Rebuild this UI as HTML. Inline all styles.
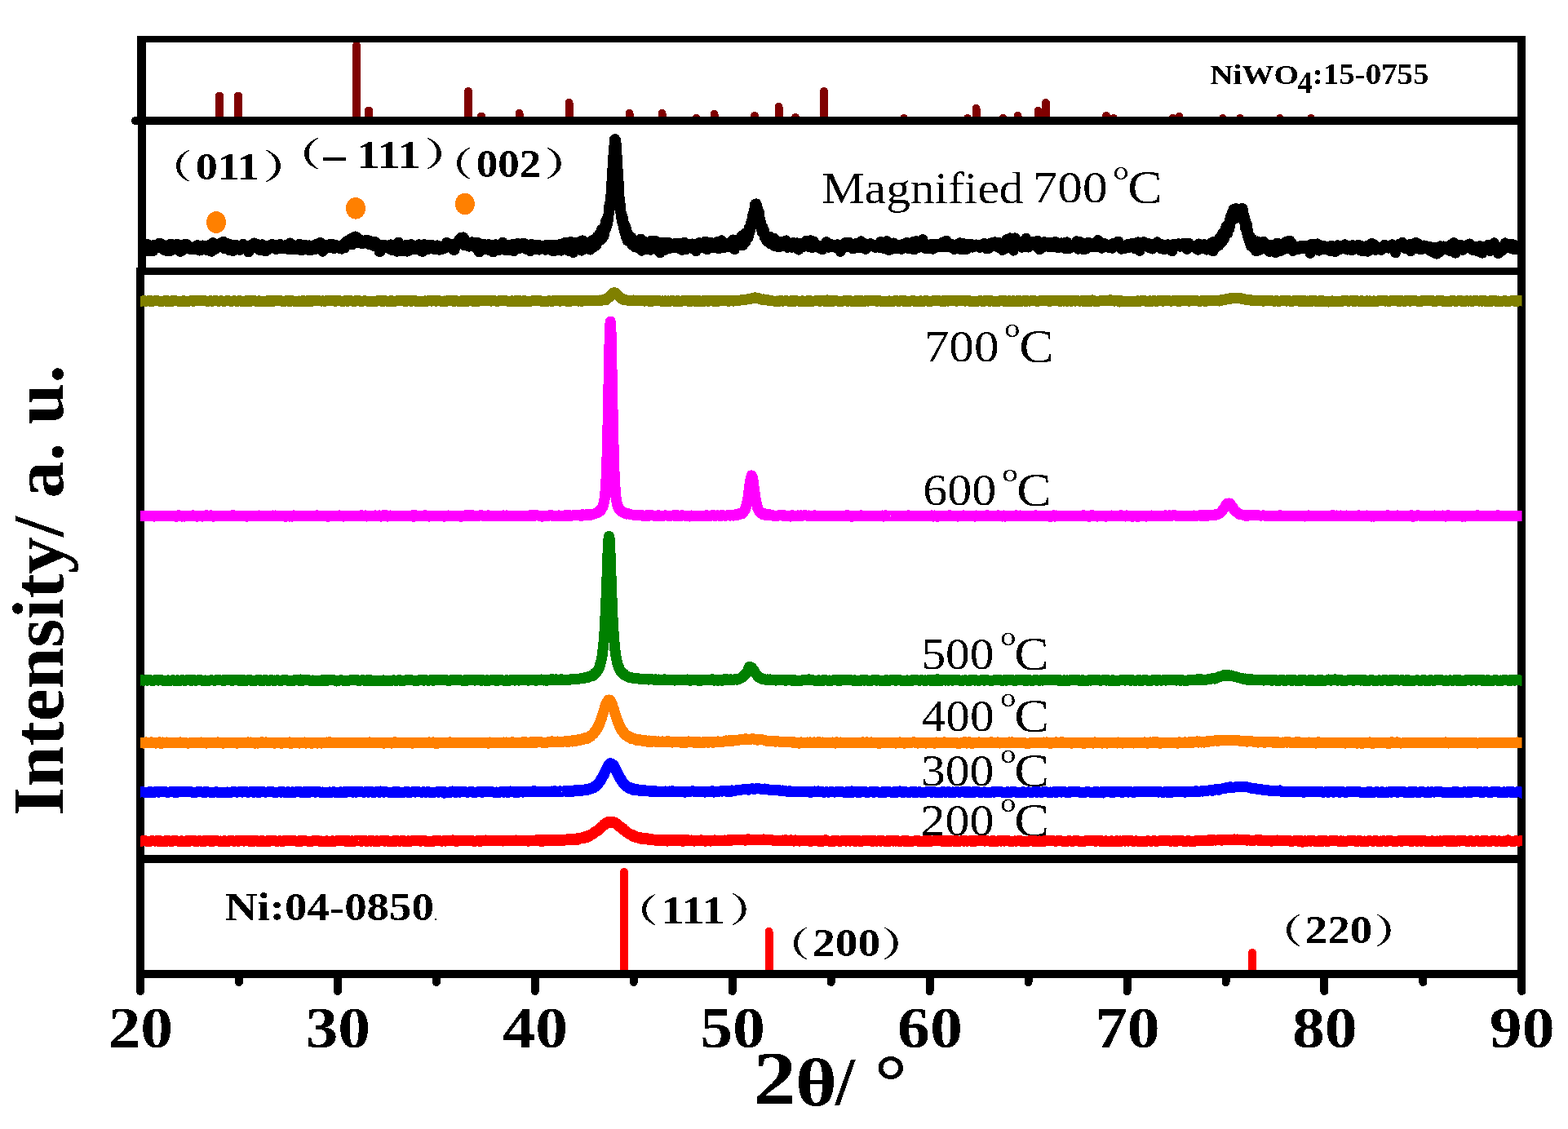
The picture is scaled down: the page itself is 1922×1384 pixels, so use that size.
<!DOCTYPE html><html><head><meta charset="utf-8"><title>XRD</title><style>html,body{margin:0;padding:0;background:#fff;width:1922px;height:1384px;overflow:hidden}svg{display:block}text{font-variant-ligatures:none}polyline,line,rect,circle,ellipse{shape-rendering:crispEdges}.s{font-family:"Liberation Serif","Noto Serif CJK SC",serif}.b{font-weight:bold}.cj{font-family:"Liberation Serif","Noto Serif CJK SC",serif}</style></head><body>
<svg width="1922" height="1384" viewBox="0 0 1922 1384">
<rect width="1922" height="1384" fill="#fff"/>
<clipPath id="cb"><rect x="179" y="153" width="1681" height="175"/></clipPath>
<polyline clip-path="url(#cb)" fill="none" stroke="#000" stroke-width="13" stroke-linejoin="round" points="172,303.4 173,304.1 173.9,306.5 174.9,301.7 175.9,302.8 176.8,303.3 177.8,306.2 178.8,301 179.7,303.5 180.7,299.6 181.7,301.9 182.6,307.9 183.6,302.1 184.6,303.2 185.5,304.8 186.5,305.1 187.5,307.7 188.4,301.8 189.4,300.2 190.4,302.3 191.4,303.1 192.3,301.5 193.3,299.5 194.3,303.9 195.2,298.3 196.2,302.9 197.2,302.1 198.1,299 199.1,302.1 200.1,301.5 201,306.3 202,304.5 203,304.6 203.9,301.5 204.9,307.8 205.9,300.8 206.8,302.9 207.8,303.2 208.8,307.5 209.7,299 210.7,301.4 211.7,303.4 212.6,302.3 213.6,305.8 214.6,302.6 215.5,301.7 216.5,299.5 217.5,299.3 218.4,302 219.4,302.4 220.4,304.9 221.3,308.4 222.3,303.5 223.3,306.9 224.3,306 225.2,300.6 226.2,299.4 227.2,301.8 228.1,304.7 229.1,299.8 230.1,300.6 231,304.9 232,302.2 233,305.4 233.9,304.6 234.9,304.9 235.9,303.7 236.8,305.2 237.8,303.3 238.8,302.5 239.7,305.5 240.7,303.1 241.7,300.7 242.6,306.1 243.6,304.5 244.6,307 245.5,302.3 246.5,303.3 247.5,306.1 248.4,301 249.4,302.8 250.4,301.5 251.3,302.7 252.3,301.1 253.3,306.6 254.2,301 255.2,301.4 256.2,302.4 257.1,300.6 258.1,305.6 259.1,308.2 260.1,299.7 261,297.7 262,303.6 263,305.3 263.9,305.4 264.9,300.8 265.9,299.1 266.8,302.6 267.8,299.1 268.8,299.7 269.7,298.1 270.7,300.7 271.7,300.4 272.6,297.7 273.6,296.2 274.6,300.9 275.5,304.9 276.5,300.1 277.5,298.2 278.4,302.2 279.4,301.4 280.4,302.1 281.3,307 282.3,299.8 283.3,302.3 284.2,301.9 285.2,307.6 286.2,304.7 287.1,300.5 288.1,300.8 289.1,303 290,300.7 291,304 292,301.1 292.9,302.4 293.9,306.5 294.9,304.3 295.9,301.8 296.8,304.6 297.8,299.3 298.8,299.8 299.7,303.2 300.7,302 301.7,303.9 302.6,304.4 303.6,302.4 304.6,308.9 305.5,303.9 306.5,303.5 307.5,304.5 308.4,302.5 309.4,299.5 310.4,302 311.3,298 312.3,303.9 313.3,304 314.2,304.1 315.2,300.7 316.2,299.7 317.1,304.4 318.1,304.6 319.1,306.9 320,300.1 321,299.9 322,302.6 322.9,306.8 323.9,307.3 324.9,306.4 325.8,307.7 326.8,301.8 327.8,301.2 328.8,305.9 329.7,302.1 330.7,301 331.7,302.3 332.6,301.3 333.6,299.4 334.6,301 335.5,300.1 336.5,301.9 337.5,305.3 338.4,303.8 339.4,305.2 340.4,302.1 341.3,301.3 342.3,301.6 343.3,299.4 344.2,302.2 345.2,304.4 346.2,303.2 347.1,302.2 348.1,301.1 349.1,304.7 350,301.7 351,300.2 352,303.2 352.9,300.6 353.9,305.6 354.9,300.7 355.8,298 356.8,300.3 357.8,304 358.7,305.3 359.7,300.6 360.7,303.5 361.6,303.4 362.6,303.4 363.6,305.5 364.6,303.8 365.5,302.4 366.5,299.7 367.5,299.3 368.4,302.1 369.4,306.8 370.4,303.3 371.3,302.4 372.3,304.8 373.3,302.4 374.2,300.5 375.2,303.2 376.2,304.8 377.1,304.2 378.1,306.5 379.1,300.9 380,305.1 381,304.9 382,306.4 382.9,305.2 383.9,303 384.9,301.2 385.8,303.6 386.8,305.6 387.8,299.2 388.7,299.7 389.7,300.7 390.7,302 391.6,300.1 392.6,297.4 393.6,302.3 394.5,299.6 395.5,308.2 396.5,307.3 397.5,301.6 398.4,300.8 399.4,300.9 400.4,301 401.3,301.4 402.3,302.3 403.3,299.9 404.2,303.2 405.2,302.3 406.2,302.1 407.1,299.5 408.1,299.6 409.1,304.5 410,303.9 411,303.2 412,300.8 412.9,301.4 413.9,302.1 414.9,302.7 415.8,302.1 416.8,304.5 417.8,303.2 418.7,305.1 419.7,301.2 420.7,302 421.6,298.8 422.6,303.8 423.6,297.9 424.5,295.7 425.5,296.6 426.5,299.7 427.4,298.7 428.4,298.5 429.4,293.1 430.3,292.6 431.3,300 432.3,291.5 433.3,295.6 434.2,294.2 435.2,290 436.2,290.1 437.1,290.8 438.1,292.8 439.1,297.7 440,294.5 441,296.5 442,294.3 442.9,296.4 443.9,299 444.9,297.1 445.8,296.2 446.8,295 447.8,296.9 448.7,294.3 449.7,298.3 450.7,294.6 451.6,294.9 452.6,294.9 453.6,299.9 454.5,298.3 455.5,299.4 456.5,297.1 457.4,299.5 458.4,301.6 459.4,300.6 460.3,296.6 461.3,298.9 462.3,299.5 463.2,300.5 464.2,301 465.2,308.5 466.2,308.4 467.1,303.9 468.1,300.8 469.1,301.8 470,300.7 471,300.7 472,301.8 472.9,301 473.9,301.8 474.9,302.9 475.8,302.7 476.8,304.6 477.8,305.2 478.7,299.9 479.7,304.5 480.7,304 481.6,306.9 482.6,304.2 483.6,302 484.5,305.2 485.5,305.9 486.5,308.2 487.4,297.9 488.4,297.1 489.4,300.2 490.3,301 491.3,303.1 492.3,307.6 493.2,304.7 494.2,302.4 495.2,304.7 496.1,302.3 497.1,300.4 498.1,306.7 499,308.1 500,304.8 501,306.1 502,306.5 502.9,306.2 503.9,299.6 504.9,303.7 505.8,302.7 506.8,301.5 507.8,302.9 508.7,305.3 509.7,304.4 510.7,302.4 511.6,303.8 512.6,301.8 513.6,299.7 514.5,301.6 515.5,302.3 516.5,308.1 517.4,305.4 518.4,308.1 519.4,301.6 520.3,299.6 521.3,302.7 522.3,306.1 523.2,305.9 524.2,301.7 525.2,304.3 526.1,300 527.1,301.6 528.1,300.6 529,302.4 530,305 531,300.9 531.9,303.7 532.9,305.8 533.9,304 534.8,303.4 535.8,300.9 536.8,301.2 537.8,303.7 538.7,306.2 539.7,305.5 540.7,305.8 541.6,304.2 542.6,303 543.6,303.4 544.5,301.6 545.5,304.3 546.5,301.1 547.4,297.5 548.4,302.5 549.4,302.1 550.3,302.7 551.3,300.2 552.3,299.4 553.2,301.5 554.2,302.2 555.2,299.9 556.1,306.5 557.1,306.2 558.1,298.7 559,301.9 560,297.6 561,299.3 561.9,299.4 562.9,293.6 563.9,293.4 564.8,291.5 565.8,293.8 566.8,296.2 567.7,290.9 568.7,291.8 569.7,301 570.7,296 571.6,301 572.6,299.6 573.6,298.2 574.5,302.1 575.5,299.3 576.5,301 577.4,302 578.4,296.8 579.4,298.7 580.3,298.5 581.3,300.5 582.3,300.8 583.2,303.9 584.2,301 585.2,297.3 586.1,303 587.1,309 588.1,300.4 589,303.9 590,304.8 591,301.6 591.9,302.7 592.9,299.3 593.9,305.1 594.8,303.3 595.8,305.3 596.8,304.4 597.7,302.7 598.7,299.7 599.7,306.4 600.6,300 601.6,300.1 602.6,302.5 603.5,302.1 604.5,309 605.5,302 606.5,301.2 607.4,299.8 608.4,301.6 609.4,304.1 610.3,305 611.3,305.5 612.3,306.3 613.2,300.9 614.2,304.4 615.2,303.7 616.1,297.3 617.1,300.2 618.1,303 619,304.2 620,306.6 621,304 621.9,300.2 622.9,301.3 623.9,307 624.8,302.6 625.8,300.9 626.8,301.9 627.7,299.6 628.7,300.1 629.7,307.7 630.6,303.7 631.6,302.3 632.6,305.3 633.5,304.9 634.5,298.5 635.5,304.9 636.4,302.1 637.4,300.5 638.4,302.5 639.4,301.5 640.3,298.6 641.3,301.8 642.3,301.7 643.2,298.6 644.2,305 645.2,305.5 646.1,304.5 647.1,302.1 648.1,301.2 649,305 650,307.7 651,302.5 651.9,299.4 652.9,302.5 653.9,305.6 654.8,304.1 655.8,305.5 656.8,302.2 657.7,302.2 658.7,300.2 659.7,301.8 660.6,306.1 661.6,300.8 662.6,301.4 663.5,304.9 664.5,301.4 665.5,302.1 666.4,303.7 667.4,303 668.4,306.2 669.3,300.7 670.3,300.7 671.3,303.2 672.2,305.4 673.2,300.8 674.2,300.1 675.2,301.8 676.1,302.5 677.1,307.3 678.1,306.6 679,307.8 680,300.3 681,301.1 681.9,301.5 682.9,300 683.9,304.1 684.8,306.3 685.8,303.1 686,304.4 686.3,301.3 686.6,302.3 686.8,299.4 686.9,302.7 687.2,304.1 687.5,303.6 687.7,307.2 687.8,303.3 688.1,300.5 688.4,303.2 688.7,302.2 688.7,298.9 688.9,301.8 689.2,305.7 689.5,302.8 689.7,305.8 689.8,303.8 690.1,304.3 690.4,302.2 690.6,305.3 690.7,306 691,305.8 691.3,302.5 691.6,301.9 691.6,301.7 691.8,301.6 692.1,305.1 692.4,304 692.6,299.3 692.7,297.3 693,301.3 693.3,302.1 693.5,301 693.6,298.9 693.9,297.9 694.2,302 694.5,298.3 694.5,299.1 694.7,303.9 695,304.6 695.3,300.6 695.5,301.9 695.6,302.5 695.9,299.9 696.2,300.3 696.4,301.7 696.5,299.6 696.8,305.3 697.1,307.3 697.4,301.2 697.4,297.9 697.6,306.3 697.9,305.1 698.2,301.3 698.4,298.8 698.5,301.6 698.8,301.2 699.1,299.9 699.3,299.1 699.4,299.2 699.7,296.6 700,304.3 700.3,304.1 700.3,302.9 700.6,301.7 700.8,302.4 701.1,299.9 701.3,305.1 701.4,299.9 701.7,300.4 702,304.5 702.2,298.7 702.3,300 702.6,309.5 702.9,302.8 703.2,300.1 703.2,303.7 703.5,300.3 703.7,305.6 704,306.5 704.2,304.3 704.3,305.3 704.6,305.9 704.9,301.8 705.1,302.2 705.2,297.3 705.5,299.9 705.8,302.5 706.1,299.1 706.1,303.7 706.4,300.8 706.6,301.5 706.9,299.7 707.1,299.5 707.2,298.2 707.5,299.3 707.8,303.3 708.1,302.4 708.1,302.4 708.4,298.8 708.7,302 709,303.9 709,301.1 709.3,298.6 709.6,298.8 709.8,298.5 710,300.9 710.1,298.4 710.4,303.5 710.7,302.8 711,302.3 711,304.8 711.3,301.3 711.6,305.8 711.9,298.6 711.9,295.6 712.2,297.6 712.5,299.8 712.7,302 712.9,307.1 713,301.2 713.3,302.3 713.6,298.3 713.9,294.8 713.9,298.6 714.2,304.2 714.5,299.9 714.8,302.1 714.8,302.3 715.1,303.3 715.4,304.3 715.6,301.4 715.8,301.3 715.9,303.7 716.2,303.1 716.5,298.8 716.8,303.1 716.8,301.4 717.1,302.2 717.4,298 717.7,296.9 717.7,302.3 718,297.3 718.3,297.8 718.5,299.3 718.7,300.3 718.8,299.4 719.1,299.7 719.4,304.9 719.7,298.7 719.7,299.5 720,302.4 720.3,304.2 720.6,300.8 720.6,301.2 720.9,300 721.2,297.8 721.5,299.8 721.6,301.7 721.7,298.1 722,299.1 722.3,299.3 722.6,298.4 722.6,299.8 722.9,297.9 723.2,298.6 723.5,305.5 723.5,306.1 723.8,297.2 724.1,302.4 724.4,298.7 724.5,298.9 724.6,299.4 724.9,298.9 725.2,295.8 725.5,298.4 725.5,296.1 725.8,298.6 726.1,298.7 726.4,294.4 726.4,302.4 726.7,296.8 727,299.2 727.3,303 727.4,299.4 727.5,301.3 727.8,301.7 728.1,297.6 728.4,296.7 728.4,295.3 728.7,296.5 729,300.9 729.3,296.2 729.3,301.3 729.6,298.1 729.9,295.8 730.2,298.7 730.3,300.4 730.5,295 730.7,295.5 731,300.5 731.3,297.8 731.3,292.9 731.6,290.5 731.9,296.1 732.2,295.5 732.2,291.3 732.2,293.5 732.5,292.3 732.5,294.3 732.8,292.8 732.8,293.4 733.1,292.5 733.1,293.1 733.2,296.4 733.4,291.3 733.4,293.8 733.6,290.7 733.7,295.5 733.9,295 734,293 734.2,292.4 734.2,292 734.3,291.9 734.5,290.6 734.6,291.7 734.8,295.1 734.9,288.6 735.1,294.1 735.1,292.9 735.1,294.1 735.4,292.6 735.4,285.7 735.7,291.8 735.7,294.5 736,291.8 736,288.9 736.1,292.6 736.3,288.2 736.3,287.9 736.5,291.1 736.6,288 736.8,290.4 736.9,284.9 737.1,283.8 737.1,281.7 737.2,284.9 737.4,285.7 737.5,287.8 737.7,286.8 737.8,282.9 738,285.3 738,288.4 738,286.4 738.3,289.6 738.3,292.5 738.6,283.7 738.6,280.5 738.9,281.8 738.9,286.2 739,283.7 739.2,281.2 739.2,286.1 739.4,289.3 739.5,283.9 739.7,283.7 739.8,283 740,286.3 740,288.1 740.1,289.7 740.3,281.5 740.4,281.9 740.6,281.3 740.7,278.2 740.9,282.4 740.9,280.1 740.9,280.7 741.2,282 741.2,281.9 741.5,279.8 741.5,280.2 741.8,275.4 741.8,278.3 741.9,280.6 742.1,281.3 742.1,280.2 742.4,271.6 742.4,276.3 742.6,279.4 742.7,278.3 742.9,279.4 742.9,278.1 743,278.9 743.2,277.1 743.3,271.8 743.5,274 743.6,275.8 743.8,273.7 743.9,268.9 743.9,271.6 744.1,274.9 744.1,276.5 744.4,270.6 744.4,272.5 744.7,270.9 744.7,271 744.8,269.9 745,269.1 745,269.8 745.3,269.7 745.3,267.1 745.5,266.7 745.6,265.2 745.8,265.3 745.8,263.8 745.9,262.9 746.1,261.4 746.2,263.1 746.4,257.1 746.5,256.2 746.7,252.7 746.8,253 746.8,258.2 747,254 747,257.7 747.3,250.4 747.3,253.2 747.6,254.4 747.6,251.8 747.7,252.3 747.9,248.6 747.9,248.2 748.2,248.5 748.2,247.9 748.4,240.8 748.5,245.2 748.7,241.7 748.7,241.7 748.8,241.1 749,241.1 749.1,239.1 749.3,230.4 749.4,234 749.6,230.7 749.7,228.6 749.7,231.3 749.9,223 749.9,223 750.2,220.6 750.2,218 750.5,213.6 750.5,211.1 750.6,208.6 750.8,208.2 750.8,215.1 751.1,209.1 751.1,205.4 751.4,206.2 751.4,202 751.6,192.4 751.6,194.6 751.7,192.1 751.9,193.6 752,196 752.2,186.1 752.3,189.7 752.5,185.9 752.6,184.3 752.6,186.3 752.6,186.2 752.8,184.9 752.9,179.5 753.1,176.7 753.1,176 753.4,170.9 753.4,172.1 753.5,177.4 753.7,175.8 753.7,170.6 754,174.7 754,176.3 754,175.2 754.3,173.6 754.3,172.3 754.5,174.8 754.5,171.8 754.6,174 754.8,175.8 754.9,172.3 755.1,177 755.2,181.4 755.4,184.3 755.5,181.9 755.5,183.4 755.7,189 755.8,184.5 756,189.7 756,193 756.3,200 756.3,197 756.4,197.8 756.6,199.4 756.6,202.7 756.9,203.3 756.9,205.2 757.2,210.3 757.2,212.4 757.4,215 757.4,216.7 757.5,221.3 757.7,222.4 757.8,222.3 758,221.6 758.1,223.7 758.3,229 758.4,230.8 758.4,227.8 758.6,233.7 758.7,233.9 758.9,237.9 758.9,243.4 759.2,243.2 759.2,241.8 759.3,242.5 759.5,245.7 759.5,247 759.8,250.6 759.8,250.7 760.1,250.1 760.1,254.9 760.3,252.8 760.3,255.1 760.4,254.7 760.6,254.1 760.7,253.8 760.9,257.1 761,261.5 761.2,260.5 761.3,261 761.3,260 761.5,266.1 761.6,262 761.8,262.4 761.8,262.2 762.1,267.5 762.1,265.6 762.2,267.7 762.4,268.9 762.4,263.8 762.7,268.7 762.7,272.2 763,272.3 763,270.7 763.2,273 763.3,266.8 763.3,267.5 763.5,269.7 763.6,272.5 763.8,271.6 763.9,276.2 764.1,273.6 764.2,272.2 764.2,273.5 764.4,279 764.5,279.8 764.7,277.7 764.8,281 765,276.1 765,275.1 765.1,280.8 765.3,278.9 765.3,281.6 765.6,283.8 765.6,282.1 765.9,281.1 765.9,280.6 766.1,277.4 766.2,282 766.2,285.7 766.4,285.6 766.5,280 766.7,279 766.8,282.5 767,285.6 767.1,278.1 767.1,282.3 767.3,285 767.4,283.8 767.6,285.6 767.7,291.4 767.9,290.8 767.9,281.5 768,283.8 768.2,288.3 768.2,291.5 768.5,287.1 768.5,289.7 768.8,286.5 768.8,290.6 769,290.6 769.1,295 769.1,293 769.3,286.1 769.4,288.7 769.6,289 769.7,288.1 769.9,290.8 770,287 770,290.8 770.2,288.7 770.3,292.8 770.5,289.2 770.6,292.9 770.8,293.4 770.8,293.5 770.9,290.2 771.1,292.2 771.1,291.9 771.4,291.1 771.4,292.1 771.7,293 771.7,293.4 771.9,295.9 772,292.4 772,290.1 772.3,291.9 772.3,293.6 772.5,295.1 772.6,292.5 772.8,291.9 772.9,295.9 772.9,293.5 773.1,294.7 773.2,295.1 773.4,295.1 773.5,293.9 773.7,295.4 773.8,296.4 773.8,298.6 774,297.2 774,293.3 774.3,296.9 774.3,291.6 774.6,292.7 774.6,300.2 774.8,296.8 774.9,294.3 774.9,295.3 775.2,296.8 775.2,297.9 775.4,299.9 775.5,299.6 775.7,293 775.8,298.8 776,294.3 776.3,294.4 776.6,297 776.7,294.2 776.9,297.3 777.2,296.9 777.5,299.2 777.7,302.5 777.8,297.1 778.1,296.2 778.3,298.3 778.6,299.1 778.7,295.4 778.9,298.9 779.2,294.9 779.5,302 779.7,302.8 779.8,298.7 780.1,296.6 780.4,298.2 780.6,298.5 780.7,299.6 781,299.3 781.2,301.9 781.5,302.1 781.6,296.1 781.8,295.3 782.1,299.9 782.4,300.4 782.6,304 782.7,297.4 783,297 783.3,302.1 783.5,301.5 783.6,298.2 783.9,299.5 784.2,301.8 784.4,299.9 784.5,302 784.7,300 785,303.3 785.3,293 785.5,294 785.6,301 785.9,303.3 786.2,302.5 786.4,307.3 786.5,304.4 786.8,302.4 787.1,301.4 787.3,301.4 787.4,301.8 787.6,304.4 787.9,301.4 788.2,297.6 788.4,301.3 788.5,298.4 788.8,298.5 789.1,297.1 789.3,301.9 789.4,298.8 789.7,301.3 790,302 790.2,296.3 790.3,296.9 790.5,296.5 790.8,298.1 791.1,302 791.3,301.1 791.4,301.5 791.7,306 792,302.1 792.2,301.4 792.3,302.7 792.6,300.9 792.9,300.8 793.2,300.9 793.2,299.4 793.4,302.3 793.7,300.4 794,299.7 794.2,298.9 794.3,298.9 794.6,297.1 794.9,298.7 795.1,300.7 795.2,303.6 795.5,299.5 795.8,305.9 796.1,300.9 796.1,305.2 796.3,300.8 796.6,304.1 796.9,305.8 797.1,303.9 797.2,305.1 797.5,306.2 797.8,299.9 798,295.5 798.1,295.8 798.4,304.1 798.7,304.2 799,300.9 799,301.2 799.2,297.9 799.5,302.1 799.8,304.2 800,301.2 800.1,301.5 800.4,298.2 800.7,302.1 800.9,301.1 801,302.8 801.3,301.3 801.6,301.2 801.9,301.8 801.9,301.4 802.1,304 802.4,302.8 802.7,298.6 802.9,302.7 803,301.4 803.3,295.5 803.6,295.6 803.8,304.1 803.9,297 804.2,300.5 804.5,301.4 804.8,299.6 804.8,304.7 805.1,303.7 805.3,306 805.6,302.6 805.8,302.3 805.9,299.5 806.2,304 806.5,300.6 806.7,300.8 806.8,300.6 807.1,302 807.4,303.8 807.7,302 807.7,301.9 808,303.3 808.2,301.9 808.5,300.1 808.7,297.6 808.8,304.2 809.1,309.9 809.4,304.2 809.6,303.9 809.7,300.4 810,304.2 810.3,300.9 810.6,301.8 810.6,304.1 810.9,303.1 811.1,297.8 811.4,298.6 811.6,299 811.7,301.9 812,304.4 812.3,306.6 812.6,302.1 812.6,300.1 812.9,297.1 813.2,299.7 813.5,302.9 813.5,304.3 813.8,306.8 814.1,300.4 814.3,301.5 814.5,303.3 814.6,305.6 814.9,302.8 815.2,301.1 815.5,303 815.5,302.4 815.8,300.4 816.1,302.3 816.4,299.9 816.4,298.2 816.7,299.3 817,298.2 817.2,301.6 817.4,300.6 817.5,300.8 817.8,303.3 818.1,305.1 818.4,303.5 818.4,302.6 818.7,302.3 819,297.3 819.3,297.3 820.3,301 821.3,298.2 822.2,304.1 823.2,301.5 824.2,303.7 825.1,299 826.1,303.4 827.1,300.7 828,298.5 829,300.6 830,301 830.9,304.1 831.9,301.5 832.9,304 833.8,298.5 834.8,303.3 835.8,306.3 836.7,301.2 837.7,299 838.7,297.2 839.6,300.6 840.6,305.7 841.6,300.4 842.5,299.1 843.5,299.2 844.5,299.7 845.4,302.9 846.4,303.1 847.4,304.3 848.4,299 849.3,299.8 850.3,300.1 851.3,303.1 852.2,303.1 853.2,307.7 854.2,304.1 855.1,300.6 856.1,299.5 857.1,297.7 858,301.8 859,302.5 860,303.5 860.9,299.5 861.9,303 862.9,303.9 863.8,303.5 864.8,296 865.8,299.9 866.7,305.9 867.7,303.1 868.7,298.7 869.6,300.3 870.6,301.2 871.6,297.6 872.5,297.9 873.5,299.9 874.5,303.6 875.4,299.3 876.4,300.9 877.4,298.7 878.3,296.8 879.3,300.7 880.3,304.6 881.3,301.4 882.2,304.4 883.2,299.3 884.2,294.8 885.1,297.7 886.1,302 887.1,303.8 888,303.1 889,298 890,302 890.9,301.7 891.9,299.5 892.9,298 893.8,302.4 894.8,298.8 895.8,302.6 896.5,303.4 896.7,295.9 896.8,299.7 897.1,302 897.4,300.2 897.7,303.3 897.7,302.7 897.9,299.5 898.2,299 898.5,297.7 898.7,299.8 898.8,293.9 899.1,297.6 899.4,301.3 899.6,301.9 899.7,299.8 900,302.8 900.3,305.6 900.6,304 900.6,300.9 900.8,301.1 901.1,299.4 901.4,299.3 901.6,297.4 901.7,296.6 902,295.1 902.3,297.1 902.5,296.5 902.6,298.1 902.9,294.6 903.2,296 903.5,296.9 903.5,297.7 903.7,298.5 904,297.5 904.3,298.8 904.5,299.5 904.6,293.8 904.9,295.9 905.2,299.6 905.4,298.5 905.5,298.8 905.8,293.5 906.1,295.9 906.4,294.5 906.4,294.8 906.7,300.9 906.9,294.8 907.2,297.1 907.4,298.2 907.5,298.1 907.8,294.7 908.1,295.3 908.3,293.5 908.4,298.6 908.7,291.4 909,293.3 909.3,289.3 909.3,294.4 909.6,293.9 909.8,292.4 910.1,297.9 910.3,297.3 910.4,297.7 910.7,300.6 911,293.3 911.2,290.7 911.3,291.9 911.6,296.5 911.9,295.1 912.2,298.3 912.2,294.2 912.5,294.1 912.7,295 913,291.5 913.2,293.8 913.3,294.9 913.6,296.8 913.9,288 914.1,285.7 914.2,294.7 914.5,288.6 914.8,292.6 915.1,287.5 915.1,290.8 915.4,288.9 915.6,288.8 915.9,286.1 916.1,287.5 916.2,287.9 916.5,290.2 916.8,286.5 917.1,285.2 917.1,291.7 917.4,283.4 917.7,284.1 918,283.4 918,279.4 918.3,282.9 918.6,282.2 918.8,285.2 919,280.3 919.1,281.4 919.4,281.1 919.7,278.4 920,278 920,281.3 920.3,274.4 920.6,274.2 920.9,274.8 920.9,273.7 921.2,273.3 921.5,271.4 921.7,271.3 921.9,269.3 922,272.5 922.3,273.5 922.6,268.5 922.9,263.1 922.9,263.2 923.2,262.1 923.5,263.5 923.8,259.8 923.8,261.4 924.1,258.3 924.4,258.9 924.6,259.4 924.8,259.3 924.9,258.2 925.2,251.4 925.5,252.2 925.8,254.1 925.8,250.3 926.1,250.8 926.4,253.2 926.7,255.6 926.7,252.2 926.7,249.8 927,251.1 927.3,252.9 927.6,251.7 927.7,257.8 927.8,254.1 928.1,259.3 928.4,254.8 928.7,256.7 928.7,262.8 929,258.6 929.3,257.8 929.6,264.2 929.6,262.5 929.9,261 930.2,259.4 930.5,262.4 930.6,264.3 930.7,267.7 931,266.6 931.3,271.1 931.6,272.4 931.6,274.1 931.9,273.8 932.2,272 932.5,272.8 932.5,277.3 932.8,279.9 933.1,278.7 933.4,276.3 933.5,280.9 933.6,277.1 933.9,277.6 934.2,278.6 934.5,282.4 934.5,285 934.8,278.4 935.1,283.3 935.4,281.3 935.4,285.2 935.7,283.4 936,285.7 936.3,286 936.4,282.1 936.5,284.8 936.8,288 937.1,286.9 937.4,291.1 937.4,290 937.7,287.7 938,287.6 938.3,290 938.3,289.8 938.6,289.5 938.9,290.4 939.2,292.3 939.3,294.4 939.5,293.9 939.7,294 940,293.7 940.3,295.6 940.3,296 940.6,292.8 940.9,293.3 941.2,296.1 941.2,291.6 941.5,295.4 941.8,292.3 942.1,295.6 942.2,296 942.4,293.4 942.6,295.1 942.9,290.1 943.2,290 943.2,295.5 943.5,293.9 943.8,291.4 944.1,298.6 944.1,295.4 944.4,297.1 944.7,293.5 945,298.3 945.1,296.1 945.3,298.4 945.5,296.8 945.8,296.5 946.1,295.6 946.1,297.1 946.4,294.2 946.7,299 947,296 947,293.6 947.3,298.9 947.6,297.6 947.9,292.6 948,300.7 948.2,299.8 948.5,296.8 948.7,292.1 949,293.4 949,296 949.3,298.4 949.6,298 949.9,301.7 950,300.4 950.2,299.6 950.5,301.5 950.8,297.5 950.9,299.1 951.1,297.7 951.4,296 951.6,296.8 951.9,301.8 951.9,300.4 952.2,298.9 952.5,301.8 952.8,302 952.9,299.1 953.1,298.1 953.4,299.1 953.7,298 953.8,302.7 954,302.4 954.3,298.3 954.5,300.8 954.8,298.4 954.8,297.9 955.1,303 955.4,298.6 955.7,296.1 955.8,299.8 956,298.5 956.3,299.7 956.6,300.7 956.7,300.5 956.9,297.3 957.7,298.2 958.7,301.5 959.6,297.8 960.6,301 961.6,299 962.5,301.8 963.5,294.9 964.5,299.2 965.4,303.3 966.4,301.4 967.4,298.3 968.3,298.1 969.3,302.4 970.3,303.2 971.2,302 972.2,297.5 973.2,297.6 974.1,302.5 975.1,301.1 976.1,303.8 977,297.9 978,304.2 979,306.1 979.9,298.5 980.9,302.1 981.9,303 982.8,303.1 983.8,303 984.8,301.8 985.8,300.2 986.7,299.6 987.7,295.5 988.7,301.3 989.6,302.2 990.6,298.5 991.6,298.4 992.5,296.8 993.5,294.9 994.5,299.3 995.4,303.6 996.4,298.5 997.4,296 998.3,301.2 999.3,302.9 1000.3,302.4 1001.2,300.4 1002.2,303.2 1003.2,302.2 1004.1,301.3 1005.1,302.7 1006.1,302.7 1007,303.4 1008,306 1009,303.9 1009.9,302.1 1010.9,302.9 1011.9,300.9 1012.8,296.7 1013.8,300.8 1014.8,301.1 1015.7,303.2 1016.7,299.5 1017.7,300.6 1018.6,300.6 1019.6,299.9 1020.6,302.5 1021.6,302.4 1022.5,301.1 1023.5,301.2 1024.5,303.7 1025.4,302.6 1026.4,299.9 1027.4,300.1 1028.3,300.5 1029.3,304.3 1030.3,308.5 1031.2,306 1032.2,301.2 1033.2,301.1 1034.1,302.1 1035.1,302.9 1036.1,297.7 1037,299.3 1038,300.4 1039,302.8 1039.9,301.3 1040.9,297.4 1041.9,302.3 1042.8,303.1 1043.8,302.1 1044.8,299.7 1045.7,305 1046.7,303.7 1047.7,300 1048.6,298.6 1049.6,298.4 1050.6,299.7 1051.5,300.4 1052.5,303 1053.5,304 1054.5,300.3 1055.4,295.8 1056.4,299 1057.4,302.3 1058.3,301 1059.3,303.4 1060.3,298.8 1061.2,305.3 1062.2,301.1 1063.2,300.8 1064.1,302.8 1065.1,300.4 1066.1,301.4 1067,298.6 1068,299 1069,299.8 1069.9,300.8 1070.9,302 1071.9,301.9 1072.8,303.3 1073.8,302.9 1074.8,302.2 1075.7,302.3 1076.7,301.2 1077.7,302.9 1078.6,303.4 1079.6,296.4 1080.6,299.8 1081.5,299.8 1082.5,304.2 1083.5,298 1084.4,299.2 1085.4,298.7 1086.4,300.1 1087.3,295.6 1088.3,301 1089.3,306.7 1090.3,301 1091.2,298.3 1092.2,305.7 1093.2,303.2 1094.1,301.3 1095.1,298 1096.1,304.7 1097,300.9 1098,299.7 1099,300.3 1099.9,304.5 1100.9,300.1 1101.9,302.9 1102.8,302.2 1103.8,301.5 1104.8,305.3 1105.7,301.8 1106.7,299.5 1107.7,302.7 1108.6,302.5 1109.6,303.3 1110.6,298.2 1111.5,297.5 1112.5,299.8 1113.5,304.7 1114.4,299.9 1115.4,298 1116.4,300.7 1117.3,303.9 1118.3,296.8 1119.3,299 1120.2,305.9 1121.2,299.8 1122.2,299.9 1123.2,295.7 1124.1,297.4 1125.1,303 1126.1,303.3 1127,300.2 1128,302.5 1129,298.2 1129.9,298.7 1130.9,293.7 1131.9,298.1 1132.8,301.9 1133.8,299.5 1134.8,304.8 1135.7,302.9 1136.7,302 1137.7,305 1138.6,304.5 1139.6,301 1140.6,302.2 1141.5,300.5 1142.5,299.1 1143.5,305.3 1144.4,303.7 1145.4,303 1146.4,303 1147.3,303.2 1148.3,302.4 1149.3,299.2 1150.2,300.3 1151.2,302.5 1152.2,302.5 1153.1,299 1154.1,300.4 1155.1,301.2 1156,297 1157,297 1158,302.9 1159,300.1 1159.9,295.1 1160.9,300.3 1161.9,299.3 1162.8,301.7 1163.8,302.8 1164.8,300.5 1165.7,300 1166.7,299.6 1167.7,301 1168.6,302.3 1169.6,305.5 1170.6,305 1171.5,303 1172.5,301.5 1173.5,299.6 1174.4,300.3 1175.4,302.2 1176.4,297.9 1177.3,299.3 1178.3,305.9 1179.3,304.8 1180.2,302.6 1181.2,298.7 1182.2,303.5 1183.1,303.1 1184.1,305.6 1185.1,305.4 1186,301.4 1187,300.3 1188,299 1188.9,302.1 1189.9,303.1 1190.9,299.6 1191.9,303.1 1192.8,302.5 1193.8,301.7 1194.8,301.4 1195.7,301.1 1196.7,299.9 1197.7,302.1 1198.6,300.8 1199.6,301.1 1200.6,302.7 1201.5,303.4 1202.5,301 1203.5,300.2 1204.4,302.1 1205.4,302.9 1206.4,298.3 1207.3,300.2 1208.3,299.4 1209.3,304.9 1210.2,303.6 1211.2,300.3 1212.2,304.4 1213.1,298.9 1214.1,299.9 1215.1,297.8 1216,302.1 1217,301.3 1218,301.8 1218.9,299.9 1219.9,296.8 1220.9,301.2 1221.8,302.1 1222.8,297.4 1223.8,303.3 1224.7,299.4 1225.7,298 1226.7,298.5 1227.7,303.7 1228.6,306.5 1229.6,301.4 1230.6,305.4 1231.5,298.4 1232.5,300.7 1233.5,294.1 1234.4,293.4 1235.4,298.9 1236.4,296.2 1237.3,296.6 1238.3,291.9 1239.3,296.7 1240.2,301.3 1241.2,305.7 1242.2,307.1 1243.1,299 1244.1,291.9 1245.1,294.2 1246,300.9 1247,295.6 1248,298 1248.9,299.4 1249.9,299.3 1250.9,301.2 1251.8,298.4 1252.8,303.2 1253.8,297.8 1254.7,297.7 1255.7,301.9 1256.7,301.9 1257.6,292.4 1258.6,299.7 1259.6,300.3 1260.5,303 1261.5,302 1262.5,301.6 1263.5,299.3 1264.4,296.1 1265.4,297 1266.4,298.7 1267.3,300.3 1268.3,299.6 1269.3,301.5 1270.2,298.2 1271.2,299.7 1272.2,295.3 1273.1,297 1274.1,305.9 1275.1,301.6 1276,300.1 1277,301.4 1278,301.4 1278.9,299.4 1279.9,296.7 1280.9,302.1 1281.8,301.1 1282.8,300.9 1283.8,301.3 1284.7,299.8 1285.7,302.5 1286.7,302.4 1287.6,297.1 1288.6,298.8 1289.6,298.9 1290.5,298.3 1291.5,302.5 1292.5,301.4 1293.4,296.6 1294.4,296.9 1295.4,298.3 1296.4,301.2 1297.3,303.7 1298.3,302.1 1299.3,299.4 1300.2,299.9 1301.2,297.9 1302.2,299.8 1303.1,299.5 1304.1,300.2 1305.1,304.3 1306,297.1 1307,300.2 1308,296.9 1308.9,299.9 1309.9,304.7 1310.9,301.6 1311.8,304.2 1312.8,301.8 1313.8,302.1 1314.7,300.5 1315.7,300.2 1316.7,300.4 1317.6,301.1 1318.6,302.3 1319.6,295.8 1320.5,303.6 1321.5,305.3 1322.5,299 1323.4,296.3 1324.4,299.4 1325.4,303 1326.3,304.1 1327.3,305.7 1328.3,302.7 1329.2,300.4 1330.2,302 1331.2,305.1 1332.2,299.5 1333.1,299.7 1334.1,297.1 1335.1,302.2 1336,301 1337,302.6 1338,301.4 1338.9,301.3 1339.9,301.8 1340.9,301.9 1341.8,301.6 1342.8,298.6 1343.8,303 1344.7,296.7 1345.7,294.5 1346.7,295.7 1347.6,298.1 1348.6,301.2 1349.6,301 1350.5,304.2 1351.5,299.5 1352.5,301.6 1353.4,302.3 1354.4,298.7 1355.4,301.3 1356.3,300.2 1357.3,301.7 1358.3,302.6 1359.2,303.6 1360.2,302.5 1361.2,303.5 1362.1,302.2 1363.1,304.2 1364.1,298.5 1365.1,298.9 1366,302 1367,299.5 1368,300.2 1368.9,299.2 1369.9,300.4 1370.9,296 1371.8,299.8 1372.8,301.5 1373.8,303 1374.7,305.2 1375.7,303.4 1376.7,304.6 1377.6,304.7 1378.6,301.4 1379.6,301.8 1380.5,301.3 1381.5,303.5 1382.5,299.3 1383.4,303.7 1384.4,302.7 1385.4,303 1386.3,299.4 1387.3,302.9 1388.3,298.2 1389.2,301.2 1390.2,304 1391.2,304.7 1392.1,298.8 1393.1,302.4 1394.1,297.5 1395,296.8 1396,299.8 1397,307.3 1397.9,300.6 1398.9,303.3 1399.9,300.3 1400.9,302.5 1401.8,296.7 1402.8,300 1403.8,301.5 1404.7,298.9 1405.7,300.2 1406.7,298.1 1407.6,300.9 1408.6,303.8 1409.6,299.2 1410.5,301.8 1411.5,302.7 1412.5,305 1413.4,303.6 1414.4,303.2 1415.4,303.2 1416.3,300.3 1417.3,301.2 1418.3,296.8 1419.2,302.9 1420.2,301.3 1421.2,302.3 1422.1,302.7 1423.1,304.8 1424.1,299.6 1425,300 1426,304.9 1427,305.8 1427.9,301.2 1428.9,304.7 1429.9,303.1 1430.8,301.2 1431.8,299.8 1432.8,302 1433.8,304.3 1434.7,303.2 1435.7,302.4 1436.7,307.9 1437.6,302.7 1438.6,299.6 1439.6,303.3 1440.5,302 1441.5,301.7 1442.5,301.4 1443.4,300.7 1444.4,298.8 1445.4,302 1446.3,299.9 1447.3,302.1 1448.3,301.2 1449.2,301.5 1450.2,298.7 1451.2,302.4 1452.1,299.5 1453.1,298.5 1454.1,301.1 1455,305.3 1456,299.2 1457,298 1457.9,303.1 1458.9,300.1 1459.9,300.9 1460.8,301.7 1461.8,301.3 1462.8,301.8 1463.7,301.2 1464.7,301.4 1465.7,304.4 1466.6,305 1467.6,302.1 1468.6,306.3 1469.6,299 1470.5,301.4 1471.5,303.3 1472.5,304.7 1473.4,302.3 1474.4,302.2 1475.4,300.8 1476.3,299.6 1477.3,300.3 1478.3,303.6 1479.2,306.1 1480.2,301.7 1481.2,304.5 1482.1,302.9 1483.1,300 1484.1,303.8 1485,297.8 1485.4,298.1 1485.7,305.4 1486,304.3 1486,298.3 1486.3,298.4 1486.6,302.5 1486.8,304.3 1487,308 1487.1,305.4 1487.4,296.5 1487.7,297.1 1487.9,303.5 1488,298.6 1488.3,303.8 1488.6,304.7 1488.9,303.6 1488.9,301.6 1489.2,303 1489.5,295.9 1489.8,299.6 1489.9,296.1 1490,298.3 1490.3,302.5 1490.6,296.3 1490.8,301.9 1490.9,296.5 1491.2,297.9 1491.5,298.8 1491.8,295.5 1491.8,301 1492.1,301 1492.4,300.8 1492.7,300.1 1492.8,298.5 1492.9,297.7 1493.2,301.3 1493.5,300.7 1493.7,298.2 1493.8,298.5 1494.1,300.6 1494.4,293.6 1494.6,297.2 1494.7,297 1494.7,291.5 1494.9,293.6 1495,297.8 1495.2,295 1495.3,294.6 1495.5,295.6 1495.6,291.4 1495.7,297.8 1495.7,296.1 1495.8,293.5 1496,295.6 1496.1,298.2 1496.3,296.4 1496.4,297.2 1496.6,290.4 1496.6,292.2 1496.7,291.7 1496.9,293.3 1497,291.4 1497.2,293.7 1497.3,290.7 1497.5,294.3 1497.6,291.5 1497.6,297.3 1497.8,290 1497.9,287.2 1498.1,289.1 1498.2,291 1498.4,286.4 1498.5,290.9 1498.6,291.3 1498.7,293.7 1498.7,293.6 1498.9,291.2 1499,290.8 1499.2,287.1 1499.3,289.4 1499.5,286.5 1499.5,290.8 1499.6,288.1 1499.8,284.7 1499.9,288.4 1500.1,289.2 1500.2,285.2 1500.4,293 1500.5,292.6 1500.5,291.1 1500.7,286.7 1500.8,288 1501,289.7 1501.1,286 1501.3,286.9 1501.4,285.2 1501.5,283.7 1501.6,283.9 1501.7,284.3 1501.8,285.1 1501.9,280.3 1502.1,286.5 1502.2,286.3 1502.4,281.5 1502.4,287 1502.5,287.1 1502.7,285.1 1502.8,284.5 1503,280.4 1503.1,278.9 1503.3,277.1 1503.4,283 1503.4,286.5 1503.6,280.8 1503.7,277.6 1503.9,277.5 1504,282.7 1504.2,282.3 1504.3,284.9 1504.4,284 1504.5,283.4 1504.6,277.4 1504.7,279.7 1504.8,286.2 1505,280.9 1505.1,279.2 1505.3,278.4 1505.4,277.1 1505.4,276.6 1505.6,279.6 1505.7,280.6 1505.9,278 1506,274.7 1506.2,274.3 1506.3,275.6 1506.3,274.6 1506.5,273.3 1506.6,274.4 1506.8,280.6 1506.9,279.7 1507.1,276.7 1507.2,276.5 1507.3,278.1 1507.4,277.8 1507.5,269.9 1507.7,270.4 1507.7,271.9 1507.9,275.4 1508,271.7 1508.2,274.3 1508.3,272.9 1508.3,265.7 1508.5,268.8 1508.6,271.1 1508.8,267.5 1508.9,270.4 1509.1,267.4 1509.2,270 1509.2,268.5 1509.4,268.1 1509.5,268.1 1509.7,263.1 1509.8,268.1 1510,263.1 1510.1,263.6 1510.2,263.8 1510.3,262.1 1510.4,260.9 1510.6,261.6 1510.7,260.4 1510.8,260.6 1510.9,263.7 1511.1,263.1 1511.2,265.9 1511.2,261.6 1511.4,264.1 1511.5,265.5 1511.7,263.9 1511.8,262.4 1512,256.6 1512.1,260.8 1512.1,259 1512.3,262.3 1512.4,261.1 1512.6,263.6 1512.6,260.9 1512.7,259.7 1512.9,260 1513,256.4 1513.1,260.1 1513.2,258.2 1513.3,261.8 1513.5,259.4 1513.6,257.5 1513.7,256.2 1513.8,260.9 1514,259.9 1514.1,260.9 1514.1,259.7 1514.3,262.5 1514.4,261.3 1514.6,261.7 1514.7,261.3 1514.9,255.6 1515,258.7 1515,259.5 1515.2,260.5 1515.3,257.5 1515.5,263.9 1515.6,261.3 1515.8,267.2 1515.9,264.1 1516,259 1516.1,259.7 1516.2,262.1 1516.4,261.5 1516.5,262.4 1516.6,259.9 1516.7,264.4 1516.9,265.2 1517,259.4 1517,264.5 1517.2,263 1517.3,257.3 1517.5,258 1517.6,261.1 1517.8,261.2 1517.9,259.2 1517.9,263.2 1518.1,258.1 1518.2,261 1518.4,257.6 1518.5,258.7 1518.7,257 1518.8,259.2 1518.9,260.8 1519,260.6 1519.1,265.1 1519.3,261.9 1519.4,259.3 1519.6,263.1 1519.6,258.7 1519.8,260.3 1519.9,258.4 1519.9,262.1 1520.1,261.5 1520.2,259.7 1520.4,260 1520.5,261 1520.7,257.6 1520.8,260.1 1520.8,261.8 1521,265.1 1521.1,261.8 1521.3,262.9 1521.4,260.7 1521.6,264.7 1521.7,263.3 1521.8,255.7 1521.8,260.3 1521.9,264.1 1522,264.8 1522.2,266.4 1522.3,264 1522.5,260.8 1522.6,262.4 1522.7,264.8 1522.8,262.9 1522.8,262.2 1523,256.6 1523.1,255.8 1523.3,263.3 1523.4,267.2 1523.6,265 1523.7,262.3 1523.7,259.5 1523.9,264.2 1524,267.9 1524.2,264.8 1524.3,268.5 1524.5,266.5 1524.6,267.6 1524.7,269 1524.8,264.7 1524.9,269.3 1525.1,270.6 1525.2,264.9 1525.4,269.4 1525.5,272.4 1525.6,272 1525.7,273.8 1525.7,270.2 1525.9,271.9 1526,275.3 1526.2,278.6 1526.3,274.7 1526.5,277.6 1526.6,270.6 1526.6,274.6 1526.8,276.4 1526.9,279.6 1527.1,277 1527.2,280.2 1527.4,280.8 1527.5,274.9 1527.6,282.2 1527.7,280.4 1527.8,278.8 1528,277 1528.1,276.1 1528.3,275.1 1528.4,281.7 1528.6,282.9 1528.6,285.8 1528.6,282.9 1528.8,287.2 1528.9,285.1 1529.1,285.3 1529.2,287.7 1529.4,283.3 1529.5,286.7 1529.5,287.1 1529.7,284.3 1529.8,283.6 1530,291.5 1530.1,287.4 1530.3,290.1 1530.4,291.4 1530.5,292.2 1530.6,291.5 1530.7,290.8 1530.9,291.3 1531,291.4 1531.2,294.3 1531.3,294.5 1531.5,295.5 1531.5,294.8 1531.6,296.1 1531.7,293.3 1531.8,297 1532,289.9 1532.1,292.2 1532.3,289.5 1532.4,294.6 1532.4,297.7 1532.6,297.1 1532.7,297.1 1532.9,293.1 1533,291.5 1533.2,294 1533.3,297.7 1533.4,296 1533.5,301.6 1533.6,298.3 1533.8,295.7 1533.9,297.7 1534.1,294.8 1534.2,300.4 1534.4,300.7 1534.4,300.4 1534.5,295.6 1534.6,300 1534.7,299.5 1534.9,295 1535,294.6 1535.2,293.1 1535.3,299.1 1535.3,302.9 1535.5,299.7 1535.6,296.8 1535.8,300.7 1535.9,302 1536.1,301 1536.2,302.8 1536.3,302.8 1536.4,300.1 1536.5,300.7 1536.7,302.6 1536.8,295.9 1537,300.6 1537.1,302.9 1537.3,304.5 1537.3,302.6 1537.4,303 1537.5,300.4 1537.6,297.2 1537.8,298.9 1537.9,299.3 1538.1,298.4 1538.2,303.1 1538.3,302.7 1538.4,299.2 1538.5,303.6 1538.7,299.2 1538.8,299.7 1539,301.2 1539.1,305.5 1539.2,302.5 1539.3,302.5 1539.4,302 1539.6,302 1539.7,307.9 1539.9,303.5 1540.2,298.9 1540.2,299.2 1540.5,296.3 1540.7,297.6 1541,304.3 1541.2,299.5 1541.3,302.5 1541.6,295.9 1541.9,298.3 1542.1,299.6 1542.2,299.3 1542.5,306.3 1542.8,300.6 1543.1,301.1 1543.1,299.2 1543.4,303.7 1543.6,301 1543.9,299.8 1544.1,306.4 1544.2,303.5 1544.5,303.8 1544.8,304.5 1545,299.1 1545.1,300.7 1545.4,304.6 1545.7,300.8 1546,300.3 1546,305 1546.3,302.2 1546.5,298 1546.8,302.7 1547,301.7 1547.1,301.8 1547.4,303.2 1547.7,299.6 1547.9,301.6 1548,299.4 1548.3,302.5 1548.6,304.5 1548.9,302.8 1548.9,296.4 1549.9,298.4 1550.8,298.6 1551.8,300.6 1552.8,304 1553.7,305.4 1554.7,305.2 1555.7,308.4 1556.6,303.4 1557.6,300.7 1558.6,300.4 1559.5,301.2 1560.5,303.7 1561.5,303.1 1562.4,305.2 1563.4,309.6 1564.4,302.4 1565.3,298.1 1566.3,305 1567.3,303.2 1568.2,307.3 1569.2,303.8 1570.2,304.8 1571.1,307.1 1572.1,303.8 1573.1,304.6 1574.1,300.7 1575,304.5 1576,296.5 1577,296.8 1577.9,302 1578.9,304.2 1579.9,303.1 1580.8,295 1581.8,299 1582.8,297 1583.7,298.9 1584.7,307.5 1585.7,303.8 1586.6,303.4 1587.6,302.1 1588.6,303 1589.5,304.2 1590.5,304 1591.5,305.4 1592.4,304.8 1593.4,301.9 1594.4,304.9 1595.3,302.4 1596.3,301.5 1597.3,304.4 1598.2,304.2 1599.2,304.6 1600.2,304 1601.1,301.8 1602.1,302.7 1603.1,302 1604,304.8 1605,304.9 1606,310.3 1607,305.9 1607.9,299 1608.9,300.8 1609.9,302 1610.8,305.4 1611.8,305 1612.8,303.8 1613.7,306 1614.7,298.9 1615.7,302.4 1616.6,307.1 1617.6,305.1 1618.6,304.7 1619.5,305.2 1620.5,303.4 1621.5,304 1622.4,301.3 1623.4,305.3 1624.4,304.2 1625.3,305.4 1626.3,303.6 1627.3,303.4 1628.2,304.6 1629.2,302.3 1630.2,307.6 1631.1,301.8 1632.1,301.5 1633.1,304.8 1634,304.6 1635,303.5 1636,306.2 1636.9,308.5 1637.9,305.8 1638.9,304.4 1639.8,300.8 1640.8,301 1641.8,303.3 1642.8,302.9 1643.7,305.2 1644.7,304.9 1645.7,303.8 1646.6,304.4 1647.6,303.3 1648.6,299.8 1649.5,301.3 1650.5,302.7 1651.5,306 1652.4,305.1 1653.4,301.1 1654.4,305.7 1655.3,301.8 1656.3,306.5 1657.3,306.5 1658.2,300.6 1659.2,302 1660.2,304.7 1661.1,303.9 1662.1,304.5 1663.1,302.4 1664,301.5 1665,300.4 1666,305 1666.9,304 1667.9,307.1 1668.9,305.7 1669.8,301.8 1670.8,302.1 1671.8,307.8 1672.7,305.9 1673.7,305 1674.7,302.7 1675.7,301.5 1676.6,308.2 1677.6,306.4 1678.6,307 1679.5,304.3 1680.5,300.6 1681.5,298.4 1682.4,304.8 1683.4,302.3 1684.4,301.4 1685.3,300.5 1686.3,306.3 1687.3,304.3 1688.2,304.2 1689.2,305.7 1690.2,304.5 1691.1,305.5 1692.1,303.7 1693.1,306.5 1694,303.3 1695,303.4 1696,301.4 1696.9,300.4 1697.9,301.2 1698.9,301.3 1699.8,301.8 1700.8,302 1701.8,304.1 1702.7,303.2 1703.7,301.2 1704.7,303.2 1705.6,302.2 1706.6,299.8 1707.6,305 1708.5,300.7 1709.5,301.5 1710.5,309.8 1711.5,303.8 1712.4,303.1 1713.4,302.4 1714.4,300.3 1715.3,299 1716.3,301.7 1717.3,302.2 1718.2,300 1719.2,297.4 1720.2,299.4 1721.1,304 1722.1,301.3 1723.1,304.8 1724,301.1 1725,303.3 1726,304.5 1726.9,300.4 1727.9,299.7 1728.9,307.8 1729.8,303.1 1730.8,304.5 1731.8,300.4 1732.7,300.6 1733.7,304.7 1734.7,301.7 1735.6,297.3 1736.6,298.6 1737.6,298.6 1738.5,304.9 1739.5,305.3 1740.5,303 1741.4,302.8 1742.4,305.9 1743.4,302.2 1744.3,304.6 1745.3,301 1746.3,301.8 1747.3,302.7 1748.2,301.6 1749.2,305.1 1750.2,305.1 1751.1,302.2 1752.1,302.3 1753.1,307.3 1754,305.6 1755,306.2 1756,306.9 1756.9,309.3 1757.9,303.7 1758.9,303.8 1759.8,303.3 1760.8,311.2 1761.8,306.6 1762.7,305.9 1763.7,309.5 1764.7,302.5 1765.6,301.8 1766.6,304.5 1767.6,306.6 1768.5,303.2 1769.5,301.9 1770.5,305.4 1771.4,305.4 1772.4,303.5 1773.4,302.5 1774.3,304.8 1775.3,303.8 1776.3,304 1777.2,307.5 1778.2,304.9 1779.2,299.8 1780.2,302.3 1781.1,301.9 1782.1,297.7 1783.1,305.8 1784,310.2 1785,306 1786,305.5 1786.9,301 1787.9,305.6 1788.9,300.9 1789.8,300 1790.8,302.6 1791.8,304.2 1792.7,306.3 1793.7,305.7 1794.7,302.7 1795.6,303 1796.6,304 1797.6,300.8 1798.5,303.9 1799.5,301 1800.5,304.1 1801.4,299 1802.4,301 1803.4,304.6 1804.3,306.2 1805.3,305.1 1806.3,304.4 1807.2,302.5 1808.2,304.3 1809.2,303.9 1810.1,307.5 1811.1,303.8 1812.1,305.7 1813,306.4 1814,301.7 1815,309.1 1816,305.4 1816.9,310.2 1817.9,308 1818.9,306.5 1819.8,304.9 1820.8,307 1821.8,305.3 1822.7,301.3 1823.7,300.5 1824.7,303.3 1825.6,306 1826.6,307.6 1827.6,301.2 1828.5,303.4 1829.5,303.6 1830.5,299.5 1831.4,297.8 1832.4,306.8 1833.4,306 1834.3,303.4 1835.3,303.8 1836.3,310.5 1837.2,310.3 1838.2,307.6 1839.2,303 1840.1,304.2 1841.1,305.4 1842.1,306.9 1843,301.7 1844,300.3 1845,297.9 1845.9,302.6 1846.9,303.3 1847.9,302.7 1848.9,303.6 1849.8,302.1 1850.8,301.7 1851.8,304.4 1852.7,299.2 1853.7,305 1854.7,305.4 1855.6,304.4 1856.6,300.4 1857.6,304.9 1858.5,305.1 1859.5,304.6 1860.5,302.2 1861.4,300.7 1862.4,303.5 1863.4,302.8 1864.3,303.3 1865.3,303.5"/>
<line x1="269" y1="145" x2="269" y2="117.5" stroke="#800000" stroke-width="10" stroke-linecap="round"/>
<line x1="292" y1="145" x2="292" y2="117.5" stroke="#800000" stroke-width="10" stroke-linecap="round"/>
<line x1="437" y1="145" x2="437" y2="56" stroke="#800000" stroke-width="10" stroke-linecap="round"/>
<line x1="452" y1="145" x2="452" y2="135.5" stroke="#800000" stroke-width="10" stroke-linecap="round"/>
<line x1="574" y1="145" x2="574" y2="112" stroke="#800000" stroke-width="10" stroke-linecap="round"/>
<line x1="590" y1="145" x2="590" y2="142.5" stroke="#800000" stroke-width="10" stroke-linecap="round"/>
<line x1="636.5" y1="145" x2="636.5" y2="139" stroke="#800000" stroke-width="10" stroke-linecap="round"/>
<line x1="697.5" y1="145" x2="697.5" y2="126" stroke="#800000" stroke-width="10" stroke-linecap="round"/>
<line x1="771.5" y1="145" x2="771.5" y2="139" stroke="#800000" stroke-width="10" stroke-linecap="round"/>
<line x1="811.5" y1="145" x2="811.5" y2="139" stroke="#800000" stroke-width="10" stroke-linecap="round"/>
<line x1="853.5" y1="145" x2="853.5" y2="146" stroke="#800000" stroke-width="10" stroke-linecap="round"/>
<line x1="875.5" y1="145" x2="875.5" y2="140" stroke="#800000" stroke-width="10" stroke-linecap="round"/>
<line x1="925" y1="145" x2="925" y2="142" stroke="#800000" stroke-width="10" stroke-linecap="round"/>
<line x1="954.5" y1="145" x2="954.5" y2="131" stroke="#800000" stroke-width="10" stroke-linecap="round"/>
<line x1="975" y1="145" x2="975" y2="144" stroke="#800000" stroke-width="10" stroke-linecap="round"/>
<line x1="1010" y1="145" x2="1010" y2="112" stroke="#800000" stroke-width="10" stroke-linecap="round"/>
<line x1="1108" y1="145" x2="1108" y2="146" stroke="#800000" stroke-width="10" stroke-linecap="round"/>
<line x1="1186" y1="145" x2="1186" y2="146" stroke="#800000" stroke-width="10" stroke-linecap="round"/>
<line x1="1196.5" y1="145" x2="1196.5" y2="133" stroke="#800000" stroke-width="10" stroke-linecap="round"/>
<line x1="1229.5" y1="145" x2="1229.5" y2="146" stroke="#800000" stroke-width="10" stroke-linecap="round"/>
<line x1="1247.5" y1="145" x2="1247.5" y2="142" stroke="#800000" stroke-width="10" stroke-linecap="round"/>
<line x1="1272.5" y1="145" x2="1272.5" y2="135.5" stroke="#800000" stroke-width="10" stroke-linecap="round"/>
<line x1="1281.8" y1="145" x2="1281.8" y2="126" stroke="#800000" stroke-width="10" stroke-linecap="round"/>
<line x1="1356" y1="145" x2="1356" y2="142" stroke="#800000" stroke-width="10" stroke-linecap="round"/>
<line x1="1365" y1="145" x2="1365" y2="146" stroke="#800000" stroke-width="10" stroke-linecap="round"/>
<line x1="1437.5" y1="145" x2="1437.5" y2="144.5" stroke="#800000" stroke-width="10" stroke-linecap="round"/>
<line x1="1445.5" y1="145" x2="1445.5" y2="142.5" stroke="#800000" stroke-width="10" stroke-linecap="round"/>
<line x1="1498.8" y1="145" x2="1498.8" y2="146" stroke="#800000" stroke-width="10" stroke-linecap="round"/>
<line x1="1520" y1="145" x2="1520" y2="146" stroke="#800000" stroke-width="10" stroke-linecap="round"/>
<line x1="1568.8" y1="145" x2="1568.8" y2="146" stroke="#800000" stroke-width="10" stroke-linecap="round"/>
<line x1="1607" y1="145" x2="1607" y2="146" stroke="#800000" stroke-width="10" stroke-linecap="round"/>
<line x1="765" y1="1190" x2="765" y2="1069" stroke="#f00" stroke-width="10" stroke-linecap="round"/>
<line x1="942.5" y1="1190" x2="942.5" y2="1142" stroke="#f00" stroke-width="10" stroke-linecap="round"/>
<line x1="1535" y1="1190" x2="1535" y2="1168" stroke="#f00" stroke-width="10" stroke-linecap="round"/>
<rect x="168" y="44" width="1702" height="8" fill="#000"/>
<rect x="168" y="44" width="11" height="109" fill="#000"/>
<rect x="1860" y="44" width="10" height="1155" fill="#000"/>
<rect x="164" y="143" width="1706" height="10" fill="#000"/>
<circle cx="166" cy="148" r="5" fill="#000"/>
<rect x="169" y="143" width="10" height="194" fill="#000"/>
<rect x="167" y="328" width="1703" height="9" fill="#000"/>
<rect x="167" y="328" width="10" height="871" fill="#000"/>
<rect x="167" y="1048" width="1703" height="10" fill="#000"/>
<rect x="167" y="1189" width="1703" height="10" fill="#000"/>
<line x1="172" y1="1194" x2="172" y2="1215" stroke="#000" stroke-width="10" stroke-linecap="round"/>
<line x1="292.9" y1="1194" x2="292.9" y2="1204" stroke="#000" stroke-width="10" stroke-linecap="round"/>
<line x1="413.9" y1="1194" x2="413.9" y2="1215" stroke="#000" stroke-width="10" stroke-linecap="round"/>
<line x1="534.9" y1="1194" x2="534.9" y2="1204" stroke="#000" stroke-width="10" stroke-linecap="round"/>
<line x1="655.8" y1="1194" x2="655.8" y2="1215" stroke="#000" stroke-width="10" stroke-linecap="round"/>
<line x1="776.8" y1="1194" x2="776.8" y2="1204" stroke="#000" stroke-width="10" stroke-linecap="round"/>
<line x1="897.7" y1="1194" x2="897.7" y2="1215" stroke="#000" stroke-width="10" stroke-linecap="round"/>
<line x1="1018.7" y1="1194" x2="1018.7" y2="1204" stroke="#000" stroke-width="10" stroke-linecap="round"/>
<line x1="1139.6" y1="1194" x2="1139.6" y2="1215" stroke="#000" stroke-width="10" stroke-linecap="round"/>
<line x1="1260.5" y1="1194" x2="1260.5" y2="1204" stroke="#000" stroke-width="10" stroke-linecap="round"/>
<line x1="1381.5" y1="1194" x2="1381.5" y2="1215" stroke="#000" stroke-width="10" stroke-linecap="round"/>
<line x1="1502.5" y1="1194" x2="1502.5" y2="1204" stroke="#000" stroke-width="10" stroke-linecap="round"/>
<line x1="1623.4" y1="1194" x2="1623.4" y2="1215" stroke="#000" stroke-width="10" stroke-linecap="round"/>
<line x1="1744.4" y1="1194" x2="1744.4" y2="1204" stroke="#000" stroke-width="10" stroke-linecap="round"/>
<line x1="1865.3" y1="1194" x2="1865.3" y2="1215" stroke="#000" stroke-width="10" stroke-linecap="round"/>
<filter id="bin" x="0" y="0" width="1922" height="1384" filterUnits="userSpaceOnUse" color-interpolation-filters="sRGB"><feComponentTransfer><feFuncA type="discrete" tableValues="0 1"/></feComponentTransfer></filter>
<g filter="url(#bin)">
<text class="cj b" font-size="100" transform="matrix(0.5333 0.0000 0.0000 0.4053 181.8667 219.2521)">（</text>
<text class="s b" font-size="100" transform="matrix(0.5415 0.0000 0.0000 0.4706 239.7341 220.0588)">011</text>
<text class="cj b" font-size="100" transform="matrix(0.6000 0.0000 0.0000 0.4149 322.4000 219.2660)">）</text>
<text class="cj b" font-size="100" transform="matrix(0.5733 0.0000 0.0000 0.4053 336.3067 204.3521)">（</text>
<text class="s b" font-size="100" transform="matrix(0.5643 0.0000 0.0000 0.4848 437.3857 205.8000)">111</text>
<text class="cj b" font-size="100" transform="matrix(0.5700 0.0000 0.0000 0.4043 520.4800 204.3617)">）</text>
<text class="s" font-size="100" transform="matrix(0.5979 0.0000 0.0000 0.8000 392.9106 221.8000)">−</text>
<text class="cj b" font-size="100" transform="matrix(0.5333 0.0000 0.0000 0.4043 525.8667 216.3617)">（</text>
<text class="s b" font-size="100" transform="matrix(0.5296 0.0000 0.0000 0.4836 583.6817 217.2328)">002</text>
<text class="cj b" font-size="100" transform="matrix(0.5667 0.0000 0.0000 0.4043 667.6000 216.3617)">）</text>
<text class="cj b" font-size="100" transform="matrix(0.5433 0.0000 0.0000 0.4032 752.1267 1130.0713)">（</text>
<text class="s b" font-size="100" transform="matrix(0.5651 0.0000 0.0000 0.4879 810.2794 1132.0000)">111</text>
<text class="cj b" font-size="100" transform="matrix(0.5567 0.0000 0.0000 0.4117 894.6600 1129.9947)">）</text>
<text class="cj b" font-size="100" transform="matrix(0.5367 0.0000 0.0000 0.4149 938.5533 1172.1660)">（</text>
<text class="s b" font-size="100" transform="matrix(0.5556 0.0000 0.0000 0.4791 995.8775 1172.0418)">200</text>
<text class="cj b" font-size="100" transform="matrix(0.5600 0.0000 0.0000 0.4149 1080.6400 1172.1660)">）</text>
<text class="cj b" font-size="100" transform="matrix(0.5433 0.0000 0.0000 0.4149 1542.1267 1156.0660)">（</text>
<text class="s b" font-size="100" transform="matrix(0.5493 0.0000 0.0000 0.4791 1599.8028 1155.9418)">220</text>
<text class="cj b" font-size="100" transform="matrix(0.5567 0.0000 0.0000 0.4149 1684.6600 1156.0660)">）</text>
<text class="s" font-size="100" transform="matrix(0.6108 0.0000 0.0000 0.5507 1132.8245 442.6985)">700</text>
<text class="s" font-size="100" transform="matrix(0.3833 0.0000 0.0000 0.3083 1231.3667 413.4917)">o</text>
<text class="s" font-size="100" transform="matrix(0.6351 0.0000 0.0000 0.5687 1249.3596 443.8627)">C</text>
<text class="s" font-size="100" transform="matrix(0.6000 0.0000 0.0000 0.5507 1131.3000 618.7985)">600</text>
<text class="s" font-size="100" transform="matrix(0.3810 0.0000 0.0000 0.3021 1228.4762 589.5979)">o</text>
<text class="s" font-size="100" transform="matrix(0.6368 0.0000 0.0000 0.5672 1246.2526 619.8657)">C</text>
<text class="s" font-size="100" transform="matrix(0.5936 0.0000 0.0000 0.5552 1129.4386 819.8896)">500</text>
<text class="s" font-size="100" transform="matrix(0.3833 0.0000 0.0000 0.3125 1226.3667 791.4875)">o</text>
<text class="s" font-size="100" transform="matrix(0.6368 0.0000 0.0000 0.5687 1243.1526 820.7627)">C</text>
<text class="s" font-size="100" transform="matrix(0.5910 0.0000 0.0000 0.5522 1129.8181 895.6955)">400</text>
<text class="s" font-size="100" transform="matrix(0.3833 0.0000 0.0000 0.3083 1226.3667 866.4917)">o</text>
<text class="s" font-size="100" transform="matrix(0.6421 0.0000 0.0000 0.5672 1243.1316 896.8657)">C</text>
<text class="s" font-size="100" transform="matrix(0.5972 0.0000 0.0000 0.5522 1128.9142 962.6955)">300</text>
<text class="s" font-size="100" transform="matrix(0.3833 0.0000 0.0000 0.3125 1226.3667 934.5875)">o</text>
<text class="s" font-size="100" transform="matrix(0.6421 0.0000 0.0000 0.5701 1243.1316 963.8597)">C</text>
<text class="s" font-size="100" transform="matrix(0.5993 0.0000 0.0000 0.5522 1128.6028 1023.6955)">200</text>
<text class="s" font-size="100" transform="matrix(0.3833 0.0000 0.0000 0.3125 1226.3667 994.5875)">o</text>
<text class="s" font-size="100" transform="matrix(0.6421 0.0000 0.0000 0.5701 1243.1316 1024.8597)">C</text>
<text class="s" font-size="100" transform="matrix(0.6129 0.0000 0.0000 0.5522 1265.6094 247.6955)">700</text>
<text class="s" font-size="100" transform="matrix(0.3810 0.0000 0.0000 0.3146 1364.4762 219.6854)">o</text>
<text class="s" font-size="100" transform="matrix(0.6368 0.0000 0.0000 0.5672 1382.1526 248.6657)">C</text>
<text class="s" font-size="100" transform="matrix(0.5942 0.0000 0.0000 0.5478 1007.0175 249.4957)">Magnified</text>
<text class="s b" font-size="100" transform="matrix(0.3915 0.0000 0.0000 0.3423 1483.2170 103.4155)">NiWO</text>
<text class="s b" font-size="100" transform="matrix(0.3617 0.0000 0.0000 0.3692 1590.5383 113.9000)">4</text>
<text class="s b" font-size="100" transform="matrix(0.3896 0.0000 0.0000 0.3574 1608.7834 103.3853)">:15-0755</text>
<text class="s b" font-size="100" transform="matrix(0.5490 0.0000 0.0000 0.4887 275.8020 1127.5225)">Ni:04-0850</text>
<text class="s b" font-size="100" transform="matrix(1.0452 0.0000 0.0000 0.9258 923.8190 1352.9742)">2</text>
<text class="s b" font-size="100" transform="matrix(0.9773 0.0000 0.0000 0.8310 975.0909 1355.1690)">θ</text>
<text class="s b" font-size="100" transform="matrix(0.8667 0.0000 0.0000 0.8500 1023.8667 1355.1500)">/</text>
<text class="s b" font-size="100" transform="matrix(1.0067 0.0000 0.0000 0.9000 1071.7667 1356.4000)">°</text>
<text class="s b" font-size="100" transform="matrix(0.0000 -0.9040 0.8833 0.0000 77.4500 999.7119)">Intensity/ a. u.</text>
<text class="s b" font-size="100" transform="matrix(0.7967 0 0 0.7269 132.51 1284.05)">20</text>
<text class="s b" font-size="100" transform="matrix(0.7967 0 0 0.7269 374.41 1284.05)">30</text>
<text class="s b" font-size="100" transform="matrix(0.7967 0 0 0.7269 616.31 1284.05)">40</text>
<text class="s b" font-size="100" transform="matrix(0.7967 0 0 0.7269 858.21 1284.05)">50</text>
<text class="s b" font-size="100" transform="matrix(0.7967 0 0 0.7269 1100.11 1284.05)">60</text>
<text class="s b" font-size="100" transform="matrix(0.7967 0 0 0.7269 1342.01 1284.05)">70</text>
<text class="s b" font-size="100" transform="matrix(0.7967 0 0 0.7269 1583.91 1284.05)">80</text>
<text class="s b" font-size="100" transform="matrix(0.7967 0 0 0.7269 1825.81 1284.05)">90</text>
<rect x="533" y="1125.5" width="2.2" height="2.4" fill="#000"/>
</g>
<clipPath id="cc"><rect x="172" y="330" width="1693.5" height="720"/></clipPath>
<polyline clip-path="url(#cc)" fill="none" stroke="#808000" stroke-width="13" stroke-linejoin="round" stroke-linecap="square" points="172,369 173.7,369.2 175.4,368.9 177.1,368.5 178.8,369.5 180.5,369 182.2,368.7 183.9,369.4 185.5,368.8 187.2,369.3 188.9,368.9 190.6,369 192.3,368.8 194,368.9 195.7,369.2 197.4,369.4 199.1,369 200.8,369 202.5,368.6 204.2,369.3 205.9,368.9 207.6,369.2 209.3,369.5 210.9,369.6 212.6,368.1 214.3,368.4 216,368.9 217.7,369.1 219.4,369.4 221.1,369.3 222.8,369.6 224.5,368.9 226.2,369 227.9,369.6 229.6,369 231.3,369 233,369 234.7,368.3 236.3,369.1 238,369.2 239.7,368.7 241.4,368.9 243.1,368.8 244.8,368.4 246.5,368.6 248.2,368.7 249.9,368.8 251.6,368.9 253.3,369.1 255,369.1 256.7,369 258.4,368.7 260.1,369.4 261.7,369 263.4,368.9 265.1,368.7 266.8,369.1 268.5,369.2 270.2,368.9 271.9,368.9 273.6,369.2 275.3,369.2 277,368.9 278.7,368.5 280.4,368.9 282.1,369 283.8,369.4 285.5,369 287.1,368.6 288.8,369.1 290.5,369.3 292.2,369.1 293.9,368.5 295.6,369.1 297.3,369 299,369.6 300.7,369 302.4,368.7 304.1,369.3 305.8,368.7 307.5,369.3 309.2,368.8 310.9,368.3 312.5,368.8 314.2,369.5 315.9,369.3 317.6,368.9 319.3,369.2 321,369.5 322.7,369.4 324.4,369.5 326.1,369 327.8,369.2 329.5,368.7 331.2,369.6 332.9,368.2 334.6,369.3 336.3,368.9 337.9,368.4 339.6,369 341.3,368.8 343,369 344.7,368.8 346.4,369.5 348.1,369.7 349.8,368.9 351.5,368.7 353.2,368.5 354.9,369.8 356.6,369.1 358.3,368.7 360,369.2 361.6,369 363.3,369 365,369.2 366.7,369 368.4,369.1 370.1,369.3 371.8,368.4 373.5,369.4 375.2,369.5 376.9,368.6 378.6,368.2 380.3,369.3 382,369.5 383.7,368.7 385.4,368.9 387,369 388.7,368.5 390.4,368.8 392.1,368.9 393.8,369.1 395.5,368.9 397.2,369.2 398.9,369.1 400.6,368.4 402.3,368.8 404,368.8 405.7,368.7 407.4,369 409.1,368.8 410.8,369.4 412.4,368.9 414.1,368.7 415.8,368.8 417.5,369 419.2,369.2 420.9,369.3 422.6,368.7 424.3,368.3 426,369.3 427.7,368.9 429.4,368.8 431.1,369 432.8,369.2 434.5,369.8 436.2,368.5 437.8,369 439.5,368.7 441.2,369.1 442.9,369 444.6,369.2 446.3,368.9 448,368.9 449.7,369.1 451.4,369.3 453.1,369.7 454.8,369 456.5,369 458.2,369 459.9,369.3 461.6,369.3 463.2,368.7 464.9,368.8 466.6,368.7 468.3,369.3 470,369.2 471.7,368.6 473.4,369 475.1,369.1 476.8,369.3 478.5,368.8 480.2,368.8 481.9,369.9 483.6,369.4 485.3,369 487,368.6 488.6,369 490.3,368.7 492,368.8 493.7,368.6 495.4,369.1 497.1,369.6 498.8,368.4 500.5,368.8 502.2,368.2 503.9,369.4 505.6,368.9 507.3,369 509,368.5 510.7,369.5 512.4,369.5 514,369 515.7,369.2 517.4,369.1 519.1,369.3 520.8,368.9 522.5,369.6 524.2,368.8 525.9,368.9 527.6,368.8 529.3,369.1 531,368.7 532.7,368.9 534.4,369.1 536.1,368.8 537.8,368.9 539.4,369 541.1,369.1 542.8,369.1 544.5,369 546.2,369.5 547.9,368.6 549.6,369 551.3,368.5 553,368.6 554.7,368.3 556.4,369.4 558.1,368.5 559.8,368.8 561.5,369.3 563.2,369.2 564.8,369.2 566.5,368.4 568.2,369.3 569.9,369.3 571.6,368.3 573.3,369.2 575,368.5 576.7,368.7 578.4,368.9 580.1,369.2 581.8,369 583.5,368.3 585.2,369.8 586.9,368.8 588.6,368.2 590.2,369 591.9,368.8 593.6,368.8 595.3,368.6 597,368.8 598.7,368.9 600.4,368.7 602.1,369.1 603.8,368.7 605.5,368.7 607.2,368.9 608.9,369.3 610.6,369.1 612.3,368.4 614,368.9 615.6,368.2 617.3,368.6 619,368.9 620.7,368.8 622.4,369.2 624.1,369.2 625.8,369.4 627.5,368.8 629.2,369.1 630.9,369.2 632.6,368.2 634.3,369.8 636,368.4 637.7,369.1 639.4,369.4 641,368.9 642.7,368.7 644.4,369.4 646.1,369.2 647.8,369.2 649.5,369.2 651.2,369.1 652.9,368.7 654.6,368.9 656.3,368.8 658,368.7 659.7,368.4 661.4,368.6 663.1,368.9 664.8,369.6 666.4,369.1 668.1,369.5 669.8,369.3 671.5,369.1 673.2,368.7 674.9,369.1 676.6,369.5 678.3,368.7 680,368.5 681.7,368.9 683.4,368.9 685.1,368.8 686.8,369.2 688.5,368.7 690.1,369 691.8,368.7 693.5,368.9 695.2,369.3 696.9,368.8 698.6,369.5 700.3,368.5 702,368.6 703.7,368.4 705.4,369 707.1,368.7 708.8,369.1 710.5,368.6 712.2,369.1 713.9,369.2 715.5,368.7 717.2,368.3 718.9,368.4 720.6,368.4 722.3,368.6 724,368.6 725.7,368.9 727.4,368.6 729.1,368.9 730.8,368.7 732.5,368.7 734.2,368.2 735.9,368 737.6,368.1 739.3,367.7 740.9,368 742.6,367.8 744.3,365.7 746,364.9 747.7,363.2 749.4,361.8 751.1,359.4 752.8,358.7 754.5,359.1 756.2,361.2 757.9,362.3 759.6,363.9 761.3,365.3 763,367 764.7,367.4 766.3,367.5 768,368 769.7,368.2 771.4,368.7 773.1,368.4 774.8,369 776.5,368 778.2,368.7 779.9,368.5 781.6,368.9 783.3,369 785,368.7 786.7,368.5 788.4,368.5 790.1,369.1 791.7,368.8 793.4,368.4 795.1,369.1 796.8,368.8 798.5,369.5 800.2,368.4 801.9,368.8 803.6,369 805.3,368.7 807,368.7 808.7,368.9 810.4,369.2 812.1,368.9 813.8,369.3 815.5,368.8 817.1,369.6 818.8,368.9 820.5,369.5 822.2,368.9 823.9,368.8 825.6,368.8 827.3,369.3 829,369.4 830.7,368.5 832.4,369.2 834.1,369.3 835.8,369.1 837.5,368.6 839.2,369 840.9,368.4 842.5,368.9 844.2,369.3 845.9,368.4 847.6,369.3 849.3,368.3 851,369.1 852.7,368.8 854.4,369.5 856.1,368.3 857.8,369.1 859.5,369.5 861.2,368.8 862.9,369.4 864.6,368.4 866.3,368.1 867.9,369.4 869.6,368.3 871.3,369 873,368.3 874.7,369.2 876.4,369.3 878.1,368.4 879.8,369.4 881.5,368.7 883.2,368.8 884.9,368.7 886.6,369 888.3,368.9 890,368.8 891.7,368.4 893.3,369.4 895,368.3 896.7,368.7 898.4,369 900.1,369 901.8,368.6 903.5,369 905.2,368.8 906.9,368.1 908.6,367.7 910.3,368 912,367.8 913.7,367.2 915.4,367 917.1,366.8 918.7,366 920.4,366.3 922.1,365.7 923.8,365.3 925.5,364.8 927.2,365.2 928.9,365.3 930.6,366.1 932.3,366.9 934,367.3 935.7,366.9 937.4,367.5 939.1,367.9 940.8,367.6 942.5,368.4 944.1,368.5 945.8,368.8 947.5,369 949.2,369 950.9,369.2 952.6,369 954.3,369.6 956,368.8 957.7,368.4 959.4,369.1 961.1,369 962.8,368.8 964.5,368.9 966.2,369.2 967.9,369.3 969.5,368.7 971.2,369.2 972.9,368.7 974.6,369.2 976.3,368.8 978,369 979.7,369.1 981.4,369.4 983.1,368.8 984.8,369 986.5,369.2 988.2,369 989.9,368.8 991.6,369.4 993.3,368.7 994.9,369.1 996.6,369 998.3,369 1000,368.8 1001.7,368.6 1003.4,368.7 1005.1,369.3 1006.8,368.8 1008.5,368.7 1010.2,369.1 1011.9,369.4 1013.6,368 1015.3,369.2 1017,368.7 1018.7,368.6 1020.3,369.7 1022,368.6 1023.7,369 1025.4,368.7 1027.1,369.1 1028.8,369 1030.5,369 1032.2,369.2 1033.9,369 1035.6,368.8 1037.3,368.5 1039,369.4 1040.7,368.6 1042.4,368.8 1044,369.2 1045.7,369.1 1047.4,369 1049.1,369.3 1050.8,368.5 1052.5,369.3 1054.2,369 1055.9,368.6 1057.6,369.5 1059.3,369.8 1061,368.7 1062.7,368.8 1064.4,369.1 1066.1,368.6 1067.8,368.2 1069.4,368.3 1071.1,368.7 1072.8,368.7 1074.5,369.3 1076.2,368.9 1077.9,368.5 1079.6,369.3 1081.3,369.7 1083,369.1 1084.7,369.3 1086.4,369.3 1088.1,369.6 1089.8,368.9 1091.5,369.1 1093.2,369.3 1094.8,369.1 1096.5,369.1 1098.2,368.4 1099.9,369.1 1101.6,369.5 1103.3,368.8 1105,368.5 1106.7,369.1 1108.4,368.4 1110.1,369.4 1111.8,369.7 1113.5,369.4 1115.2,369.1 1116.9,369 1118.6,368.8 1120.2,368.7 1121.9,369.5 1123.6,369.4 1125.3,369.4 1127,369 1128.7,368.9 1130.4,369.3 1132.1,369.4 1133.8,368.8 1135.5,368.5 1137.2,368.9 1138.9,369.9 1140.6,369.3 1142.3,369 1144,368.7 1145.6,368.5 1147.3,368.1 1149,368.3 1150.7,368.9 1152.4,369 1154.1,369.4 1155.8,368.6 1157.5,369.5 1159.2,368.8 1160.9,369 1162.6,369 1164.3,368.4 1166,368.1 1167.7,368.5 1169.4,369 1171,368.3 1172.7,369.2 1174.4,368.6 1176.1,368.4 1177.8,368.4 1179.5,368.6 1181.2,368.8 1182.9,369.1 1184.6,368.9 1186.3,368.2 1188,368.7 1189.7,369.5 1191.4,369.3 1193.1,369.4 1194.8,369 1196.4,369.7 1198.1,369.2 1199.8,369 1201.5,368.7 1203.2,368.9 1204.9,369.9 1206.6,368.8 1208.3,368.9 1210,368.4 1211.7,368.8 1213.4,369.3 1215.1,368.7 1216.8,369 1218.5,369.5 1220.2,369.3 1221.8,369.5 1223.5,369.5 1225.2,368.9 1226.9,368.7 1228.6,368.9 1230.3,369.2 1232,368.7 1233.7,369.7 1235.4,369.6 1237.1,368.7 1238.8,369.2 1240.5,369.2 1242.2,368.7 1243.9,369.2 1245.6,369.4 1247.2,368.5 1248.9,369.1 1250.6,368.8 1252.3,369.3 1254,368.9 1255.7,368.9 1257.4,369.5 1259.1,368.7 1260.8,369 1262.5,369 1264.2,368.8 1265.9,368.3 1267.6,368.4 1269.3,369 1271,369.4 1272.6,369.1 1274.3,368.8 1276,369 1277.7,368.6 1279.4,369 1281.1,368.6 1282.8,368.4 1284.5,368.7 1286.2,369.5 1287.9,368.4 1289.6,368.8 1291.3,368.4 1293,369 1294.7,368.8 1296.4,368.2 1298,368.9 1299.7,369.5 1301.4,368.7 1303.1,369 1304.8,369 1306.5,368.1 1308.2,369.4 1309.9,368.5 1311.6,368.4 1313.3,369.3 1315,368.8 1316.7,368.8 1318.4,369.1 1320.1,368.6 1321.8,369 1323.4,369 1325.1,369 1326.8,368.4 1328.5,369.7 1330.2,368.8 1331.9,369.6 1333.6,368.9 1335.3,369 1337,369.4 1338.7,367.9 1340.4,368.3 1342.1,369.3 1343.8,369.1 1345.5,369.1 1347.2,369.1 1348.8,368.9 1350.5,368.8 1352.2,368.6 1353.9,368.1 1355.6,369 1357.3,368.7 1359,368.8 1360.7,367.7 1362.4,368.3 1364.1,368.8 1365.8,369.1 1367.5,368.5 1369.2,368.7 1370.9,368.3 1372.5,369.9 1374.2,368.7 1375.9,369.6 1377.6,369.4 1379.3,369.1 1381,369.2 1382.7,369 1384.4,369 1386.1,369.1 1387.8,369.3 1389.5,369.2 1391.2,369.5 1392.9,369.7 1394.6,368.8 1396.3,369.2 1397.9,369.1 1399.6,368.6 1401.3,369 1403,368.5 1404.7,369.3 1406.4,369.2 1408.1,369.2 1409.8,368.8 1411.5,369.4 1413.2,368.9 1414.9,368.6 1416.6,369.2 1418.3,369.3 1420,368.8 1421.7,368.9 1423.3,368.2 1425,369.2 1426.7,368.8 1428.4,368.9 1430.1,368.4 1431.8,369 1433.5,368.9 1435.2,369.2 1436.9,369 1438.6,368.5 1440.3,369 1442,368.5 1443.7,369.1 1445.4,369.6 1447.1,368.7 1448.7,368.9 1450.4,369 1452.1,368.8 1453.8,368.8 1455.5,368.7 1457.2,369.2 1458.9,368.5 1460.6,368.7 1462.3,368.9 1464,368.7 1465.7,368.7 1467.4,368.8 1469.1,369.2 1470.8,369.4 1472.5,368.9 1474.1,368.1 1475.8,369.1 1477.5,369.4 1479.2,368.7 1480.9,368.4 1482.6,368.7 1484.3,368.5 1486,368.3 1487.7,368.4 1489.4,368.5 1491.1,368.1 1492.8,368.4 1494.5,369 1496.2,367.8 1497.9,368.2 1499.5,367.8 1501.2,367.6 1502.9,366.7 1504.6,366.8 1506.3,366.5 1508,366.5 1509.7,365 1511.4,365 1513.1,365.1 1514.8,365.2 1516.5,365.9 1518.2,365.5 1519.9,365.5 1521.6,365.8 1523.3,366.8 1524.9,366.6 1526.6,367.2 1528.3,367.7 1530,367.2 1531.7,367.3 1533.4,368.2 1535.1,368.5 1536.8,368.3 1538.5,368.1 1540.2,368.8 1541.9,369 1543.6,368.7 1545.3,368.6 1547,368.7 1548.7,369.2 1550.3,368.9 1552,368.7 1553.7,368.8 1555.4,368.6 1557.1,368.4 1558.8,368.5 1560.5,369 1562.2,369.2 1563.9,368.8 1565.6,368.9 1567.3,369.3 1569,369.1 1570.7,368.8 1572.4,368.9 1574.1,368.8 1575.7,368.9 1577.4,369.1 1579.1,368.5 1580.8,369 1582.5,369.2 1584.2,369.3 1585.9,368.7 1587.6,368.9 1589.3,368.9 1591,368.7 1592.7,369.3 1594.4,368.5 1596.1,369.5 1597.8,369 1599.5,368.9 1601.1,369.2 1602.8,369 1604.5,369.3 1606.2,368.5 1607.9,369.3 1609.6,368.1 1611.3,368.5 1613,369.3 1614.7,369.1 1616.4,369.4 1618.1,368.7 1619.8,369.2 1621.5,368.7 1623.2,369.4 1624.9,369.6 1626.5,369.1 1628.2,370 1629.9,369 1631.6,369.2 1633.3,368.9 1635,369.4 1636.7,369.3 1638.4,369.1 1640.1,369.4 1641.8,369 1643.5,369.5 1645.2,369.3 1646.9,368.3 1648.6,368.7 1650.3,368.6 1651.9,369.1 1653.6,369.1 1655.3,369 1657,368.5 1658.7,369.3 1660.4,369.7 1662.1,368.4 1663.8,369 1665.5,369 1667.2,369.1 1668.9,368.6 1670.6,369.8 1672.3,369.6 1674,369 1675.7,368.9 1677.3,369.5 1679,368.9 1680.7,369.1 1682.4,369.1 1684.1,368.9 1685.8,369.7 1687.5,369.3 1689.2,368.9 1690.9,368.3 1692.6,369 1694.3,368.6 1696,368.4 1697.7,369.1 1699.4,368.8 1701,369.1 1702.7,369.4 1704.4,368.7 1706.1,369 1707.8,368.5 1709.5,368.9 1711.2,369 1712.9,368.8 1714.6,369.8 1716.3,368.7 1718,368.8 1719.7,369 1721.4,369.4 1723.1,368.7 1724.8,368.8 1726.4,368.3 1728.1,369.2 1729.8,368.8 1731.5,368.9 1733.2,369 1734.9,368.7 1736.6,369.1 1738.3,369.2 1740,369.2 1741.7,369.6 1743.4,368.7 1745.1,368.8 1746.8,368.6 1748.5,369 1750.2,368.6 1751.8,368.8 1753.5,368.5 1755.2,368.3 1756.9,369.4 1758.6,369.3 1760.3,369.3 1762,368.6 1763.7,369 1765.4,368.7 1767.1,368.4 1768.8,369.2 1770.5,369.4 1772.2,369.3 1773.9,369.1 1775.6,369.3 1777.2,369.4 1778.9,369 1780.6,368.2 1782.3,368.7 1784,369.4 1785.7,369.2 1787.4,368.9 1789.1,369 1790.8,368.7 1792.5,369.6 1794.2,369 1795.9,369.3 1797.6,368.7 1799.3,369 1801,369 1802.6,368.8 1804.3,369.5 1806,368.9 1807.7,368.7 1809.4,368.6 1811.1,368.9 1812.8,369.1 1814.5,368.8 1816.2,369.2 1817.9,368.5 1819.6,368.5 1821.3,369.3 1823,369.5 1824.7,369.1 1826.4,368.9 1828,369.3 1829.7,368.4 1831.4,368.5 1833.1,368.6 1834.8,369.5 1836.5,369 1838.2,369.1 1839.9,369.1 1841.6,369.2 1843.3,368.8 1845,368.6 1846.7,369.9 1848.4,369.6 1850.1,369.2 1851.8,368.9 1853.4,368.9 1855.1,368.8 1856.8,369.2 1858.5,368.4 1860.2,369.3 1861.9,368.6 1863.6,368.9 1865.3,369"/>
<polyline clip-path="url(#cc)" fill="none" stroke="#ff00ff" stroke-width="13" stroke-linejoin="round" stroke-linecap="square" points="172,632.5 173.7,632.5 175.4,632.1 177.1,632.1 178.8,632.9 180.5,633 182.2,632.7 183.9,632.5 185.5,632.6 187.2,632.4 188.9,633.1 190.6,632.5 192.3,632.3 194,632.4 195.7,632.6 197.4,632.2 199.1,632.5 200.8,632.4 202.5,632.7 204.2,632.2 205.9,632.6 207.6,632.2 209.3,632.8 210.9,632.4 212.6,632.3 214.3,633 216,633.3 217.7,632.1 219.4,631.7 221.1,632.2 222.8,633.1 224.5,632.4 226.2,633.1 227.9,632.7 229.6,632.8 231.3,632.7 233,632.3 234.7,632.7 236.3,631.9 238,632.1 239.7,632.4 241.4,633.2 243.1,632.2 244.8,632.4 246.5,632.4 248.2,633.1 249.9,632.6 251.6,632.8 253.3,631.7 255,632.8 256.7,632.8 258.4,631.8 260.1,632.3 261.7,633.2 263.4,632.7 265.1,632.7 266.8,632.9 268.5,632.4 270.2,632.4 271.9,632.6 273.6,632.4 275.3,632.6 277,632.8 278.7,632.8 280.4,632.8 282.1,632.4 283.8,632.2 285.5,631.4 287.1,632.7 288.8,632.8 290.5,632.7 292.2,632.3 293.9,632.4 295.6,632.9 297.3,632.4 299,632.2 300.7,632.6 302.4,633.3 304.1,632.3 305.8,632.7 307.5,632.1 309.2,632.6 310.9,632.9 312.5,632.7 314.2,632.3 315.9,632.1 317.6,632 319.3,632.3 321,633 322.7,632.5 324.4,632.9 326.1,632.5 327.8,632.3 329.5,632.2 331.2,632.4 332.9,632.5 334.6,632 336.3,632.1 337.9,632 339.6,632.3 341.3,632 343,632.8 344.7,632.7 346.4,632.6 348.1,632.4 349.8,633.4 351.5,632.8 353.2,632.1 354.9,633.1 356.6,632.5 358.3,633.1 360,631.9 361.6,632.6 363.3,632.2 365,632.8 366.7,632.1 368.4,632.1 370.1,632.8 371.8,632.6 373.5,632.8 375.2,632.5 376.9,632.8 378.6,632.6 380.3,633 382,632.7 383.7,632.6 385.4,632.4 387,632.5 388.7,631.9 390.4,632.6 392.1,632.4 393.8,633 395.5,632.7 397.2,632.2 398.9,632.7 400.6,632.6 402.3,633.3 404,632.3 405.7,632.6 407.4,632.5 409.1,632.5 410.8,632.7 412.4,632.3 414.1,632.9 415.8,631.9 417.5,632.8 419.2,632.4 420.9,633.1 422.6,632.1 424.3,632.6 426,632.3 427.7,632.7 429.4,632.5 431.1,632.5 432.8,632.6 434.5,632.7 436.2,632.9 437.8,632.6 439.5,632.9 441.2,632.8 442.9,631.8 444.6,632.2 446.3,632.5 448,631.9 449.7,633 451.4,632.1 453.1,632.1 454.8,633 456.5,632.5 458.2,632.5 459.9,631.9 461.6,632.9 463.2,632.6 464.9,631.9 466.6,633.1 468.3,632.7 470,631.7 471.7,632.2 473.4,631.8 475.1,633.1 476.8,632.5 478.5,632 480.2,632.3 481.9,632.2 483.6,632.6 485.3,633 487,632.8 488.6,632.3 490.3,632.5 492,632.1 493.7,632.9 495.4,632.8 497.1,632.7 498.8,632 500.5,632.8 502.2,632.9 503.9,632.4 505.6,631.8 507.3,633.2 509,631.7 510.7,632.4 512.4,632.2 514,632.7 515.7,632.4 517.4,632.6 519.1,632.3 520.8,631.8 522.5,632.1 524.2,632.6 525.9,633.1 527.6,632.5 529.3,632.1 531,632.5 532.7,632.5 534.4,632.3 536.1,632.4 537.8,632.3 539.4,632.9 541.1,633 542.8,632.2 544.5,633.2 546.2,632.7 547.9,632.5 549.6,632 551.3,632.8 553,632.5 554.7,632.1 556.4,632.1 558.1,632.9 559.8,632.5 561.5,632.2 563.2,633 564.8,633.3 566.5,632.5 568.2,632.5 569.9,632.3 571.6,631.5 573.3,632.2 575,632 576.7,632.3 578.4,631.6 580.1,632.5 581.8,632.5 583.5,632.5 585.2,632.8 586.9,632.2 588.6,631.8 590.2,631.6 591.9,632.5 593.6,632.5 595.3,632.2 597,632.5 598.7,631.8 600.4,632.5 602.1,632 603.8,632.1 605.5,632.9 607.2,632.7 608.9,632.5 610.6,632.2 612.3,632.2 614,632.1 615.6,632.4 617.3,631.9 619,632.5 620.7,631.9 622.4,632.1 624.1,632 625.8,632.1 627.5,632.3 629.2,632.1 630.9,632 632.6,632.1 634.3,632.6 636,633 637.7,632.3 639.4,632.6 641,632.3 642.7,632.8 644.4,632.3 646.1,632.1 647.8,632.4 649.5,632.5 651.2,631.2 652.9,632.2 654.6,632.4 656.3,631.7 658,631.7 659.7,632 661.4,632.3 663.1,632.2 664.8,633.2 666.4,632.3 668.1,632.7 669.8,632.3 671.5,632.5 673.2,631.9 674.9,631.6 676.6,631.8 678.3,632.8 680,632.6 681.7,632.7 683.4,632.7 685.1,631.9 686.8,632.8 688.5,632.6 690.1,632.2 691.8,632.5 693.5,631.5 695.2,632.8 696.9,632 698.6,631.8 700.3,632.3 702,631.9 703.7,631.8 705.4,631.3 707.1,631.1 708.8,631.3 710.5,631.6 712.2,632.6 713.9,630.7 715.5,631.2 717.2,631.8 718.9,630.8 720.6,631.2 722.3,630.2 724,631.2 725.7,630.2 727.4,630.3 729.1,629.9 730.8,629 732.5,627.7 733.1,627.8 733.4,628.2 733.7,627.4 734,627.5 734.2,626.6 734.2,627.4 734.5,627.2 734.8,626.5 735.1,626.8 735.4,626 735.7,625.3 735.9,625.2 736,626 736.3,625.3 736.6,625.2 736.9,624.5 737.2,624.8 737.4,624.1 737.6,623.1 737.7,623.6 738,622.8 738.3,622 738.6,622.1 738.9,621.6 739.2,620.8 739.3,619.9 739.5,619.5 739.8,617.8 740.1,617.4 740.3,615.7 740.6,614.5 740.9,612.6 740.9,613.1 741.2,611.2 741.5,608.2 741.8,605.8 742.1,601.5 742.4,597.9 742.6,593.8 742.7,593.2 743,588 743.2,581.5 743.5,574.5 743.8,566.5 744.1,557.4 744.3,549.4 744.4,546.4 744.7,534.9 745,522.1 745.3,508.7 745.6,495.1 745.9,479.4 746,470.8 746.1,464.8 746.4,450.1 746.7,435.6 747,422.1 747.3,410.7 747.6,402.6 747.7,399.6 747.9,397.4 748.2,394.6 748.2,394.1 748.5,395.7 748.8,401.1 749.1,409.3 749.3,420.8 749.4,423.4 749.6,432.8 749.9,447.6 750.2,462 750.5,476.9 750.8,492 751.1,506.2 751.1,507.5 751.4,519.8 751.7,532.7 752,544.9 752.2,554.2 752.5,564.9 752.8,572.6 752.8,573.3 753.1,580.7 753.4,587.1 753.7,592.1 754,597.1 754.3,601.8 754.5,603.9 754.6,605.3 754.9,608.3 755.1,610.5 755.4,612.6 755.7,614.1 756,615.7 756.2,616.3 756.3,616.9 756.6,617.7 756.9,620.3 757.2,620 757.5,620.6 757.8,621.3 757.9,621.4 758.1,622.8 758.3,622.8 758.6,623.7 758.9,624.1 759.2,623.8 759.5,624.8 759.6,624.2 759.8,625.7 760.1,625.2 760.4,625.4 760.7,625 761,626 761.2,626.4 761.3,626.2 761.5,626.1 761.8,626.7 762.1,627.1 762.4,627.5 762.7,627.1 763,627.6 763,627.6 763.3,627.4 764.7,628.3 766.3,629.3 768,630.1 769.7,629.8 771.4,630 773.1,630.9 774.8,631 776.5,631.1 778.2,631.3 779.9,631.1 781.6,631.4 783.3,632 785,631.5 786.7,631.7 788.4,632.5 790.1,632.2 791.7,632.9 793.4,631.4 795.1,632.2 796.8,631.9 798.5,631.9 800.2,632 801.9,632 803.6,632.3 805.3,632 807,631.8 808.7,632.5 810.4,632.6 812.1,632.2 813.8,632.1 815.5,631.9 817.1,632 818.8,632.3 820.5,632.3 822.2,632.2 823.9,632 825.6,631.9 827.3,632.5 829,631.8 830.7,631.9 832.4,632.3 834.1,632.5 835.8,631.7 837.5,632 839.2,632 840.9,632 842.5,632.1 844.2,632 845.9,633 847.6,632 849.3,632.8 851,632.3 852.7,632.3 854.4,632.6 856.1,632.5 857.8,632.2 859.5,632.2 861.2,632.8 862.9,632 864.6,632.1 866.3,631.6 867.9,632.6 869.6,632.7 871.3,632 873,631.9 874.7,631.5 876.4,632.5 878.1,632 879.8,631.8 881.5,632.2 883.2,632.6 884.9,631.5 886.6,631.9 888.3,632.2 890,632.1 891.7,631.9 893.3,631.5 895,632.1 896.7,631.4 898.4,632 900.1,632 900.2,631.1 900.5,631.4 900.8,631.7 901.1,631.3 901.4,631 901.7,630.9 901.8,630.9 902,631.2 902.3,631 902.6,630.5 902.9,631.2 903.1,630.9 903.4,630.8 903.5,631.2 903.7,630.6 904,631.2 904.3,630.6 904.6,630.3 904.9,630.9 905.2,630.6 905.2,631 905.5,630.6 905.8,630.2 906,630.2 906.3,630.1 906.6,629.3 906.9,629.9 906.9,630.3 907.2,630.1 907.5,629.7 907.8,629.5 908.1,629.6 908.4,629.7 908.6,630 908.7,629.4 908.9,629.5 909.2,629.7 909.5,629.9 909.8,628.9 910.1,628.4 910.3,627.8 910.4,628.7 910.7,627.8 911,627.7 911.3,627.6 911.6,627.6 911.9,627 912,626.7 912.1,626.6 912.4,626.4 912.7,625.2 913,625.7 913.3,624.9 913.6,623.5 913.7,623.8 913.9,622.7 914.2,622.2 914.5,621.1 914.8,621.2 915,618.8 915.3,617.8 915.4,618.5 915.6,616.6 915.9,615.5 916.2,613.9 916.5,611.8 916.8,610.3 917.1,609.6 917.1,608.4 917.4,606.5 917.7,604.8 917.9,602 918.2,600 918.5,598.5 918.7,596.6 918.8,595.3 919.1,593.3 919.4,591.6 919.7,589.6 920,587.6 920.3,586.7 920.4,585.4 920.6,585.5 920.8,584.4 921.1,582.9 921.4,583.8 921.4,583.3 921.7,584.6 922,585.2 922.1,585 922.3,584.8 922.6,586.6 922.9,588.2 923.2,589.6 923.5,591.7 923.8,594.7 923.8,594.9 924,596 924.3,598 924.6,600 924.9,602.6 925.2,604.9 925.5,606.7 925.5,607.4 925.8,609 926.1,610.8 926.4,612.9 926.7,614.3 926.9,615.6 927.2,616.9 927.2,617 927.5,618.1 927.8,619.9 928.1,620.4 928.4,621.4 928.7,622.9 928.9,623 929,623.1 929.3,624.2 929.6,624.3 929.8,625.3 930.1,625.9 930.4,626.1 930.6,626.5 930.7,626.4 931,627.6 931.3,627.8 931.6,627.5 931.9,628 932.2,629 932.3,628.7 932.5,628.3 932.8,629.2 933,628.3 933.3,629 933.6,629.7 933.9,628.5 934,629.1 934.2,629.6 934.5,630 934.8,629.6 935.1,629.8 935.4,630.8 935.7,630 935.7,629.4 935.9,630.3 936.2,630.2 936.5,630.6 936.8,630.6 937.1,630.4 937.4,631.1 937.4,630.7 937.7,630.9 938,630.6 938.3,630.7 938.6,630.5 938.8,631.1 939.1,630.6 939.1,630.4 939.4,630.9 939.7,630.6 940,631.3 940.3,631.4 940.6,631.3 940.8,631.4 940.9,631.5 941.2,630.3 941.5,631.6 941.7,631.2 942,630.2 942.3,631.1 942.5,631.4 944.1,631.2 945.8,631.3 947.5,632.2 949.2,632.4 950.9,632 952.6,632.4 954.3,631.9 956,632 957.7,631.9 959.4,632.1 961.1,631.8 962.8,632.5 964.5,632.6 966.2,632.1 967.9,632.6 969.5,633.1 971.2,631.7 972.9,632.3 974.6,632.3 976.3,632.1 978,631.9 979.7,632.6 981.4,631.9 983.1,632.3 984.8,632 986.5,631.8 988.2,631.9 989.9,632.4 991.6,632 993.3,632.3 994.9,632.4 996.6,632.2 998.3,631.8 1000,632.7 1001.7,632.1 1003.4,632.3 1005.1,632.6 1006.8,632.7 1008.5,632.5 1010.2,632.7 1011.9,632.5 1013.6,632.5 1015.3,632.5 1017,632.9 1018.7,632.7 1020.3,632.3 1022,633 1023.7,632.7 1025.4,632.4 1027.1,632.6 1028.8,632.5 1030.5,632.5 1032.2,633 1033.9,632.6 1035.6,632.6 1037.3,631.8 1039,631.8 1040.7,632.7 1042.4,632.6 1044,633.2 1045.7,632.2 1047.4,632.2 1049.1,632.8 1050.8,632.6 1052.5,632.5 1054.2,632.8 1055.9,631.8 1057.6,632.3 1059.3,633 1061,632.2 1062.7,632.9 1064.4,632.8 1066.1,632.5 1067.8,632.6 1069.4,632.8 1071.1,632 1072.8,632 1074.5,632.2 1076.2,632.5 1077.9,632.3 1079.6,632.5 1081.3,632 1083,633.1 1084.7,631.9 1086.4,632 1088.1,632.6 1089.8,632.1 1091.5,632.5 1093.2,632.5 1094.8,632.3 1096.5,632.5 1098.2,632.3 1099.9,632.6 1101.6,632.6 1103.3,632.6 1105,632.4 1106.7,632.4 1108.4,632.1 1110.1,632.6 1111.8,632.6 1113.5,631.7 1115.2,632.4 1116.9,632.2 1118.6,632.4 1120.2,632.9 1121.9,632.4 1123.6,632.7 1125.3,632.2 1127,632.8 1128.7,632.4 1130.4,632.5 1132.1,632.6 1133.8,632.9 1135.5,632.8 1137.2,632.6 1138.9,632.1 1140.6,632.3 1142.3,631.9 1144,633 1145.6,632 1147.3,632.9 1149,633.3 1150.7,632.6 1152.4,632.8 1154.1,632.4 1155.8,632.3 1157.5,632.3 1159.2,632.4 1160.9,632.6 1162.6,632.5 1164.3,631.7 1166,632.4 1167.7,632.3 1169.4,633 1171,632.8 1172.7,632.6 1174.4,633.1 1176.1,632.4 1177.8,632.2 1179.5,632.4 1181.2,631.9 1182.9,632.5 1184.6,632.6 1186.3,633 1188,632.3 1189.7,632.4 1191.4,632.5 1193.1,632.7 1194.8,633.1 1196.4,632 1198.1,632.9 1199.8,632.2 1201.5,632.8 1203.2,632.3 1204.9,632.6 1206.6,632.9 1208.3,632.9 1210,631.8 1211.7,632.9 1213.4,632.4 1215.1,632 1216.8,632.1 1218.5,632.1 1220.2,632.9 1221.8,632.3 1223.5,631.8 1225.2,632.7 1226.9,632.4 1228.6,633 1230.3,632 1232,633.1 1233.7,632.8 1235.4,632.9 1237.1,632.7 1238.8,632.5 1240.5,632.8 1242.2,632.3 1243.9,632.8 1245.6,631.8 1247.2,632.2 1248.9,632.1 1250.6,632 1252.3,632.6 1254,632.9 1255.7,632.5 1257.4,632.4 1259.1,632.9 1260.8,632.2 1262.5,632.6 1264.2,632.8 1265.9,632.3 1267.6,632.4 1269.3,631.8 1271,632.1 1272.6,632.9 1274.3,632.7 1276,632.6 1277.7,632.7 1279.4,632.8 1281.1,633 1282.8,632.7 1284.5,632.5 1286.2,632.6 1287.9,633.6 1289.6,632.4 1291.3,631.8 1293,633.1 1294.7,632 1296.4,632.6 1298,632.2 1299.7,632.3 1301.4,632.8 1303.1,632.9 1304.8,632.1 1306.5,632.2 1308.2,632.2 1309.9,632.4 1311.6,632.2 1313.3,632.1 1315,632.1 1316.7,632.1 1318.4,632.4 1320.1,632.3 1321.8,632.2 1323.4,632.8 1325.1,632.9 1326.8,632.9 1328.5,631.7 1330.2,632.3 1331.9,632.3 1333.6,632.3 1335.3,633.3 1337,632.8 1338.7,631.6 1340.4,632.3 1342.1,632.8 1343.8,632.7 1345.5,633.1 1347.2,632.4 1348.8,632.5 1350.5,632.2 1352.2,632.6 1353.9,632.6 1355.6,633.2 1357.3,632.3 1359,632.2 1360.7,632.5 1362.4,632 1364.1,632.7 1365.8,632.4 1367.5,632.1 1369.2,632.8 1370.9,632.8 1372.5,632.8 1374.2,631.7 1375.9,632.9 1377.6,632.3 1379.3,633 1381,631.9 1382.7,632.2 1384.4,632.6 1386.1,632.3 1387.8,633.3 1389.5,632.4 1391.2,632.4 1392.9,633 1394.6,633.7 1396.3,632.2 1397.9,632.6 1399.6,632.1 1401.3,632.8 1403,632.3 1404.7,633.1 1406.4,632.1 1408.1,632.2 1409.8,632.3 1411.5,632 1413.2,632.7 1414.9,632.4 1416.6,632.1 1418.3,632.8 1420,632 1421.7,632.2 1423.3,632.3 1425,632.8 1426.7,632.6 1428.4,631.9 1430.1,632.4 1431.8,632.5 1433.5,631.7 1435.2,632.3 1436.9,632.2 1438.6,631.5 1440.3,631.9 1442,632.4 1443.7,632.7 1445.4,632.5 1447.1,632.9 1448.7,632.5 1450.4,632.8 1452.1,632.1 1453.8,632.3 1455.5,632.3 1457.2,632.4 1458.9,632.3 1460.6,632.4 1462.3,632.3 1464,632 1465.7,632.2 1467.4,632.1 1469.1,632 1470.8,631.7 1472.5,632.6 1474.1,632.7 1475.8,631.5 1477.5,631.9 1479.2,632.5 1480.9,631.8 1482.6,631.5 1484.3,631.2 1486,632 1487.7,631.5 1489.4,631.4 1491.1,630.4 1492.8,630.5 1494.5,629.7 1496.2,628.4 1497.9,626.3 1499.5,624 1501.2,622.1 1502.9,618.6 1504.6,617.1 1506.3,617 1508,617.3 1509.7,620.7 1511.4,622.3 1513.1,625.5 1514.8,626.9 1516.5,628.3 1518.2,629.8 1519.9,630.5 1521.6,630.8 1523.3,631.1 1524.9,631.4 1526.6,631.4 1528.3,632.7 1530,631.5 1531.7,631.6 1533.4,632 1535.1,631.6 1536.8,631.2 1538.5,631.9 1540.2,632 1541.9,631.8 1543.6,632 1545.3,632 1547,632 1548.7,631.8 1550.3,632.2 1552,632.3 1553.7,632.6 1555.4,632.8 1557.1,632.2 1558.8,632.5 1560.5,632.2 1562.2,632.4 1563.9,632.8 1565.6,632.4 1567.3,632.5 1569,631.8 1570.7,632 1572.4,632.6 1574.1,632.3 1575.7,632.5 1577.4,632.5 1579.1,632.4 1580.8,632.4 1582.5,632.6 1584.2,632.7 1585.9,632.5 1587.6,632.2 1589.3,632.8 1591,632.1 1592.7,632.2 1594.4,632.9 1596.1,632.7 1597.8,632.5 1599.5,633 1601.1,632.4 1602.8,632.1 1604.5,631.9 1606.2,633 1607.9,632.7 1609.6,632.3 1611.3,632.3 1613,632.6 1614.7,632 1616.4,632.6 1618.1,632.3 1619.8,632.3 1621.5,632.4 1623.2,632.4 1624.9,633 1626.5,632.7 1628.2,632.2 1629.9,632.8 1631.6,632.4 1633.3,631.6 1635,632.1 1636.7,632.7 1638.4,632 1640.1,632.8 1641.8,632.4 1643.5,632 1645.2,632.5 1646.9,632.9 1648.6,632.5 1650.3,632 1651.9,632.3 1653.6,632.2 1655.3,632.9 1657,632.2 1658.7,632.6 1660.4,632.8 1662.1,632.2 1663.8,632.5 1665.5,631.8 1667.2,632.2 1668.9,632.9 1670.6,632.6 1672.3,632.3 1674,632.4 1675.7,632 1677.3,632.4 1679,632.2 1680.7,633.1 1682.4,632.6 1684.1,633.1 1685.8,632.8 1687.5,632.6 1689.2,633 1690.9,632.5 1692.6,632.5 1694.3,632.6 1696,632.5 1697.7,632.1 1699.4,632.3 1701,631.7 1702.7,632.2 1704.4,632.8 1706.1,632.8 1707.8,632.9 1709.5,632.2 1711.2,632.7 1712.9,631.9 1714.6,632.6 1716.3,632.3 1718,633 1719.7,632.5 1721.4,632.6 1723.1,632.2 1724.8,632.5 1726.4,632.3 1728.1,632.7 1729.8,631.8 1731.5,633.2 1733.2,633 1734.9,632.5 1736.6,632.1 1738.3,631.7 1740,632.1 1741.7,632.3 1743.4,632.6 1745.1,632.2 1746.8,632.1 1748.5,632.4 1750.2,632.6 1751.8,632.9 1753.5,632.1 1755.2,632.3 1756.9,632.3 1758.6,632 1760.3,632.3 1762,632.3 1763.7,632.7 1765.4,632.1 1767.1,632.9 1768.8,632 1770.5,632.5 1772.2,633.1 1773.9,631.9 1775.6,631.8 1777.2,632.5 1778.9,632 1780.6,632.3 1782.3,633 1784,632.7 1785.7,633 1787.4,632.3 1789.1,632.2 1790.8,632.6 1792.5,633.2 1794.2,632.4 1795.9,633.1 1797.6,632.8 1799.3,632.8 1801,632.7 1802.6,632.1 1804.3,632.2 1806,632.7 1807.7,632.4 1809.4,632.8 1811.1,631.8 1812.8,632.6 1814.5,632.2 1816.2,632.2 1817.9,632.8 1819.6,632.2 1821.3,632.9 1823,632.6 1824.7,632.1 1826.4,632.8 1828,632.2 1829.7,632.6 1831.4,632.5 1833.1,632.5 1834.8,632 1836.5,631.7 1838.2,632.4 1839.9,632.4 1841.6,632.2 1843.3,632 1845,632.7 1846.7,632.5 1848.4,632.4 1850.1,632.4 1851.8,632.6 1853.4,632.1 1855.1,632.5 1856.8,632.3 1858.5,632.2 1860.2,632.4 1861.9,632.6 1863.6,632.5"/>
<polyline clip-path="url(#cc)" fill="none" stroke="#008000" stroke-width="13" stroke-linejoin="round" stroke-linecap="square" points="172,834 173.7,833.5 175.4,834.1 177.1,834.1 178.8,833.8 180.5,834.2 182.2,833.4 183.9,833.9 185.5,833.9 187.2,834.8 188.9,834.1 190.6,833.6 192.3,833.9 194,834.1 195.7,833.4 197.4,833.6 199.1,834.2 200.8,834.2 202.5,834.3 204.2,834.3 205.9,833.9 207.6,834.8 209.3,834 210.9,834 212.6,833.8 214.3,834.4 216,834.2 217.7,833.8 219.4,834.2 221.1,834.5 222.8,833.7 224.5,833.8 226.2,834.6 227.9,834 229.6,833.8 231.3,833.9 233,833.3 234.7,834.6 236.3,833.4 238,833.7 239.7,834.3 241.4,834 243.1,833.9 244.8,833.7 246.5,833.7 248.2,834.3 249.9,834.2 251.6,834 253.3,834.2 255,834.3 256.7,834.1 258.4,833.8 260.1,833.9 261.7,834.1 263.4,834.3 265.1,833.6 266.8,833.8 268.5,833.5 270.2,833.9 271.9,834.1 273.6,833.8 275.3,834.3 277,833.4 278.7,833.9 280.4,833.4 282.1,833.8 283.8,834.4 285.5,834.1 287.1,833.3 288.8,833.8 290.5,833.9 292.2,833.9 293.9,834.5 295.6,833.6 297.3,834.3 299,833.5 300.7,834.5 302.4,834.2 304.1,833.8 305.8,833.1 307.5,834.1 309.2,834.4 310.9,834.4 312.5,834.5 314.2,833.8 315.9,833.6 317.6,834.1 319.3,833.8 321,834.3 322.7,833.9 324.4,834.1 326.1,833.7 327.8,834.2 329.5,834.4 331.2,833.9 332.9,833.8 334.6,834.2 336.3,834 337.9,834.1 339.6,833.8 341.3,834 343,834.1 344.7,834.2 346.4,834 348.1,833.5 349.8,833.7 351.5,833.7 353.2,834.4 354.9,834.1 356.6,834.6 358.3,834.5 360,834.5 361.6,833.3 363.3,833.5 365,833.9 366.7,834.2 368.4,833 370.1,834.3 371.8,834.1 373.5,833.5 375.2,833.8 376.9,833.8 378.6,833.9 380.3,834.4 382,834.4 383.7,834 385.4,834.1 387,834.1 388.7,834.6 390.4,834.3 392.1,834.6 393.8,833.9 395.5,834.3 397.2,833.5 398.9,834.8 400.6,834.3 402.3,833.6 404,833.5 405.7,833.9 407.4,833.7 409.1,833.8 410.8,834.4 412.4,835 414.1,834.2 415.8,834.1 417.5,833.9 419.2,833.9 420.9,834.3 422.6,834 424.3,834 426,834 427.7,834.1 429.4,833.9 431.1,833.8 432.8,833.7 434.5,834 436.2,833.5 437.8,834.1 439.5,834 441.2,834.2 442.9,834 444.6,833.7 446.3,834.2 448,834.5 449.7,833.9 451.4,834.5 453.1,833 454.8,834.5 456.5,834.1 458.2,834.3 459.9,834.4 461.6,834.2 463.2,834.2 464.9,834.1 466.6,834.4 468.3,834.2 470,833.9 471.7,834.2 473.4,834.1 475.1,834.4 476.8,834.1 478.5,834.3 480.2,834.3 481.9,833.9 483.6,834 485.3,834.5 487,834.1 488.6,833.9 490.3,833.7 492,834.7 493.7,834.1 495.4,834.3 497.1,833.9 498.8,833.3 500.5,833.7 502.2,833.3 503.9,833.7 505.6,834 507.3,834 509,834.2 510.7,834.4 512.4,834.2 514,833.7 515.7,833.7 517.4,833.2 519.1,834.2 520.8,833.6 522.5,833.9 524.2,834.2 525.9,834.2 527.6,833.7 529.3,833.5 531,834.2 532.7,833.4 534.4,833.8 536.1,833.8 537.8,833.9 539.4,833.8 541.1,833.4 542.8,833.6 544.5,833.6 546.2,833.9 547.9,833.9 549.6,834.6 551.3,834.4 553,833.6 554.7,833.9 556.4,833.7 558.1,833.8 559.8,834 561.5,833.6 563.2,833.4 564.8,833.8 566.5,834.2 568.2,834.2 569.9,833.7 571.6,834.4 573.3,834 575,833.4 576.7,833.6 578.4,833.9 580.1,833.4 581.8,834.1 583.5,833.8 585.2,833.3 586.9,833.5 588.6,833.6 590.2,834.4 591.9,833.8 593.6,834 595.3,834.3 597,833.7 598.7,834.5 600.4,834 602.1,833.8 603.8,833.9 605.5,833.8 607.2,833.2 608.9,834.7 610.6,833.9 612.3,833.8 614,833.8 615.6,833.9 617.3,834.1 619,834.1 620.7,833.7 622.4,834.5 624.1,834.2 625.8,833.6 627.5,834 629.2,833.8 630.9,834.1 632.6,833.9 634.3,833.9 636,834.1 637.7,833.5 639.4,833.7 641,834 642.7,833.5 644.4,833.7 646.1,833.5 647.8,834.2 649.5,833.4 651.2,833.6 652.9,833.7 654.6,833.6 656.3,834.2 658,834.1 659.7,833.2 661.4,833.8 663.1,833 664.8,833.2 666.4,834.1 668.1,833.6 669.8,834.3 671.5,833.8 673.2,833.6 674.9,833.5 676.6,832.6 678.3,833.1 680,833.7 681.7,832.8 683.4,833.2 685.1,833.8 686.8,833 688.5,832.8 690.1,833.3 691.8,833.6 693.5,833.2 695.2,833.5 696.9,833.1 698.6,833.1 700.3,832.6 702,832.2 703.7,832.3 705.4,832.7 707.1,832.5 708.8,832.3 710.5,832 712.2,831.9 713.9,831.6 715.5,831.6 717.2,830.4 718.9,830.3 720.6,830.4 722.3,829.1 724,828.8 725.7,828.7 726.6,828 726.8,828.5 727.1,827.7 727.4,826.8 727.4,827.5 727.7,827.4 728,826.9 728.3,827.2 728.6,826.2 728.9,825.1 729.1,826.1 729.2,825.6 729.5,826 729.7,824.9 730,824.8 730.3,825.5 730.6,824.1 730.8,824.7 730.9,824.7 731.2,824.1 731.5,823.8 731.8,822.8 732.1,822.9 732.4,821.8 732.5,822 732.7,822.1 732.9,821.7 733.2,820.7 733.5,820.3 733.8,819.8 734.1,819 734.2,818.7 734.4,818.6 734.7,818.2 735,816.8 735.3,816.4 735.6,814.5 735.8,814.1 735.9,814.3 736.1,813.3 736.4,811.9 736.7,810.8 737,809.9 737.3,808.2 737.6,806.6 737.6,807.4 737.9,805.4 738.2,803.4 738.5,801.4 738.7,800.2 739,796.9 739.3,794.8 739.3,794.6 739.6,791.7 739.9,789.1 740.2,785.2 740.5,782.1 740.8,777.7 740.9,775.4 741.1,773.7 741.4,768.9 741.7,763 741.9,757.7 742.2,751.8 742.5,745.7 742.6,742.7 742.8,738.2 743.1,731 743.4,723.5 743.7,715.9 744,707 744.3,698.5 744.3,696.1 744.6,690.9 744.8,683.1 745.1,675.5 745.4,668.4 745.7,663.9 746,660.4 746,660 746.3,657.7 746.5,657.2 746.6,657.5 746.9,658.5 747.2,661.1 747.5,666.3 747.7,671.5 747.7,672.9 748,678.4 748.3,687.1 748.6,694.9 748.9,703.1 749.2,711.3 749.4,717.7 749.5,719.6 749.8,727.1 750.1,735.1 750.4,742.2 750.6,749.2 750.9,754.9 751.1,758.7 751.2,760.7 751.5,766.4 751.8,770.9 752.1,775.1 752.4,780 752.7,783.6 752.8,784.8 753,787.1 753.3,790.1 753.6,793.1 753.8,796 754.1,797.8 754.4,800.4 754.5,800.7 754.7,802.1 755,804.9 755.3,806.3 755.6,807.5 755.9,808.7 756.2,810.4 756.2,810.5 756.5,811.8 756.7,813.3 757,813.9 757.3,814.8 757.6,815.5 757.9,816.8 757.9,816.6 758.2,817.7 758.5,817.9 758.8,818.7 759.1,819.3 759.4,819.5 759.6,820.7 759.6,820.7 759.9,820.6 760.2,821.8 760.5,821.6 760.8,823.3 761.1,823.9 761.3,822.7 761.4,823.6 761.7,823.1 762,823.9 762.3,824.5 762.6,824.7 762.8,824.9 763,824.5 763.1,825 763.4,825.9 763.7,825.2 764,826.1 764.3,826.4 764.6,826.4 764.7,826 764.9,827.3 765.2,826.7 765.5,826.8 765.7,827.1 766,827.3 766.3,827.5 766.3,828.1 768,828.6 769.7,829.8 771.4,830.7 773.1,830.7 774.8,830.9 776.5,831.4 778.2,831.8 779.9,831.2 781.6,831.9 783.3,831.9 785,832.7 786.7,832.5 788.4,832.7 790.1,832.6 791.7,833 793.4,832.7 795.1,833.1 796.8,832.8 798.5,832.6 800.2,832.9 801.9,833.2 803.6,832.9 805.3,833.7 807,833 808.7,833.3 810.4,833.2 812.1,833.8 813.8,832.9 815.5,833 817.1,833.6 818.8,833.4 820.5,833.2 822.2,833 823.9,833.6 825.6,833.8 827.3,834.1 829,833.4 830.7,833.9 832.4,833.4 834.1,833.5 835.8,833.8 837.5,833.5 839.2,833.5 840.9,834 842.5,833 844.2,833.8 845.9,834.3 847.6,833.7 849.3,833.6 851,833.6 852.7,833.8 854.4,833.6 856.1,834.5 857.8,833.3 859.5,834.3 861.2,833.6 862.9,833.4 864.6,833.6 866.3,833.6 867.9,833.6 869.6,833.7 871.3,833.3 873,832.8 874.7,834.2 876.4,834.1 878.1,833.4 879.8,834.3 881.5,833.3 883.2,833.4 884.9,834.2 886.6,834 888.3,832.7 890,832.5 891.7,832.9 893.3,833.7 895,832.9 896.7,833 898.4,833.4 900.1,832.9 901.8,832.9 903.5,833.1 905.2,832.5 906.9,831.9 908.6,831 910.3,829.9 912,828 913.7,826.6 915.4,824.6 917.1,820.8 918.7,817.4 920.4,817.6 922.1,819.2 923.8,821.6 925.5,824.9 927.2,826.6 928.9,828.9 930.6,830.6 932.3,830.9 934,832.3 935.7,832.1 937.4,833.1 939.1,833.1 940.8,832.9 942.5,833.4 944.1,832.9 945.8,833.7 947.5,833.7 949.2,833.2 950.9,834.1 952.6,833.6 954.3,833.4 956,833.1 957.7,833.8 959.4,834 961.1,833.5 962.8,834.4 964.5,833.6 966.2,833.6 967.9,833 969.5,833.7 971.2,834.3 972.9,833.2 974.6,834.4 976.3,834.6 978,834 979.7,834.2 981.4,834.4 983.1,833.9 984.8,833.4 986.5,833.6 988.2,833.5 989.9,833.5 991.6,832.9 993.3,833.8 994.9,833.7 996.6,833.8 998.3,834.2 1000,834.2 1001.7,834.1 1003.4,833.8 1005.1,834.3 1006.8,834.6 1008.5,833.7 1010.2,834.1 1011.9,833.7 1013.6,834.1 1015.3,834.2 1017,834 1018.7,834.4 1020.3,834 1022,833.7 1023.7,833.8 1025.4,833.4 1027.1,834.5 1028.8,833.7 1030.5,834.3 1032.2,833.5 1033.9,833.8 1035.6,833.5 1037.3,833.4 1039,833.6 1040.7,833.6 1042.4,833.4 1044,834 1045.7,834.1 1047.4,833.9 1049.1,834.5 1050.8,834.1 1052.5,834.3 1054.2,834 1055.9,834.1 1057.6,833.5 1059.3,834.2 1061,833.3 1062.7,833.8 1064.4,834.3 1066.1,834.2 1067.8,834.5 1069.4,833.9 1071.1,833.8 1072.8,833.8 1074.5,834.1 1076.2,833.7 1077.9,834 1079.6,834.5 1081.3,834.5 1083,834.9 1084.7,834.2 1086.4,833.6 1088.1,834.5 1089.8,834.3 1091.5,833.8 1093.2,833.6 1094.8,833.8 1096.5,833.8 1098.2,834.4 1099.9,833.7 1101.6,833.6 1103.3,833.7 1105,834.2 1106.7,834.3 1108.4,834.1 1110.1,834.1 1111.8,833.9 1113.5,834.7 1115.2,834.2 1116.9,833.9 1118.6,834.2 1120.2,833.6 1121.9,833.8 1123.6,833.9 1125.3,833.9 1127,834.3 1128.7,833.9 1130.4,833.7 1132.1,834.2 1133.8,833.9 1135.5,834.2 1137.2,833.8 1138.9,833.7 1140.6,834.3 1142.3,833.9 1144,834.1 1145.6,833.3 1147.3,834.5 1149,832.8 1150.7,833.5 1152.4,834.9 1154.1,833.9 1155.8,834 1157.5,833.7 1159.2,834.1 1160.9,833.7 1162.6,834.2 1164.3,833.7 1166,833.9 1167.7,834.2 1169.4,833.6 1171,833.6 1172.7,833.7 1174.4,833.6 1176.1,833.9 1177.8,834.5 1179.5,834 1181.2,834.1 1182.9,833.6 1184.6,834.1 1186.3,834.3 1188,833.9 1189.7,834.2 1191.4,833.7 1193.1,833.9 1194.8,834.1 1196.4,833.7 1198.1,834.1 1199.8,834.2 1201.5,834 1203.2,833.7 1204.9,833.8 1206.6,834.2 1208.3,833.7 1210,833.8 1211.7,834 1213.4,834.1 1215.1,834.8 1216.8,834.2 1218.5,833.9 1220.2,834 1221.8,833.6 1223.5,833.7 1225.2,833.2 1226.9,834 1228.6,834.7 1230.3,833.8 1232,833.7 1233.7,834.2 1235.4,833.7 1237.1,833.7 1238.8,833.3 1240.5,833.6 1242.2,834 1243.9,834.6 1245.6,833.7 1247.2,833.6 1248.9,833.5 1250.6,833.7 1252.3,833.4 1254,833.8 1255.7,834.2 1257.4,833.8 1259.1,834.3 1260.8,833.8 1262.5,833.7 1264.2,834.5 1265.9,834.4 1267.6,833.8 1269.3,833.8 1271,833.7 1272.6,834 1274.3,834.4 1276,833.8 1277.7,834.1 1279.4,833.9 1281.1,834 1282.8,833.6 1284.5,833.1 1286.2,833.4 1287.9,833.4 1289.6,834 1291.3,833.9 1293,833.7 1294.7,834 1296.4,833.7 1298,834.2 1299.7,833.8 1301.4,834.5 1303.1,834 1304.8,833.8 1306.5,834.7 1308.2,833.9 1309.9,834.4 1311.6,833.8 1313.3,833.9 1315,833.4 1316.7,833.8 1318.4,834 1320.1,833.8 1321.8,833.7 1323.4,834.4 1325.1,834.5 1326.8,833.7 1328.5,834.5 1330.2,834.1 1331.9,834.5 1333.6,834 1335.3,833.5 1337,834.1 1338.7,833.8 1340.4,833.4 1342.1,833.8 1343.8,833.3 1345.5,833.9 1347.2,833.6 1348.8,834.2 1350.5,834 1352.2,833.5 1353.9,833.6 1355.6,834.1 1357.3,833.5 1359,834 1360.7,834.3 1362.4,834.1 1364.1,833.8 1365.8,834.1 1367.5,834.7 1369.2,834.3 1370.9,834.2 1372.5,834 1374.2,833.5 1375.9,833.9 1377.6,833.7 1379.3,834.1 1381,833.4 1382.7,833.4 1384.4,833.6 1386.1,834.4 1387.8,833.7 1389.5,834 1391.2,834.1 1392.9,834.1 1394.6,833.7 1396.3,834.1 1397.9,833.8 1399.6,834.6 1401.3,833.9 1403,833.5 1404.7,833.5 1406.4,834 1408.1,834.5 1409.8,834.1 1411.5,834.1 1413.2,833.7 1414.9,833.2 1416.6,834.1 1418.3,834.3 1420,833.8 1421.7,833.8 1423.3,834.2 1425,833.9 1426.7,833.9 1428.4,834 1430.1,834 1431.8,833.6 1433.5,834 1435.2,833.6 1436.9,833.5 1438.6,833.4 1440.3,833.2 1442,834.1 1443.7,833.2 1445.4,833.7 1447.1,834.4 1448.7,833.8 1450.4,834 1452.1,834.3 1453.8,834.3 1455.5,834.1 1457.2,833.7 1458.9,834 1460.6,833.6 1462.3,834 1464,833.2 1465.7,833.8 1467.4,832.9 1469.1,832.8 1470.8,833.6 1472.5,832.8 1474.1,833.7 1475.8,833 1477.5,833.4 1479.2,833.1 1480.9,832.7 1482.6,832.8 1484.3,832.4 1486,831.8 1487.7,831.9 1489.4,832.1 1491.1,831 1492.8,830.2 1494.5,829.7 1496.2,829.3 1497.9,828.8 1499.5,827.8 1501.2,828.1 1502.9,827.8 1504.6,828.9 1506.3,827.8 1508,828.2 1509.7,828 1511.4,829.1 1513.1,829.1 1514.8,829.5 1516.5,830.1 1518.2,830.8 1519.9,831 1521.6,831.4 1523.3,831.9 1524.9,832.6 1526.6,832 1528.3,833.2 1530,832.6 1531.7,833.7 1533.4,832.6 1535.1,833.1 1536.8,833.4 1538.5,833.6 1540.2,833.9 1541.9,833.8 1543.6,833.3 1545.3,833.6 1547,833.6 1548.7,834.1 1550.3,833.9 1552,834 1553.7,833.6 1555.4,833.4 1557.1,833.2 1558.8,834.4 1560.5,833.9 1562.2,833.6 1563.9,833.4 1565.6,834.5 1567.3,834.5 1569,833.6 1570.7,833.9 1572.4,833.6 1574.1,834.6 1575.7,834.4 1577.4,833.9 1579.1,834 1580.8,833.7 1582.5,834.1 1584.2,834.2 1585.9,833.4 1587.6,833.8 1589.3,834.3 1591,834.1 1592.7,833.9 1594.4,834.6 1596.1,833.8 1597.8,833.9 1599.5,833.9 1601.1,834 1602.8,834.4 1604.5,833.9 1606.2,834.6 1607.9,833.3 1609.6,834 1611.3,834.1 1613,834.2 1614.7,834.2 1616.4,833.6 1618.1,834.6 1619.8,833.6 1621.5,834.4 1623.2,834.2 1624.9,834.1 1626.5,833.9 1628.2,833 1629.9,833.3 1631.6,834.3 1633.3,833.4 1635,833.8 1636.7,832.9 1638.4,834.1 1640.1,834.1 1641.8,833.4 1643.5,833.6 1645.2,834.3 1646.9,834 1648.6,834 1650.3,834.2 1651.9,833.9 1653.6,834 1655.3,833.8 1657,833.8 1658.7,834.3 1660.4,833.8 1662.1,833.5 1663.8,834 1665.5,833.6 1667.2,834 1668.9,834 1670.6,833.6 1672.3,834.3 1674,834 1675.7,834.3 1677.3,834.1 1679,834.1 1680.7,833.3 1682.4,834 1684.1,834 1685.8,834.2 1687.5,834.2 1689.2,834 1690.9,833.8 1692.6,834.3 1694.3,834.2 1696,833.8 1697.7,834 1699.4,833.8 1701,834.2 1702.7,834.5 1704.4,833.6 1706.1,834.2 1707.8,833.8 1709.5,833.3 1711.2,833.7 1712.9,833.8 1714.6,834.1 1716.3,834 1718,833.8 1719.7,833.8 1721.4,834.3 1723.1,834.4 1724.8,833.4 1726.4,834.1 1728.1,834.3 1729.8,834.3 1731.5,834.2 1733.2,834.3 1734.9,834 1736.6,833.9 1738.3,834 1740,834.1 1741.7,834.5 1743.4,833.8 1745.1,833.4 1746.8,834.3 1748.5,834.2 1750.2,834.7 1751.8,834.4 1753.5,833.3 1755.2,834 1756.9,834 1758.6,834.3 1760.3,833.7 1762,834 1763.7,833.8 1765.4,833.5 1767.1,833.7 1768.8,834.1 1770.5,834.2 1772.2,834 1773.9,834.3 1775.6,834.2 1777.2,833.9 1778.9,834 1780.6,834.5 1782.3,833.9 1784,833.4 1785.7,834.3 1787.4,833.5 1789.1,833.8 1790.8,834.6 1792.5,834.3 1794.2,834.3 1795.9,834 1797.6,834.1 1799.3,833.3 1801,833.5 1802.6,834.1 1804.3,834.1 1806,833.6 1807.7,833.9 1809.4,834.2 1811.1,833.7 1812.8,834 1814.5,833.9 1816.2,834.2 1817.9,833.8 1819.6,834.1 1821.3,834.7 1823,833.5 1824.7,834.1 1826.4,834.5 1828,834 1829.7,834.2 1831.4,834 1833.1,833.5 1834.8,834.1 1836.5,834.3 1838.2,834.2 1839.9,834 1841.6,834.3 1843.3,833.6 1845,833.7 1846.7,833.8 1848.4,834.2 1850.1,834.2 1851.8,833.3 1853.4,834.1 1855.1,833.7 1856.8,834.2 1858.5,833.8 1860.2,833.8 1861.9,833.8 1863.6,834.1"/>
<polyline clip-path="url(#cc)" fill="none" stroke="#ff8000" stroke-width="13" stroke-linejoin="round" stroke-linecap="square" points="172,910.6 173.7,910.5 175.4,911 177.1,911 178.8,909.9 180.5,910.5 182.2,910.3 183.9,910.6 185.5,909.8 187.2,910.8 188.9,910.4 190.6,911.1 192.3,910.9 194,911 195.7,909.9 197.4,911.4 199.1,910 200.8,910.6 202.5,910.2 204.2,910 205.9,910.2 207.6,910.3 209.3,910.7 210.9,910.6 212.6,910.9 214.3,910.3 216,910.7 217.7,910.6 219.4,910.9 221.1,909.9 222.8,910.5 224.5,910.3 226.2,910.1 227.9,910.6 229.6,911 231.3,911.1 233,910.7 234.7,910.3 236.3,910.5 238,910.7 239.7,910.9 241.4,910.8 243.1,910.7 244.8,910.3 246.5,910 248.2,910.6 249.9,910.7 251.6,910.2 253.3,911.1 255,910.5 256.7,910.3 258.4,910.9 260.1,910 261.7,910.5 263.4,910.9 265.1,911 266.8,909.9 268.5,910.8 270.2,910.2 271.9,910.5 273.6,911.2 275.3,910.4 277,910.8 278.7,910.6 280.4,910.5 282.1,910.5 283.8,910.4 285.5,910.7 287.1,910.5 288.8,910.2 290.5,911.3 292.2,910.7 293.9,910.1 295.6,911 297.3,910.7 299,910.8 300.7,910.3 302.4,910.6 304.1,909.9 305.8,910.2 307.5,910 309.2,910.9 310.9,910.9 312.5,911.1 314.2,910.5 315.9,911.1 317.6,910.4 319.3,910.6 321,909.8 322.7,910.1 324.4,910.7 326.1,909.9 327.8,910.5 329.5,910.5 331.2,910.8 332.9,910.3 334.6,910.6 336.3,911.2 337.9,910.9 339.6,910.9 341.3,910.2 343,910.3 344.7,911.2 346.4,911.1 348.1,910.7 349.8,910.5 351.5,910.5 353.2,911 354.9,910 356.6,911.3 358.3,910.2 360,910.8 361.6,910.4 363.3,910.8 365,910.5 366.7,911.1 368.4,910.3 370.1,910.4 371.8,910.4 373.5,910 375.2,911.1 376.9,910.7 378.6,910.5 380.3,911 382,911.3 383.7,910.3 385.4,910.5 387,910.9 388.7,911.1 390.4,910.2 392.1,910.3 393.8,911.1 395.5,910.7 397.2,910.7 398.9,911 400.6,910 402.3,910.5 404,909.5 405.7,910.7 407.4,911 409.1,910.1 410.8,910.7 412.4,910.6 414.1,910.4 415.8,910.7 417.5,910.7 419.2,910.3 420.9,910.3 422.6,910.8 424.3,910.6 426,910.6 427.7,910.5 429.4,910.8 431.1,910.2 432.8,910.4 434.5,911 436.2,910.5 437.8,910.2 439.5,910.5 441.2,910.7 442.9,910.1 444.6,910.5 446.3,910.5 448,910.7 449.7,911 451.4,910.8 453.1,909.9 454.8,910.5 456.5,910.7 458.2,910.4 459.9,910.3 461.6,910.5 463.2,910.8 464.9,910.6 466.6,910.5 468.3,910.7 470,911.1 471.7,911.1 473.4,910.2 475.1,911 476.8,910.9 478.5,910.6 480.2,911.1 481.9,910.5 483.6,909.7 485.3,911 487,910.6 488.6,910.2 490.3,910.6 492,910.3 493.7,910.1 495.4,910.9 497.1,910.4 498.8,910.6 500.5,910.2 502.2,910.2 503.9,911 505.6,911.1 507.3,910.5 509,910.6 510.7,910.1 512.4,910.4 514,910.9 515.7,910.1 517.4,910.8 519.1,910 520.8,910.5 522.5,910.6 524.2,910.2 525.9,909.9 527.6,910.9 529.3,910.9 531,910 532.7,911.1 534.4,910.5 536.1,911.3 537.8,910.5 539.4,910.3 541.1,910.8 542.8,910.5 544.5,911 546.2,910.9 547.9,911 549.6,910.4 551.3,909.9 553,910.2 554.7,910.7 556.4,910.6 558.1,910.7 559.8,910.7 561.5,910.9 563.2,910.3 564.8,910.3 566.5,910.8 568.2,910.8 569.9,910.3 571.6,910.7 573.3,910.4 575,910.1 576.7,910.1 578.4,910.4 580.1,910.3 581.8,910.7 583.5,910.8 585.2,910.5 586.9,910.3 588.6,911 590.2,910.6 591.9,910.3 593.6,910.5 595.3,910.9 597,910.7 598.7,911.2 600.4,910 602.1,910.5 603.8,910.4 605.5,910.5 607.2,910.4 608.9,910.8 610.6,910.4 612.3,910.2 614,910.8 615.6,910.8 617.3,910 619,910.2 620.7,910 622.4,910.9 624.1,910.2 625.8,910.4 627.5,909.7 629.2,910.1 630.9,910.5 632.6,910.3 634.3,910.8 636,910.2 637.7,910.2 639.4,910.7 641,909.7 642.7,910.5 644.4,909.8 646.1,910.3 647.8,910.5 649.5,910.9 651.2,909.7 652.9,909.8 654.6,910.5 656.3,909.6 658,910.1 659.7,909.7 661.4,909.5 663.1,909.9 664.8,910 666.4,910.8 668.1,910.1 669.8,910.5 671.5,909.9 673.2,909.9 674.9,909.7 676.6,908.9 678.3,909.8 680,909.4 681.7,909.4 683.4,909 685.1,909.6 686.8,909.9 688.5,909.3 690.1,909.4 691.8,909 693.3,908.5 693.5,908.8 693.6,908.7 693.9,908.6 694.2,909.2 694.5,908.6 694.7,909.2 695,908.2 695.2,908.5 695.3,908.7 695.6,909 695.9,908.5 696.2,909 696.5,909 696.8,908.5 696.9,908.4 697.1,908.9 697.4,908.5 697.6,908.5 697.9,908.3 698.2,909.1 698.5,908.6 698.6,908.3 698.8,909 699.1,908.7 699.4,908.2 699.7,908.3 700,908 700.3,908.6 700.3,908.4 700.6,908.6 700.8,907.9 701.1,908.4 701.4,909 701.7,908.6 702,908.8 702,908.6 702.3,908.2 702.6,908.4 702.9,907.9 703.2,908.5 703.5,908.6 703.7,908.2 703.7,908.4 704,907.4 704.3,908.7 704.6,908.4 704.9,908 705.2,907.9 705.4,907.3 705.5,908 705.8,908 706.1,907.5 706.4,908.3 706.6,907.6 706.9,907.6 707.1,907.6 707.2,907.6 707.5,908 707.8,907.6 708.1,907.2 708.4,907.5 708.7,906.9 708.8,907.1 709,907.2 709.3,907.4 709.6,907.6 709.8,906.4 710.1,907.6 710.4,907.5 710.5,906.8 710.7,906.4 711,907.2 711.3,906.7 711.6,906.5 711.9,906.8 712.2,906.8 712.2,906.3 712.5,906.6 712.7,906.1 713,905.8 713.3,905.8 713.6,906.7 713.9,906.1 713.9,906.8 714.2,905.9 714.5,906 714.8,906.1 715.1,906.4 715.4,906.1 715.5,906.3 715.6,905.7 715.9,904.9 716.2,905.5 716.5,906.1 716.8,905.6 717.1,905.7 717.2,905.2 717.4,905.7 717.7,905 718,905.6 718.3,905.1 718.5,905.1 718.8,905.8 718.9,905.1 719.1,905 719.4,904.6 719.7,904.9 720,904.3 720.3,904.5 720.6,904.4 720.6,904.8 720.9,904.4 721.2,903.5 721.5,903.8 721.7,903.8 722,903.6 722.3,903.5 722.3,903.4 722.6,903.4 722.9,903.1 723.2,903.3 723.5,903 723.8,901.7 724,902.7 724.1,902.9 724.4,901.6 724.6,902.3 724.9,901.6 725.2,901.6 725.5,901 725.7,900.9 725.8,900.4 726.1,900.5 726.4,900 726.7,900 727,899.4 727.3,899.8 727.4,899 727.5,899.3 727.8,899.3 728.1,898.2 728.4,898.1 728.7,897.5 729,897.5 729.1,896.8 729.3,896.8 729.6,896.5 729.9,896.6 730.2,895.6 730.5,895.8 730.7,894.6 730.8,895.4 731,895 731.3,894.1 731.6,894 731.9,893.9 732.2,892.2 732.5,892.3 732.5,891.9 732.8,891.2 733.1,891.2 733.4,890.5 733.6,889.7 733.9,889.4 734.2,888.7 734.2,888.6 734.5,887.9 734.8,887.5 735.1,886 735.4,886.2 735.7,885.4 735.9,883.7 736,883.8 736.3,883 736.5,883 736.8,882.3 737.1,880.7 737.4,880.2 737.6,880 737.7,879 738,878.1 738.3,877.3 738.6,876.6 738.9,875.4 739.2,874.2 739.3,874 739.4,873.7 739.7,872.9 740,872 740.3,871.5 740.6,870.1 740.9,868.8 740.9,868.6 741.2,868.1 741.5,866.9 741.8,866.4 742.1,865.5 742.4,865 742.6,864.1 742.6,863.9 742.9,863.8 743.2,862.5 743.5,861.7 743.8,860.7 744.1,860.5 744.3,859.9 744.4,860 744.7,860.2 745,860 745.3,858.9 745.5,858.2 745.8,858.6 746,858.4 746.1,858 746.4,858.3 746.5,858.1 746.7,857.9 747,858.4 747.3,858.1 747.6,858.5 747.7,859.2 747.9,858.6 748.2,858.6 748.4,859.3 748.7,860.4 749,860.9 749.3,861.2 749.4,861.4 749.6,861.9 749.9,862.8 750.2,863.1 750.5,864 750.8,864.4 751.1,866 751.1,865.8 751.4,866.9 751.6,867 751.9,868.7 752.2,868.9 752.5,870.1 752.8,871.6 752.8,871.1 753.1,872 753.4,873.3 753.7,874 754,874.9 754.3,875.5 754.5,876.5 754.5,875.9 754.8,877.8 755.1,878.6 755.4,878.7 755.7,879.9 756,881.3 756.2,882.4 756.3,881.8 756.6,882.5 756.9,883.8 757.2,884.8 757.4,885 757.7,885.6 757.9,885.7 758,886.9 758.3,887.4 758.6,888.1 758.9,888.8 759.2,889.7 759.5,890 759.6,890 759.8,890 760.1,891.2 760.3,892.1 760.6,892.1 760.9,892.4 761.2,893.1 761.3,893.7 761.5,894.6 761.8,894.4 762.1,895.3 762.4,895.7 762.7,896.4 763,895.8 763,895.7 763.3,895.9 763.5,896.9 763.8,897 764.1,898.1 764.4,897.5 764.7,898.7 764.7,898.4 765,899.4 765.3,899.3 765.6,899.9 765.9,900.3 766.2,899.8 766.3,900.6 766.4,900.6 766.7,900 767,901 767.3,901.4 767.6,901.8 767.9,901 768,901.5 768.2,901.9 768.5,901.9 768.8,901.7 769.1,902.4 769.3,902.1 769.6,903.2 769.7,902.3 769.9,903.3 770.2,903.3 770.5,903.5 770.8,903.7 771.1,903.4 771.4,904.3 771.4,903.4 771.7,904.3 772,904.2 772.3,904.5 772.5,904.4 772.8,903.8 773.1,904.5 773.1,903.8 773.4,905 773.7,904.9 774,905.6 774.3,905.2 774.6,905.1 774.8,905.3 774.9,904.8 775.2,905.5 775.4,905.4 775.7,905 776,905.9 776.3,905.1 776.5,905.4 776.6,905.9 776.9,905.3 777.2,905.5 777.5,905.8 777.8,906.2 778.1,906.4 778.2,906.5 778.3,905.8 778.6,906.1 778.9,906.6 779.2,906.7 779.5,906.3 779.8,907.3 779.9,906.3 780.1,906.4 780.4,907.2 780.7,906.8 781,907 781.2,906.8 781.5,907.1 781.6,907.6 781.8,906.9 782.1,906.8 782.4,906.6 782.7,907.1 783,907.1 783.3,907 783.3,907.5 783.6,907.5 783.9,907.2 784.2,906.7 784.4,907.8 784.7,907.8 785,907.4 785,907.6 785.3,908 785.6,907.8 785.9,907.9 786.2,907.7 786.5,907.7 786.7,907.6 786.8,908.1 787.1,907.5 787.3,907.9 787.6,907.8 787.9,907.9 788.2,908.4 788.4,907.7 788.5,908.5 788.8,907.8 789.1,907.7 789.4,908.1 789.7,908.2 790,907.9 790.1,908.2 790.2,907.2 790.5,908.1 790.8,907.8 791.1,908.4 791.4,908.2 791.7,908.8 791.7,908.7 792,908.5 792.3,908.4 792.6,908.5 792.9,908.8 793.2,908.3 793.4,908.2 793.4,909.2 793.7,908.9 794,908.4 794.3,908.3 794.6,908.7 794.9,908.9 795.1,909.2 795.2,907.9 795.5,908.1 795.8,908.3 796.1,908.5 796.3,908.5 796.6,908.8 796.8,908.8 796.9,908.4 797.2,908.8 797.5,908.9 797.8,908.7 798.1,908.7 798.4,909.5 798.5,909 798.7,909.3 799,909.2 799.2,908.7 799.5,909.2 800.2,908.8 801.9,908.4 803.6,909.3 805.3,909.2 807,909 808.7,909.3 810.4,909.7 812.1,908.9 813.8,909.6 815.5,909.7 817.1,909.1 818.8,908.5 820.5,909.4 822.2,909.5 823.9,910.1 825.6,909.5 827.3,909.4 829,909.9 830.7,909.5 832.4,909.7 834.1,910.2 835.8,910.3 837.5,909.2 839.2,910.3 840.9,910.2 842.5,910.1 844.2,908.9 845.9,909.9 847.6,909.7 849.3,909.3 851,910.3 852.7,909.7 854.4,910.6 856.1,909.7 857.8,909.8 859.5,910.5 861.2,909.9 862.9,910.3 864.6,909.3 866.3,909.8 867.9,910.4 869.6,909.8 871.3,909.1 873,910.1 874.7,910.1 876.4,909.9 878.1,909.1 879.8,908.9 881.5,909.1 883.2,909 884.9,909 886.6,909.1 888.3,908.8 890,907.9 891.7,908.6 893.3,907.9 895,908.7 896.7,907.7 898.4,908.2 900.1,908 901.8,907 903.5,907.2 905.2,907.2 906.9,906.8 908.6,906.3 910.3,906.5 912,906.4 913.7,905.7 915.4,906.1 917.1,906 918.7,906 920.4,906.2 922.1,905.7 923.8,905.9 925.5,906.5 927.2,906 928.9,907.2 930.6,906.7 932.3,906.7 934,906.8 935.7,907 937.4,907.3 939.1,908.1 940.8,908.1 942.5,908.4 944.1,908.1 945.8,908.9 947.5,908.5 949.2,908.6 950.9,909.2 952.6,908.7 954.3,908.9 956,909.4 957.7,909.4 959.4,909.5 961.1,909.9 962.8,909.2 964.5,909.7 966.2,909.6 967.9,909.5 969.5,909.8 971.2,910.2 972.9,909.6 974.6,910.9 976.3,910.4 978,910.5 979.7,911.2 981.4,909.9 983.1,910 984.8,910.4 986.5,910.6 988.2,910.3 989.9,910 991.6,910.7 993.3,909.9 994.9,910.2 996.6,910.9 998.3,909.9 1000,910.3 1001.7,910.5 1003.4,909.5 1005.1,910.4 1006.8,910.5 1008.5,910 1010.2,910.3 1011.9,910.6 1013.6,910.6 1015.3,910.3 1017,910.5 1018.7,910.5 1020.3,910 1022,910.4 1023.7,911.1 1025.4,909.9 1027.1,910.7 1028.8,910.1 1030.5,910 1032.2,910.9 1033.9,910 1035.6,910.6 1037.3,910.4 1039,910.5 1040.7,910.1 1042.4,910.6 1044,910.3 1045.7,910.1 1047.4,910.3 1049.1,910.7 1050.8,910.7 1052.5,910.5 1054.2,910.5 1055.9,910.5 1057.6,909.8 1059.3,910.4 1061,910.2 1062.7,909.8 1064.4,910.6 1066.1,910.1 1067.8,909.9 1069.4,910.4 1071.1,910.6 1072.8,910.4 1074.5,910.4 1076.2,911.1 1077.9,911.3 1079.6,910.1 1081.3,910.9 1083,910.1 1084.7,910.1 1086.4,910.1 1088.1,910.8 1089.8,910.3 1091.5,910.4 1093.2,910.7 1094.8,910.4 1096.5,910.2 1098.2,911.1 1099.9,910.8 1101.6,910.2 1103.3,909.9 1105,910.4 1106.7,910.7 1108.4,911.1 1110.1,911 1111.8,910.5 1113.5,910.1 1115.2,910.8 1116.9,910.3 1118.6,910 1120.2,909.8 1121.9,910.3 1123.6,910.5 1125.3,911.1 1127,910.2 1128.7,910.8 1130.4,910.3 1132.1,910.5 1133.8,910.8 1135.5,911.1 1137.2,910.2 1138.9,910.6 1140.6,910.6 1142.3,911 1144,910.5 1145.6,911.2 1147.3,910 1149,910.8 1150.7,910.2 1152.4,910.4 1154.1,910.7 1155.8,910.8 1157.5,909.9 1159.2,910.8 1160.9,910.7 1162.6,910.3 1164.3,910.7 1166,910.8 1167.7,910.6 1169.4,910.4 1171,910.5 1172.7,910.5 1174.4,911.4 1176.1,911.2 1177.8,910.7 1179.5,910.5 1181.2,910.1 1182.9,909.5 1184.6,911.1 1186.3,910.3 1188,909.6 1189.7,910.5 1191.4,911.5 1193.1,910.4 1194.8,910.9 1196.4,910.7 1198.1,910.5 1199.8,909.9 1201.5,910.3 1203.2,910.5 1204.9,910.5 1206.6,910.6 1208.3,910.9 1210,910.5 1211.7,910.9 1213.4,910.1 1215.1,909.8 1216.8,911 1218.5,910.7 1220.2,910.8 1221.8,910.4 1223.5,909.9 1225.2,911 1226.9,910.1 1228.6,910.2 1230.3,910.5 1232,910.7 1233.7,910.8 1235.4,910.4 1237.1,909.9 1238.8,910.9 1240.5,909.9 1242.2,910.6 1243.9,910.2 1245.6,910.2 1247.2,910.5 1248.9,910.2 1250.6,910.5 1252.3,910.7 1254,910.9 1255.7,910.7 1257.4,911.2 1259.1,911 1260.8,911.5 1262.5,910.9 1264.2,910.7 1265.9,910.2 1267.6,910.4 1269.3,910.2 1271,910.4 1272.6,910.4 1274.3,910.8 1276,910.3 1277.7,910.8 1279.4,910 1281.1,910.5 1282.8,909.9 1284.5,910.5 1286.2,910.6 1287.9,911.6 1289.6,910.4 1291.3,910.7 1293,910.6 1294.7,909.8 1296.4,910.7 1298,910.6 1299.7,910.1 1301.4,909.6 1303.1,910.8 1304.8,910.3 1306.5,911 1308.2,910.7 1309.9,910.6 1311.6,910.3 1313.3,911.1 1315,911 1316.7,910.8 1318.4,910.9 1320.1,910.5 1321.8,910.2 1323.4,910.5 1325.1,910.3 1326.8,910.1 1328.5,911.5 1330.2,910.6 1331.9,910.6 1333.6,910.7 1335.3,910.1 1337,910.8 1338.7,910.4 1340.4,911.1 1342.1,909.9 1343.8,910.7 1345.5,910.8 1347.2,910.7 1348.8,910.3 1350.5,911.1 1352.2,911 1353.9,910.3 1355.6,910.2 1357.3,911.1 1359,910.3 1360.7,910.7 1362.4,910.4 1364.1,911 1365.8,910.8 1367.5,910.1 1369.2,911 1370.9,910 1372.5,910.9 1374.2,910.7 1375.9,911.1 1377.6,910.3 1379.3,911 1381,910.9 1382.7,910.5 1384.4,910.9 1386.1,910.8 1387.8,910.2 1389.5,911.1 1391.2,910.3 1392.9,910.2 1394.6,910.5 1396.3,910.8 1397.9,910.7 1399.6,910.7 1401.3,910.1 1403,909.9 1404.7,910.5 1406.4,911.3 1408.1,910.1 1409.8,909.9 1411.5,910.7 1413.2,910.2 1414.9,909.3 1416.6,910.5 1418.3,909.8 1420,910.4 1421.7,911.3 1423.3,910.4 1425,910.3 1426.7,910.5 1428.4,911 1430.1,910.4 1431.8,910.4 1433.5,910.1 1435.2,910.6 1436.9,910.4 1438.6,910.4 1440.3,910.4 1442,910.5 1443.7,911.2 1445.4,909.9 1447.1,910.2 1448.7,910.3 1450.4,910.6 1452.1,909.9 1453.8,910 1455.5,910.5 1457.2,909.8 1458.9,910.3 1460.6,909.6 1462.3,910.1 1464,910 1465.7,909.6 1467.4,908.8 1469.1,910.1 1470.8,909 1472.5,910.1 1474.1,909.7 1475.8,910.1 1477.5,909.6 1479.2,908.8 1480.9,909.3 1482.6,908.2 1484.3,908.7 1486,908.1 1487.7,908.2 1489.4,907.8 1491.1,907.8 1492.8,908.5 1494.5,907.8 1496.2,907.7 1497.9,908 1499.5,907.2 1501.2,907.7 1502.9,907.5 1504.6,907.7 1506.3,907.8 1508,907.5 1509.7,907.3 1511.4,907.3 1513.1,907.6 1514.8,907.3 1516.5,907.4 1518.2,907.7 1519.9,908.2 1521.6,908.3 1523.3,908.7 1524.9,908.3 1526.6,908.7 1528.3,909.2 1530,908.9 1531.7,908.7 1533.4,908.4 1535.1,909 1536.8,909.3 1538.5,909.8 1540.2,909.3 1541.9,910.1 1543.6,909.3 1545.3,909 1547,909.9 1548.7,909.5 1550.3,910.4 1552,909.7 1553.7,910 1555.4,909.8 1557.1,909.5 1558.8,909.2 1560.5,910.2 1562.2,910.6 1563.9,909.7 1565.6,909.6 1567.3,910.3 1569,910.3 1570.7,910.7 1572.4,910 1574.1,910.1 1575.7,909.8 1577.4,910.1 1579.1,909.8 1580.8,909.9 1582.5,910.4 1584.2,910.4 1585.9,910.7 1587.6,910.4 1589.3,909.7 1591,910.4 1592.7,909.8 1594.4,910.6 1596.1,910.9 1597.8,910.5 1599.5,910.5 1601.1,910.4 1602.8,910.3 1604.5,910 1606.2,910.1 1607.9,910.7 1609.6,910.8 1611.3,910.8 1613,911.1 1614.7,910 1616.4,909.9 1618.1,910.5 1619.8,910.2 1621.5,910.4 1623.2,910.7 1624.9,910.3 1626.5,910.6 1628.2,910.6 1629.9,910.3 1631.6,910.7 1633.3,910.5 1635,910.4 1636.7,910.3 1638.4,910.5 1640.1,910.1 1641.8,910.9 1643.5,911 1645.2,910.7 1646.9,910.3 1648.6,911.1 1650.3,911 1651.9,910.4 1653.6,910.5 1655.3,910.8 1657,910.3 1658.7,910.1 1660.4,910.9 1662.1,910.8 1663.8,911.2 1665.5,910.3 1667.2,910.5 1668.9,911.5 1670.6,911.2 1672.3,910.3 1674,910.3 1675.7,910.6 1677.3,910.2 1679,909.9 1680.7,911 1682.4,911.4 1684.1,910.9 1685.8,910.4 1687.5,910.4 1689.2,910.5 1690.9,910.5 1692.6,910.8 1694.3,910.1 1696,910.4 1697.7,910.7 1699.4,910.3 1701,911.4 1702.7,911.3 1704.4,910.2 1706.1,909.6 1707.8,910.9 1709.5,910.5 1711.2,911 1712.9,909.8 1714.6,910.4 1716.3,911 1718,911 1719.7,910.9 1721.4,910.8 1723.1,910.9 1724.8,910.2 1726.4,910.4 1728.1,910.3 1729.8,910.7 1731.5,911 1733.2,910.9 1734.9,910.1 1736.6,910.5 1738.3,910.8 1740,910 1741.7,910.5 1743.4,910.3 1745.1,910.6 1746.8,910.4 1748.5,910.2 1750.2,910.3 1751.8,910.8 1753.5,910.2 1755.2,910.4 1756.9,911 1758.6,910.6 1760.3,910.2 1762,910.6 1763.7,910.7 1765.4,910.9 1767.1,910.6 1768.8,910.6 1770.5,910.1 1772.2,909.9 1773.9,910.3 1775.6,911 1777.2,910.2 1778.9,910.6 1780.6,911 1782.3,910.6 1784,910.3 1785.7,910.4 1787.4,910.8 1789.1,910.4 1790.8,910.5 1792.5,910.9 1794.2,910.5 1795.9,910.8 1797.6,910.4 1799.3,910.8 1801,910.6 1802.6,910.5 1804.3,910.8 1806,910.4 1807.7,910.2 1809.4,910.7 1811.1,911.1 1812.8,910.9 1814.5,910.7 1816.2,911 1817.9,910.8 1819.6,910.5 1821.3,911 1823,910.3 1824.7,910.5 1826.4,910.6 1828,910.5 1829.7,910.2 1831.4,910.7 1833.1,910.2 1834.8,910.2 1836.5,910.6 1838.2,910.6 1839.9,910.3 1841.6,910.9 1843.3,910.7 1845,910.6 1846.7,910.4 1848.4,910.5 1850.1,911 1851.8,910.4 1853.4,910.6 1855.1,910.3 1856.8,910.7 1858.5,910.4 1860.2,909.9 1861.9,910.9 1863.6,910.7"/>
<polyline clip-path="url(#cc)" fill="none" stroke="#0000ff" stroke-width="13" stroke-linejoin="round" stroke-linecap="square" points="172,971 173.7,970.7 175.4,970.9 177.1,971.2 178.8,971.1 180.5,971.2 182.2,971.2 183.9,970.4 185.5,971.6 187.2,971.5 188.9,971.3 190.6,970.6 192.3,970.7 194,971.2 195.7,970.9 197.4,970.1 199.1,971 200.8,970.7 202.5,970.7 204.2,971.1 205.9,971.1 207.6,971 209.3,970.8 210.9,970.6 212.6,970.9 214.3,971.4 216,970.7 217.7,971.2 219.4,970.7 221.1,970.9 222.8,970.9 224.5,970.7 226.2,971 227.9,970.8 229.6,970.8 231.3,970.7 233,970.4 234.7,970.9 236.3,971.4 238,971 239.7,971.1 241.4,971.1 243.1,970.3 244.8,971 246.5,970.7 248.2,971.2 249.9,971.3 251.6,970.6 253.3,971.1 255,970.9 256.7,971.1 258.4,971 260.1,971.1 261.7,971 263.4,971.1 265.1,970.6 266.8,971.2 268.5,971.3 270.2,971.8 271.9,971.2 273.6,971.3 275.3,971.1 277,971.1 278.7,971 280.4,971.7 282.1,971.1 283.8,971.2 285.5,970.7 287.1,970.9 288.8,970.8 290.5,971.3 292.2,970.8 293.9,970.7 295.6,970.5 297.3,971.1 299,970.7 300.7,970.4 302.4,970.8 304.1,971.3 305.8,970.9 307.5,970.9 309.2,970.5 310.9,971.4 312.5,970.6 314.2,970.7 315.9,971.4 317.6,970.5 319.3,971.1 321,970.7 322.7,970.9 324.4,971 326.1,971.1 327.8,970.9 329.5,970.9 331.2,970.6 332.9,970.8 334.6,970.9 336.3,971.3 337.9,971 339.6,971 341.3,971 343,970.8 344.7,971.2 346.4,970.9 348.1,970.9 349.8,971.5 351.5,971.5 353.2,970.7 354.9,971.5 356.6,971.4 358.3,970.8 360,971.3 361.6,971.1 363.3,970.7 365,970.5 366.7,970.6 368.4,970.8 370.1,971.6 371.8,971 373.5,970.8 375.2,971.3 376.9,970.3 378.6,971.3 380.3,971 382,970.5 383.7,970.4 385.4,970.8 387,971.2 388.7,970.6 390.4,970.7 392.1,971 393.8,971.4 395.5,971 397.2,971.2 398.9,971.4 400.6,971.8 402.3,971.3 404,971 405.7,971.3 407.4,971 409.1,970.8 410.8,971.2 412.4,971.2 414.1,971.1 415.8,971.2 417.5,970.8 419.2,971.8 420.9,971.1 422.6,970.5 424.3,971.4 426,970.8 427.7,970.2 429.4,970.5 431.1,970.6 432.8,971.2 434.5,970.7 436.2,971.2 437.8,970.6 439.5,970.5 441.2,971 442.9,970.7 444.6,971.1 446.3,971.3 448,970.7 449.7,970.6 451.4,971.3 453.1,970.5 454.8,970.8 456.5,970.7 458.2,971.8 459.9,971 461.6,970.7 463.2,971 464.9,971.3 466.6,970 468.3,970.5 470,971.2 471.7,971 473.4,970.9 475.1,971 476.8,971.2 478.5,971.7 480.2,971.7 481.9,971.1 483.6,970.5 485.3,972 487,970.4 488.6,970.9 490.3,971.1 492,971.2 493.7,971.4 495.4,971.4 497.1,970.5 498.8,971.1 500.5,970.9 502.2,971.5 503.9,971.1 505.6,970.8 507.3,970.6 509,971.1 510.7,970.6 512.4,970.4 514,970.9 515.7,971.1 517.4,971.2 519.1,970.7 520.8,971 522.5,971.3 524.2,970.5 525.9,970.8 527.6,971.7 529.3,971.6 531,971.2 532.7,971 534.4,971 536.1,970.6 537.8,971.2 539.4,970.5 541.1,971 542.8,970.7 544.5,972.1 546.2,970.9 547.9,971.1 549.6,971.4 551.3,970.8 553,971.1 554.7,970 556.4,970.8 558.1,971.5 559.8,970.2 561.5,970.5 563.2,971.2 564.8,970.5 566.5,970.8 568.2,970.9 569.9,970.6 571.6,971.1 573.3,971.3 575,970.9 576.7,970.6 578.4,970.6 580.1,971.6 581.8,971 583.5,971.2 585.2,970.8 586.9,970.4 588.6,970.5 590.2,971.1 591.9,971.1 593.6,970.3 595.3,970.4 597,970.9 598.7,970.5 600.4,970.4 602.1,970.8 603.8,970.9 605.5,971.1 607.2,971.2 608.9,971 610.6,971.3 612.3,971.2 614,970.6 615.6,970.6 617.3,971.2 619,970.8 620.7,970.8 622.4,971.4 624.1,970.5 625.8,970 627.5,970.9 629.2,970.6 630.9,971.2 632.6,970.2 634.3,971.6 636,970.7 637.7,970.7 639.4,970.8 641,971.1 642.7,970.9 644.4,970.5 646.1,970.3 647.8,970.8 649.5,970.5 651.2,970.4 652.9,970.8 654.6,969.6 656.3,970.5 658,970.7 659.7,970.2 661.4,970.7 663.1,970 664.8,970.8 666.4,970.7 668.1,970.1 669.8,970.6 671.5,970.6 673.2,970.9 674.9,970.1 676.6,970 678.3,970.6 680,969.8 681.7,971 683.4,970.7 685.1,970 686.8,969.9 688.5,970.5 690.1,970.1 691.8,969.8 693.5,970 694.5,970.8 694.8,970.3 695.1,969.7 695.2,969.4 695.4,969.6 695.7,970 696,969.5 696.2,969.5 696.5,970.1 696.8,969.1 696.9,969.9 697.1,970.7 697.4,970.3 697.7,969.8 698,969.9 698.3,970.4 698.6,970.1 698.6,969.9 698.9,969.5 699.1,970 699.4,969.6 699.7,969.6 700,969.3 700.3,970.1 700.3,969.8 700.6,969.8 700.9,969.2 701.2,969.8 701.5,970.4 701.8,969.4 702,970.4 702.1,969.9 702.3,970.4 702.6,970.2 702.9,969.6 703.2,969.4 703.5,969.6 703.7,969 703.8,969.6 704.1,969.5 704.4,969.1 704.7,969.5 705,969.2 705.2,969.7 705.4,968.9 705.5,969.5 705.8,969.6 706.1,969.3 706.4,969.2 706.7,969.2 707,969.7 707.1,969.9 707.3,969.4 707.6,969.2 707.9,969.2 708.1,969.3 708.4,969 708.7,969.4 708.8,968.4 709,968.2 709.3,969.3 709.6,969.1 709.9,969.5 710.2,969.2 710.5,969.3 710.5,969.1 710.8,968.6 711,969.5 711.3,968.9 711.6,969.3 711.9,969.3 712.2,968.8 712.2,969.5 712.5,969 712.8,969.1 713.1,968.7 713.4,968.9 713.7,969.2 713.9,968.6 714,968.9 714.2,968.7 714.5,968.8 714.8,968.8 715.1,968.2 715.4,968.4 715.5,968.8 715.7,968.7 716,968.7 716.3,968.2 716.6,968.4 716.9,967.9 717.1,968.7 717.2,967.9 717.4,968 717.7,968.7 718,968.3 718.3,968.6 718.6,968.5 718.9,968 718.9,968.2 719.2,968.3 719.5,968.1 719.8,968.6 720,968 720.3,967.4 720.6,967.4 720.6,968 720.9,968.3 721.2,967.8 721.5,967.7 721.8,968 722.1,967.9 722.3,967.7 722.4,967.2 722.7,967.5 723,967 723.2,967 723.5,966.4 723.8,967.2 724,966.7 724.1,967.2 724.4,966.6 724.7,966.3 725,966.8 725.3,965.9 725.6,966 725.7,966 725.9,966 726.1,966.1 726.4,965.9 726.7,966.2 727,965.6 727.3,965.5 727.4,965.9 727.6,965.7 727.9,965.3 728.2,964.8 728.5,964.7 728.8,964.8 729,964.5 729.1,964.4 729.3,964.6 729.6,963.4 729.9,964.1 730.2,963.4 730.5,963.2 730.8,962.6 730.8,962.9 731.1,962.5 731.4,963.4 731.7,961.9 732,961.7 732.2,961.7 732.5,961.3 732.5,962.1 732.8,961.2 733.1,961.1 733.4,960.7 733.7,960.8 734,959.9 734.2,959.7 734.3,959.5 734.6,958.9 734.9,958.6 735.1,958.4 735.4,957.8 735.7,957.7 735.9,957.3 736,956.7 736.3,956.4 736.6,955.5 736.9,955.5 737.2,955.1 737.5,954.7 737.6,954.6 737.8,954.2 738,954 738.3,953.1 738.6,952.4 738.9,952.1 739.2,950.7 739.3,951 739.5,950.9 739.8,950.8 740.1,950.1 740.4,949.6 740.7,948.8 740.9,947.7 740.9,948.5 741.2,947.9 741.5,946.6 741.8,946.3 742.1,945.8 742.4,944.8 742.6,943.7 742.7,944.5 743,944 743.3,943.4 743.6,942.6 743.9,942.4 744.1,941.6 744.3,941.1 744.4,941.1 744.7,940.4 745,940 745.3,940.3 745.6,938.4 745.9,938 746,938.2 746.2,939.1 746.5,938.1 746.8,937.4 747,937 747.3,936.6 747.6,936.4 747.7,937.1 747.9,936.8 748.2,935.7 748.5,936.2 748.8,936.4 748.9,936.6 749.1,936.4 749.4,936.9 749.4,937 749.7,936.7 749.9,937.2 750.2,936.5 750.5,936.9 750.8,937.5 751.1,937.6 751.1,937.5 751.4,937.4 751.7,937.7 752,938.9 752.3,939 752.6,939.6 752.8,939.8 752.9,939.2 753.1,940.6 753.4,941.2 753.7,942.2 754,941.9 754.3,942.3 754.5,942.7 754.6,943.4 754.9,944.5 755.2,944 755.5,944.8 755.8,945.6 756,946 756.2,945.6 756.3,946.9 756.6,947.9 756.9,947.6 757.2,948.5 757.5,948 757.8,950.4 757.9,949.9 758.1,950.2 758.4,950.9 758.7,951 758.9,952.1 759.2,952.6 759.5,953 759.6,953.5 759.8,953.6 760.1,954.5 760.4,954.4 760.7,955.4 761,955.8 761.3,955.5 761.3,955.4 761.6,956.4 761.8,956.6 762.1,957.3 762.4,958.2 762.7,957.7 763,958.6 763,958.4 763.3,959.3 763.6,959.7 763.9,959.8 764.2,960.5 764.5,960.6 764.7,960.4 764.8,960.8 765,961.2 765.3,961.1 765.6,961.6 765.9,962.2 766.2,962.3 766.3,962.9 766.5,962.3 766.8,963 767.1,962.6 767.4,962.8 767.7,963 767.9,963.2 768,963.5 768.2,963.9 768.5,964.1 768.8,964.8 769.1,964 769.4,965 769.7,964.7 769.7,964.9 770,965.9 770.3,965.4 770.6,965.4 770.8,965.7 771.1,964.9 771.4,965.8 771.4,965.2 771.7,966.3 772,965.8 772.3,966.3 772.6,967.1 772.9,966.5 773.1,966.6 773.2,966.7 773.5,967.1 773.8,967.3 774,966.5 774.3,967.6 774.6,966.9 774.8,966.9 774.9,967.5 775.2,968 775.5,967.2 775.8,966.9 776.1,968.6 776.4,967.6 776.5,966.8 776.7,967.6 776.9,968.1 777.2,967.9 777.5,968.2 777.8,968.2 778.1,968.1 778.2,968.1 778.4,967.7 778.7,968.1 779,967.8 779.3,968.1 779.6,968.9 779.8,968.1 779.9,968.3 780.1,968.5 780.4,968.9 780.7,968.4 781,967.7 781.3,968.8 781.6,968.8 781.6,968.6 781.9,968.3 782.2,968.5 782.5,968.2 782.7,968.3 783,969.1 783.3,969 783.3,968.4 783.6,968.3 783.9,968.8 784.2,968.8 784.5,968.4 784.8,968.5 785,969 785.1,969.6 785.4,968.9 785.7,969.1 785.9,969.6 786.2,968.9 786.5,969 786.7,968.7 786.8,969.1 787.1,969 787.4,969.2 787.7,969.5 788,969 788.3,968.9 788.4,968.3 788.6,969.4 788.8,968.7 789.1,969.4 789.4,969.2 789.7,969.5 790,969.5 790.1,969.3 790.3,969.6 790.6,969.2 790.9,968.8 791.2,969.8 791.5,969.5 791.7,969.9 791.7,969.5 792,969.5 792.3,969.6 792.6,969.7 792.9,969.1 793.2,969.5 793.4,969.4 793.5,969.6 793.8,969.4 794.1,969.8 794.4,969.4 794.7,969.3 794.9,969.7 795.1,969.7 795.2,969.4 795.5,969.3 795.8,969.8 796.1,970 796.4,969.8 796.7,970.4 796.8,970 797,969.5 797.3,969.7 797.6,970.5 797.8,969.5 798.1,970.2 798.4,969.5 798.5,969.6 798.7,970 799,970.1 799.3,970.1 799.6,969.4 799.9,970 800.2,970 800.2,969.9 800.5,969.9 800.7,970.7 801,970.3 801.3,969.7 801.6,970.2 801.9,970.1 801.9,969.8 802.2,969.8 802.5,969.9 802.8,969.5 803.1,970.3 803.6,970 805.3,970 807,970.6 808.7,970.3 810.4,970.9 812.1,970.4 813.8,970.4 815.5,970 817.1,970.2 818.8,970.3 820.5,970 822.2,970.7 823.9,969.6 825.6,970.8 827.3,970.6 829,970.6 830.7,970.4 832.4,970.9 834.1,970.6 835.8,970.3 837.5,970.4 839.2,971.2 840.9,971 842.5,970.5 844.2,970.4 845.9,970.4 847.6,970 849.3,969.8 851,970.2 852.7,970.2 854.4,970.4 856.1,970.3 857.8,970.3 859.5,970.3 861.2,970.5 862.9,970.8 864.6,971.1 866.3,970.2 867.9,970.3 869.6,970.8 871.3,970 873,969.6 874.7,971.1 876.4,970.7 878.1,970.3 879.8,970.6 881.5,970.2 883.2,969.8 884.9,970.1 886.6,969.9 888.3,969.7 890,970.2 891.7,969.4 893.3,969.7 895,970.7 896.7,968.9 898.4,969.4 900.1,969.7 901.8,969.1 903.5,968.4 905.2,968.9 906.9,968.6 908.6,968.2 910.3,967.8 912,968 913.7,967.8 915.4,967.8 917.1,968.2 918.7,967.4 920.4,967 922.1,966.8 923.8,967.3 925.5,967.3 927.2,966.5 928.9,966.7 930.6,966.8 932.3,967.2 934,967.4 935.7,967.5 937.4,967 939.1,967.5 940.8,967.7 942.5,968.3 944.1,968.5 945.8,968.9 947.5,968.5 949.2,968.6 950.9,968.4 952.6,968.7 954.3,968.5 956,969.3 957.7,969.6 959.4,969 961.1,969.7 962.8,969.5 964.5,970.3 966.2,970.4 967.9,969.7 969.5,970.6 971.2,970.6 972.9,970.4 974.6,970.3 976.3,970.3 978,970.8 979.7,970.4 981.4,970.4 983.1,970.8 984.8,970.4 986.5,970.4 988.2,970.3 989.9,970.4 991.6,970.5 993.3,971.5 994.9,971.2 996.6,970.1 998.3,970 1000,970.5 1001.7,970.3 1003.4,969.9 1005.1,971 1006.8,970.9 1008.5,970.7 1010.2,971.4 1011.9,970.9 1013.6,970.9 1015.3,971.2 1017,970.9 1018.7,970.5 1020.3,970.9 1022,971 1023.7,971 1025.4,970.7 1027.1,970.3 1028.8,970.7 1030.5,970.6 1032.2,970.7 1033.9,971.1 1035.6,971.5 1037.3,970.8 1039,971.2 1040.7,970.8 1042.4,971.4 1044,970 1045.7,971.1 1047.4,970.6 1049.1,970.8 1050.8,971.4 1052.5,970.9 1054.2,971.2 1055.9,970.8 1057.6,970.6 1059.3,971 1061,970.8 1062.7,971.5 1064.4,971.2 1066.1,971 1067.8,970.4 1069.4,970.6 1071.1,971.4 1072.8,970.6 1074.5,970.4 1076.2,970.9 1077.9,971.2 1079.6,971.2 1081.3,971.1 1083,970.5 1084.7,971.5 1086.4,970.8 1088.1,970.2 1089.8,970.5 1091.5,971 1093.2,971.3 1094.8,971.4 1096.5,970.6 1098.2,971.7 1099.9,971.2 1101.6,970.5 1103.3,969.9 1105,971.2 1106.7,970.5 1108.4,971.2 1110.1,970.6 1111.8,971.1 1113.5,971.1 1115.2,971.4 1116.9,970.7 1118.6,970.8 1120.2,971.3 1121.9,970.5 1123.6,971.2 1125.3,971.1 1127,970.7 1128.7,971.2 1130.4,971.4 1132.1,971.4 1133.8,971.4 1135.5,970.8 1137.2,970.7 1138.9,970.7 1140.6,971.1 1142.3,971.3 1144,970.4 1145.6,971 1147.3,971.5 1149,971.5 1150.7,971.1 1152.4,971.2 1154.1,971.4 1155.8,970.4 1157.5,971.1 1159.2,971.2 1160.9,971 1162.6,970.7 1164.3,971.3 1166,971.3 1167.7,970.9 1169.4,971.6 1171,970.9 1172.7,970.5 1174.4,970.9 1176.1,971.2 1177.8,970.9 1179.5,970.7 1181.2,970.8 1182.9,971.3 1184.6,970.9 1186.3,971.4 1188,970.8 1189.7,971.2 1191.4,971.1 1193.1,970.8 1194.8,971.2 1196.4,970.8 1198.1,970.3 1199.8,971.1 1201.5,971.3 1203.2,971.3 1204.9,971 1206.6,970.9 1208.3,971.4 1210,971.2 1211.7,971.3 1213.4,971.1 1215.1,971.1 1216.8,970.8 1218.5,971.1 1220.2,970.9 1221.8,970.6 1223.5,970.9 1225.2,970.9 1226.9,970.5 1228.6,971.2 1230.3,971.5 1232,971.2 1233.7,971.6 1235.4,970.7 1237.1,971.1 1238.8,971.3 1240.5,970.6 1242.2,970.7 1243.9,970.9 1245.6,971 1247.2,971.6 1248.9,971.2 1250.6,971.2 1252.3,971.3 1254,970.8 1255.7,971.2 1257.4,971 1259.1,971 1260.8,970.9 1262.5,971.2 1264.2,971.6 1265.9,970.9 1267.6,970.6 1269.3,970.6 1271,971.3 1272.6,970.9 1274.3,970.9 1276,971.3 1277.7,971.2 1279.4,970.5 1281.1,970.9 1282.8,970.9 1284.5,971.2 1286.2,971.3 1287.9,971 1289.6,971.1 1291.3,970.9 1293,970.7 1294.7,971.5 1296.4,970.9 1298,970.7 1299.7,970.8 1301.4,971.1 1303.1,970.3 1304.8,970.8 1306.5,971.1 1308.2,971.7 1309.9,970.9 1311.6,971.2 1313.3,970.3 1315,970.9 1316.7,970.9 1318.4,970.8 1320.1,970.2 1321.8,970.8 1323.4,971.1 1325.1,971 1326.8,971 1328.5,971.1 1330.2,971.2 1331.9,970.6 1333.6,970.8 1335.3,971 1337,971.1 1338.7,971 1340.4,971.1 1342.1,970.7 1343.8,971.6 1345.5,970.7 1347.2,971.2 1348.8,971.2 1350.5,970.7 1352.2,971.9 1353.9,970.5 1355.6,970.6 1357.3,970.7 1359,970.8 1360.7,970.3 1362.4,971.5 1364.1,970.9 1365.8,971.2 1367.5,970.6 1369.2,970.7 1370.9,970.5 1372.5,970.8 1374.2,970.9 1375.9,971.5 1377.6,970.5 1379.3,971 1381,970.2 1382.7,971.1 1384.4,970.7 1386.1,970.7 1387.8,971.1 1389.5,971.4 1391.2,970.6 1392.9,970.7 1394.6,971 1396.3,970.2 1397.9,970.2 1399.6,970.9 1401.3,970.8 1403,970.9 1404.7,970.9 1406.4,970.3 1408.1,970.5 1409.8,970.9 1411.5,970.5 1413.2,970.5 1414.9,970.6 1416.6,970.6 1418.3,970.7 1420,971.1 1421.7,970.8 1423.3,971 1425,971.1 1426.7,971.1 1428.4,970.4 1430.1,971.2 1431.8,970.7 1433.5,971.5 1435.2,970.6 1436.9,971.1 1438.6,970.6 1440.3,970.6 1442,970.2 1443.7,970.9 1445.4,970.9 1447.1,970.6 1448.7,970.6 1450.4,970.7 1452.1,971.2 1453.8,970.1 1455.5,970.6 1457.2,970 1458.9,970.4 1460.6,970.2 1462.3,970.4 1464,970.4 1465.7,969.7 1467.4,970.2 1469.1,970.3 1470.8,970.2 1472.5,969.8 1474.1,970.1 1475.8,969.8 1477.5,969.1 1479.2,969 1480.9,969.1 1482.6,968.7 1484.3,968.5 1486,969.4 1487.7,968.5 1489.4,968.2 1491.1,967.3 1492.8,968.1 1494.5,968.2 1496.2,967.1 1497.9,967 1499.5,966.7 1501.2,966.5 1502.9,966.1 1504.6,965.2 1506.3,965.4 1508,964.6 1509.7,965.7 1511.4,965.3 1513.1,965 1514.8,964.8 1516.5,964.3 1518.2,964.3 1519.9,964.4 1521.6,964.8 1523.3,964.3 1524.9,964.2 1526.6,964.5 1528.3,964.9 1530,965 1531.7,965.4 1533.4,966.1 1535.1,966.3 1536.8,966.1 1538.5,966.5 1540.2,967.1 1541.9,967.5 1543.6,967.8 1545.3,967.6 1547,967.9 1548.7,968.6 1550.3,968.5 1552,968.8 1553.7,968.4 1555.4,969.1 1557.1,969.8 1558.8,969.4 1560.5,969.8 1562.2,969 1563.9,969 1565.6,969.9 1567.3,970 1569,969 1570.7,970.1 1572.4,970.7 1574.1,970.2 1575.7,970.5 1577.4,970.8 1579.1,970.1 1580.8,970.2 1582.5,970.8 1584.2,970.6 1585.9,970.6 1587.6,970.2 1589.3,970.1 1591,970 1592.7,970.9 1594.4,971 1596.1,970.5 1597.8,971.3 1599.5,970.2 1601.1,970.5 1602.8,970.9 1604.5,970.8 1606.2,970.8 1607.9,970 1609.6,970.5 1611.3,970.7 1613,970.7 1614.7,970.5 1616.4,970.4 1618.1,970.9 1619.8,970.7 1621.5,971.1 1623.2,971.1 1624.9,970.7 1626.5,970.6 1628.2,971.3 1629.9,970.5 1631.6,970.4 1633.3,970.8 1635,971.2 1636.7,970.7 1638.4,970.9 1640.1,970.5 1641.8,971.4 1643.5,970.6 1645.2,970.8 1646.9,970.8 1648.6,971.3 1650.3,971.2 1651.9,970.6 1653.6,971 1655.3,970.7 1657,970.8 1658.7,970.6 1660.4,970.8 1662.1,970.7 1663.8,970.5 1665.5,970.6 1667.2,971.1 1668.9,971.5 1670.6,971 1672.3,971 1674,971.1 1675.7,971.2 1677.3,970.5 1679,971.4 1680.7,970.9 1682.4,971.6 1684.1,971 1685.8,971 1687.5,970.7 1689.2,971.1 1690.9,971.2 1692.6,971.3 1694.3,970.7 1696,971.3 1697.7,971.1 1699.4,971 1701,971.2 1702.7,970.8 1704.4,971 1706.1,971.1 1707.8,970.3 1709.5,970.5 1711.2,970.9 1712.9,971.3 1714.6,970.3 1716.3,970.5 1718,970.7 1719.7,970.7 1721.4,970.8 1723.1,971.6 1724.8,971 1726.4,971.6 1728.1,970.6 1729.8,970.6 1731.5,971.6 1733.2,970.7 1734.9,970.8 1736.6,971 1738.3,971.6 1740,971.2 1741.7,970.3 1743.4,970.4 1745.1,971 1746.8,971 1748.5,971.3 1750.2,970.8 1751.8,971.8 1753.5,970.9 1755.2,970.8 1756.9,971 1758.6,971 1760.3,970.7 1762,970.7 1763.7,971 1765.4,970.8 1767.1,971 1768.8,971.3 1770.5,971.6 1772.2,971.3 1773.9,971.2 1775.6,971.2 1777.2,971.5 1778.9,971.2 1780.6,971.3 1782.3,970.4 1784,971.7 1785.7,970.7 1787.4,971.3 1789.1,971 1790.8,971.1 1792.5,971.7 1794.2,970.8 1795.9,970.8 1797.6,971.3 1799.3,971.2 1801,970.5 1802.6,971.2 1804.3,971 1806,970.2 1807.7,970.6 1809.4,970.9 1811.1,970.8 1812.8,970.5 1814.5,971.2 1816.2,970.9 1817.9,971.4 1819.6,970.9 1821.3,971 1823,970.9 1824.7,971.2 1826.4,971.1 1828,971.3 1829.7,970.5 1831.4,971 1833.1,970.6 1834.8,970.6 1836.5,971.3 1838.2,970.9 1839.9,972 1841.6,971.5 1843.3,970.9 1845,971.2 1846.7,971.5 1848.4,970.4 1850.1,970.7 1851.8,971.3 1853.4,970.6 1855.1,971.2 1856.8,971.1 1858.5,971.3 1860.2,970.8 1861.9,970.1 1863.6,971"/>
<polyline clip-path="url(#cc)" fill="none" stroke="#ff0000" stroke-width="13" stroke-linejoin="round" stroke-linecap="square" points="172,1031 173.7,1031.2 175.4,1030.4 177.1,1031 178.8,1030.9 180.5,1031.3 182.2,1031.4 183.9,1031.3 185.5,1030.9 187.2,1030.9 188.9,1031 190.6,1031 192.3,1030.6 194,1031.4 195.7,1030.7 197.4,1031.2 199.1,1031.5 200.8,1031.6 202.5,1030.8 204.2,1031.3 205.9,1030.4 207.6,1030.9 209.3,1031.3 210.9,1031.4 212.6,1030.3 214.3,1030.4 216,1030.8 217.7,1031 219.4,1031.3 221.1,1031 222.8,1030.8 224.5,1031.4 226.2,1031.1 227.9,1030.9 229.6,1031.5 231.3,1030.7 233,1031.1 234.7,1030.5 236.3,1030.8 238,1031.1 239.7,1030.9 241.4,1031.7 243.1,1030.8 244.8,1030.6 246.5,1031 248.2,1031.8 249.9,1030.7 251.6,1031.2 253.3,1030.9 255,1030.7 256.7,1030.9 258.4,1031.4 260.1,1030.7 261.7,1031.2 263.4,1030.6 265.1,1030.3 266.8,1030.8 268.5,1031.2 270.2,1031 271.9,1031.3 273.6,1031.1 275.3,1030.7 277,1031.3 278.7,1031.7 280.4,1030.8 282.1,1031 283.8,1030.2 285.5,1030.9 287.1,1031.2 288.8,1030.9 290.5,1030.8 292.2,1031.3 293.9,1030.7 295.6,1031 297.3,1030.4 299,1031.1 300.7,1030.4 302.4,1030.9 304.1,1030.7 305.8,1031.3 307.5,1030.6 309.2,1031.2 310.9,1031.3 312.5,1030.6 314.2,1030.4 315.9,1031.4 317.6,1031.2 319.3,1031.4 321,1030.4 322.7,1031.2 324.4,1031.5 326.1,1031.6 327.8,1030.7 329.5,1031.4 331.2,1030.5 332.9,1030.7 334.6,1030.6 336.3,1030.9 337.9,1030.9 339.6,1031.4 341.3,1031 343,1030.8 344.7,1031 346.4,1031.8 348.1,1030.5 349.8,1030.7 351.5,1031 353.2,1030.4 354.9,1030.5 356.6,1030.7 358.3,1030.5 360,1030.3 361.6,1030.9 363.3,1031.1 365,1031.3 366.7,1030.8 368.4,1031.4 370.1,1030.7 371.8,1031 373.5,1030.7 375.2,1030.9 376.9,1031.1 378.6,1031.1 380.3,1031.5 382,1031.4 383.7,1030.7 385.4,1030.3 387,1030.8 388.7,1030.7 390.4,1030.9 392.1,1031.3 393.8,1031 395.5,1031.2 397.2,1031.1 398.9,1031.3 400.6,1030.7 402.3,1031.5 404,1031.2 405.7,1031.5 407.4,1030.8 409.1,1031.1 410.8,1031.2 412.4,1030.9 414.1,1030.9 415.8,1030.8 417.5,1030.9 419.2,1030.9 420.9,1030.6 422.6,1030.9 424.3,1031.5 426,1030.5 427.7,1031 429.4,1031.5 431.1,1030.8 432.8,1031.3 434.5,1031.3 436.2,1030.6 437.8,1030.6 439.5,1030.7 441.2,1030.7 442.9,1031.3 444.6,1030.6 446.3,1030.8 448,1030.8 449.7,1031.5 451.4,1031 453.1,1030.8 454.8,1031.2 456.5,1030.7 458.2,1031 459.9,1031.6 461.6,1030.8 463.2,1031 464.9,1031.1 466.6,1030.7 468.3,1030.9 470,1030.8 471.7,1031.2 473.4,1030.4 475.1,1030.8 476.8,1031.5 478.5,1031.2 480.2,1031.7 481.9,1031 483.6,1030.7 485.3,1031.3 487,1030.7 488.6,1031 490.3,1031.2 492,1030.7 493.7,1031.1 495.4,1030.9 497.1,1031.4 498.8,1031.3 500.5,1030.7 502.2,1031.2 503.9,1031.2 505.6,1030.6 507.3,1030.7 509,1030.8 510.7,1030.8 512.4,1031 514,1030.4 515.7,1031.2 517.4,1030.3 519.1,1030.4 520.8,1030.7 522.5,1031.5 524.2,1031.1 525.9,1031.7 527.6,1031.2 529.3,1031.5 531,1031.5 532.7,1030.2 534.4,1030.9 536.1,1030.7 537.8,1030.9 539.4,1030.7 541.1,1031.1 542.8,1031 544.5,1030.8 546.2,1031.1 547.9,1030.8 549.6,1030.9 551.3,1030.5 553,1031 554.7,1029.9 556.4,1030.2 558.1,1031.2 559.8,1030.8 561.5,1031.1 563.2,1030.4 564.8,1030.7 566.5,1030.7 568.2,1030.9 569.9,1030.8 571.6,1030.8 573.3,1030.9 575,1030.9 576.7,1030.8 578.4,1030.4 580.1,1031 581.8,1031.4 583.5,1031 585.2,1030.5 586.9,1030.1 588.6,1031.4 590.2,1031.1 591.9,1030.8 593.6,1030.8 595.3,1030 597,1030.7 598.7,1030.6 600.4,1030.7 602.1,1030.9 603.8,1030.7 605.5,1030.6 607.2,1030.8 608.9,1030.8 610.6,1030.7 612.3,1030.8 614,1030.6 615.6,1031 617.3,1031 619,1030.2 620.7,1030.7 622.4,1030.6 624.1,1030.8 625.8,1030.3 627.5,1030.9 629.2,1030.8 630.9,1030.8 632.6,1030 634.3,1030.5 636,1030.3 637.7,1030.6 639.4,1030.8 641,1030 642.7,1030.5 644.4,1030.5 646.1,1030.3 647.8,1031.2 649.5,1030.3 651.2,1030.3 652.9,1030.3 654.6,1031 656.3,1030.6 658,1030.5 658.2,1030.7 658.5,1029.6 658.8,1029.8 659.1,1030.2 659.4,1030.5 659.7,1030.3 659.7,1030.5 660,1030.5 660.3,1030.8 660.5,1030.6 660.8,1030.7 661.1,1030.2 661.4,1030.4 661.4,1030.6 661.7,1029.8 662,1030.5 662.3,1031.2 662.6,1030.1 662.9,1030.8 663.1,1029.9 663.2,1030.3 663.4,1030.2 663.7,1029.8 664,1030.1 664.3,1030 664.6,1030.4 664.8,1030.1 664.9,1030.7 665.2,1030 665.5,1030.6 665.8,1031.2 666.1,1030.2 666.3,1030.1 666.4,1030.4 666.6,1030.4 666.9,1030.1 667.2,1030.4 667.5,1029.6 667.8,1029.8 668.1,1029.6 668.1,1030.6 668.4,1030.5 668.7,1029.8 669,1030.2 669.2,1030.7 669.5,1030.7 669.8,1029.4 669.8,1030.2 670.1,1030.7 670.4,1030.4 670.7,1030.5 671,1029.4 671.3,1029.8 671.5,1030 671.6,1030.7 671.9,1030.4 672.2,1029.9 672.4,1030.2 672.7,1029.6 673,1029.9 673.2,1030.5 673.3,1030.5 673.6,1030.3 673.9,1030.9 674.2,1030.4 674.5,1030.2 674.8,1030.2 674.9,1029.6 675.1,1029.8 675.3,1030.1 675.6,1030.5 675.9,1030.5 676.2,1029.9 676.5,1030.5 676.6,1030.4 676.8,1030.3 677.1,1030.5 677.4,1030.6 677.7,1030.1 678,1030.5 678.2,1030.6 678.3,1029.5 678.5,1029.6 678.8,1029.9 679.1,1030.3 679.4,1030.5 679.7,1029.6 680,1029.9 680,1030.2 680.3,1029.8 680.6,1030.1 680.9,1029.9 681.2,1029.7 681.4,1030.2 681.7,1030.2 681.7,1029.9 682,1029.6 682.3,1030.4 682.6,1030.7 682.9,1030.4 683.2,1029.4 683.4,1029.9 683.5,1030.1 683.8,1029.2 684.1,1029.7 684.3,1030 684.6,1029.9 684.9,1029.9 685.1,1030.3 685.2,1029.8 685.5,1030.2 685.8,1030.5 686.1,1029.4 686.4,1029.6 686.7,1030 686.8,1030.5 687,1029.8 687.2,1030.2 687.5,1029.3 687.8,1029.8 688.1,1030.6 688.4,1030.3 688.5,1030.2 688.7,1029.4 689,1029.7 689.3,1029.2 689.6,1029.2 689.9,1029.8 690.1,1029.5 690.1,1029.9 690.4,1030.2 690.7,1030.2 691,1030 691.3,1029.8 691.6,1029.8 691.8,1029.4 691.9,1029.6 692.2,1029.6 692.5,1029.9 692.8,1029.7 693.1,1029.5 693.3,1029.7 693.5,1029.3 693.6,1029.9 693.9,1029.5 694.2,1029.7 694.5,1029.9 694.8,1029.5 695.1,1029.5 695.2,1029.5 695.4,1029.3 695.7,1029.3 696,1029.4 696.2,1028.6 696.5,1029.1 696.8,1028.9 696.9,1029.1 697.1,1029.2 697.4,1029.3 697.7,1029.2 698,1029.9 698.3,1029.1 698.6,1029.2 698.6,1029.4 698.9,1029.5 699.1,1029.9 699.4,1029.1 699.7,1029.2 700,1029.7 700.3,1028.6 700.3,1028.8 700.6,1029.6 700.9,1029.2 701.2,1029.1 701.5,1029.2 701.8,1029.6 702,1029.4 702.1,1028.7 702.3,1028.9 702.6,1029.1 702.9,1029.2 703.2,1029 703.5,1028.9 703.7,1029.3 703.8,1028.8 704.1,1028.9 704.4,1028.9 704.7,1028.5 705,1029 705.2,1028.4 705.4,1028.4 705.5,1028.9 705.8,1028.4 706.1,1028.2 706.4,1028.4 706.7,1028.2 707,1028.2 707.1,1028.8 707.3,1029.3 707.6,1028 707.9,1029.4 708.1,1028.1 708.4,1028.1 708.7,1027.6 708.8,1027.5 709,1028.4 709.3,1028.2 709.6,1027.7 709.9,1028.3 710.2,1028.5 710.5,1027.7 710.5,1027.3 710.8,1027.4 711,1028 711.3,1027.9 711.6,1028 711.9,1027.6 712.2,1027.8 712.2,1027.3 712.5,1027.4 712.8,1028 713.1,1027.5 713.4,1027.5 713.7,1027 713.9,1026.8 714,1027.5 714.2,1027.4 714.5,1027.1 714.8,1026.8 715.1,1026.4 715.4,1026.4 715.5,1027.2 715.7,1027.4 716,1026.7 716.3,1027 716.6,1026.5 716.9,1026.7 717.1,1027 717.2,1026.4 717.4,1025.8 717.7,1025.6 718,1026.4 718.3,1026 718.6,1025.5 718.9,1025.5 718.9,1025.1 719.2,1026.1 719.5,1025.1 719.8,1026.3 720,1024.7 720.3,1024.8 720.6,1024.8 720.6,1024.9 720.9,1024.7 721.2,1025.1 721.5,1024.9 721.8,1024.5 722.1,1024.6 722.3,1024.5 722.4,1024.5 722.7,1023.9 723,1024.3 723.2,1024.1 723.5,1024.3 723.8,1024 724,1023.3 724.1,1023.6 724.4,1023.3 724.7,1023.4 725,1023.2 725.3,1023 725.6,1022.7 725.7,1023 725.9,1022.2 726.1,1022.4 726.4,1022 726.7,1021.6 727,1021.9 727.3,1022.2 727.4,1021.6 727.6,1021.9 727.9,1021.1 728.2,1021.3 728.5,1020.9 728.8,1020.6 729,1019.7 729.1,1020.5 729.3,1020.6 729.6,1020.3 729.9,1019.3 730.2,1020 730.5,1019 730.8,1019.4 730.8,1019.3 731.1,1018.8 731.4,1018.8 731.7,1018.2 732,1018 732.2,1018 732.5,1017.6 732.5,1017.7 732.8,1018.3 733.1,1017.7 733.4,1017 733.7,1016.6 734,1016.5 734.2,1016.8 734.3,1016.6 734.6,1016.7 734.9,1016 735.1,1015.7 735.4,1015.3 735.7,1015.7 735.9,1014.7 736,1015.3 736.3,1014.1 736.6,1014.9 736.9,1014 737.2,1013.9 737.5,1014.3 737.6,1013.5 737.8,1013.7 738,1013.1 738.3,1012.9 738.6,1012.7 738.9,1012.4 739.2,1012.3 739.3,1012 739.5,1012.1 739.8,1011.5 740.1,1011.4 740.4,1011.4 740.7,1010.5 740.9,1010.5 740.9,1010.9 741.2,1010.8 741.5,1010.9 741.8,1009.4 742.1,1010 742.4,1010.4 742.6,1009.7 742.7,1009.7 743,1009.3 743.3,1009.1 743.6,1009.6 743.9,1008.8 744.1,1007.9 744.3,1008.7 744.4,1008.5 744.7,1008.9 745,1008.8 745.3,1008.3 745.6,1007.8 745.9,1008 746,1008.2 746.2,1007.5 746.5,1007.8 746.8,1008.2 747,1007.5 747.3,1008.3 747.6,1007.5 747.7,1007.9 747.9,1007.9 748.2,1007.2 748.5,1007.3 748.8,1007.9 748.9,1007.2 749.1,1007.8 749.4,1007.9 749.4,1007.1 749.7,1007.9 749.9,1007.7 750.2,1007.7 750.5,1007.6 750.8,1007.7 751.1,1008.3 751.1,1007.5 751.4,1008.3 751.7,1008.3 752,1007.7 752.3,1008.3 752.6,1008.1 752.8,1008.5 752.9,1008.3 753.1,1008.6 753.4,1008.3 753.7,1008.2 754,1008.8 754.3,1009.1 754.5,1009.1 754.6,1009.3 754.9,1009.8 755.2,1010 755.5,1009.4 755.8,1009.8 756,1010.2 756.2,1010.7 756.3,1010.1 756.6,1010.9 756.9,1011.1 757.2,1011.3 757.5,1011.4 757.8,1011.3 757.9,1012.2 758.1,1011.4 758.4,1011.8 758.7,1012.4 758.9,1012.8 759.2,1013.3 759.5,1013.1 759.6,1012.9 759.8,1013.6 760.1,1013.7 760.4,1014.1 760.7,1014.5 761,1014 761.3,1014.4 761.3,1013.8 761.6,1014.8 761.8,1014.3 762.1,1015.5 762.4,1015.3 762.7,1015.9 763,1016.3 763,1015.1 763.3,1016.4 763.6,1016.6 763.9,1016.6 764.2,1017.3 764.5,1017.5 764.7,1017 764.8,1017.5 765,1017.7 765.3,1017.4 765.6,1018.1 765.9,1018.3 766.2,1018.4 766.3,1018.5 766.5,1018.7 766.8,1018.6 767.1,1019.7 767.4,1019.5 767.7,1019.6 767.9,1019.7 768,1020.2 768.2,1020.6 768.5,1020 768.8,1020.5 769.1,1020.9 769.4,1020.8 769.7,1020.8 769.7,1020.9 770,1021.7 770.3,1021.4 770.6,1022.1 770.8,1021.8 771.1,1022.4 771.4,1021.8 771.4,1022.1 771.7,1022.6 772,1022.1 772.3,1022.3 772.6,1022.6 772.9,1023.5 773.1,1023 773.2,1023.1 773.5,1023.4 773.8,1023.5 774,1024.1 774.3,1023.9 774.6,1023.3 774.8,1024.6 774.9,1024.3 775.2,1024.5 775.5,1024.3 775.8,1025.2 776.1,1025.1 776.4,1025.5 776.5,1025.1 776.7,1025 776.9,1024.3 777.2,1025.4 777.5,1025.3 777.8,1025.5 778.1,1025.4 778.2,1025.8 778.4,1026 778.7,1026 779,1025.7 779.3,1025.8 779.6,1025.5 779.8,1025.7 779.9,1026.1 780.1,1026.8 780.4,1025.7 780.7,1026.5 781,1026.4 781.3,1026.8 781.6,1026.7 781.6,1026.3 781.9,1026.9 782.2,1027 782.5,1027.1 782.7,1026.7 783,1026.7 783.3,1027.3 783.3,1027.3 783.6,1027 783.9,1027.4 784.2,1026.5 784.5,1027.5 784.8,1027.7 785,1027.8 785.1,1027.9 785.4,1027.6 785.7,1027.4 785.9,1027.7 786.2,1027.7 786.5,1028.3 786.7,1028.1 786.8,1027.4 787.1,1027.8 787.4,1028.7 787.7,1028.2 788,1027.7 788.3,1028.3 788.4,1028.8 788.6,1028.3 788.8,1028.3 789.1,1027.9 789.4,1028.5 789.7,1028.2 790,1027.6 790.1,1028.2 790.3,1028.6 790.6,1028.8 790.9,1028.7 791.2,1028.2 791.5,1027.9 791.7,1028.6 791.7,1028.7 792,1028.7 792.3,1028.6 792.6,1028.5 792.9,1028.5 793.2,1027.8 793.4,1028.8 793.5,1028.3 793.8,1028.8 794.1,1028 794.4,1028.8 794.7,1028.2 794.9,1029 795.1,1028.7 795.2,1029.1 795.5,1029.5 795.8,1029.3 796.1,1028.8 796.4,1029.5 796.7,1029.2 796.8,1029.3 797,1028.9 797.3,1029.8 797.6,1029 797.8,1028.9 798.1,1029.2 798.4,1029.7 798.5,1028.9 798.7,1029.3 799,1029.1 799.3,1028.7 799.6,1029.2 799.9,1029.4 800.2,1029.8 800.2,1029.6 800.5,1029.4 800.7,1029.2 801,1030 801.3,1029.4 801.6,1029.3 801.9,1029.8 801.9,1029.5 802.2,1029.3 802.5,1029.9 802.8,1029.8 803.1,1029.3 803.4,1029 803.6,1030.2 803.6,1029.7 803.9,1029.8 804.2,1029.5 804.5,1029.7 804.8,1030.2 805.1,1029.6 805.3,1030 805.4,1029.6 805.7,1029.7 806,1029.2 806.3,1029.7 806.6,1030.2 806.8,1029.6 807,1029.6 807.1,1029.3 807.4,1029.3 807.7,1029.5 808,1029.8 808.3,1030.1 808.6,1029.6 808.7,1030.1 808.9,1030.2 809.2,1029.2 809.5,1029.8 809.7,1029.6 810,1030.2 810.3,1029.3 810.4,1029.7 810.6,1030.4 810.9,1029.9 811.2,1030.3 811.5,1029.6 811.8,1029.6 812.1,1029.7 812.1,1029.7 812.4,1030.3 812.6,1029.9 812.9,1029.8 813.2,1030.3 813.5,1029.6 813.8,1030.1 813.8,1030.2 814.1,1029.1 814.4,1029.4 814.7,1029.9 815,1030.2 815.3,1029.9 815.5,1030.6 815.6,1029.7 815.8,1029.6 816.1,1030.1 816.4,1029.7 816.7,1030.1 817,1029.6 817.1,1029.8 817.3,1029.7 817.6,1030 817.9,1030.7 818.2,1030.4 818.5,1031.1 818.7,1030.2 818.8,1029.9 819,1029.7 819.3,1030.3 819.6,1029.8 819.9,1030.3 820.2,1030 820.5,1029.5 820.5,1029.8 820.8,1029.7 821.1,1030.1 821.4,1030.1 821.6,1029.4 821.9,1030.2 822.2,1030.3 822.2,1031 822.5,1029.9 822.8,1030.6 823.1,1030.2 823.4,1030.1 823.7,1030.2 823.9,1030.2 824,1030.1 824.3,1030.1 824.5,1030.3 824.8,1030.3 825.1,1030 825.4,1029.9 825.6,1029.6 825.7,1030.1 826,1030.3 826.3,1030.8 826.6,1029.9 826.9,1029.6 827.2,1031 827.3,1029.4 827.5,1029.8 827.7,1030 828,1030.7 828.3,1029.9 828.6,1030.9 828.9,1030 829,1029.7 829.2,1030.5 829.5,1030.4 829.8,1030.3 830.1,1030.7 830.4,1029.7 830.6,1029.8 830.7,1030.3 830.9,1030.8 831.2,1029.7 831.5,1031 831.8,1030.1 832.1,1030.2 832.4,1030.4 832.4,1030.5 832.7,1030.4 833,1030.8 833.3,1030.4 833.5,1029.9 833.8,1030.6 834.1,1029.3 834.1,1030.4 834.4,1030.6 834.7,1030.5 835,1030.1 835.3,1030.4 835.6,1030.5 835.8,1030.4 835.9,1030.4 836.2,1030.7 836.5,1030.5 836.7,1030.7 837,1031.2 837.3,1030.6 837.5,1030.4 837.6,1029.9 837.9,1030.4 838.2,1030.9 838.5,1030 838.8,1030.6 839.1,1029.5 839.2,1029.9 839.4,1030.3 840.9,1030.6 842.5,1029.8 844.2,1030 845.9,1030.7 847.6,1030 849.3,1030.9 851,1031.1 852.7,1030.4 854.4,1030.3 856.1,1030.7 857.8,1030.5 859.5,1029.9 861.2,1030.7 862.9,1030.3 864.6,1031.2 866.3,1030.7 867.9,1030.7 869.6,1030.3 871.3,1031.1 873,1030.6 874.7,1030.6 876.4,1029.9 878.1,1030.9 879.8,1030.3 881.5,1030.2 883.2,1030.9 884.9,1030.5 886.6,1030.3 888.3,1030 890,1030.4 891.7,1030 893.3,1030.6 895,1029.3 896.7,1030.1 898.4,1029.9 900.1,1029.3 901.8,1029.2 903.5,1029.4 905.2,1030 906.9,1029.8 908.6,1029.2 910.3,1029 912,1029 913.7,1030.2 915.4,1029.5 917.1,1028.6 918.7,1029.3 920.4,1029.6 922.1,1029.7 923.8,1029.2 925.5,1029.1 927.2,1029.5 928.9,1029.4 930.6,1029.5 932.3,1029.1 934,1029.3 935.7,1028.9 937.4,1029.7 939.1,1029.6 940.8,1029.8 942.5,1029.6 944.1,1029.9 945.8,1029.7 947.5,1030.3 949.2,1030.1 950.9,1030 952.6,1030.1 954.3,1030.2 956,1030.7 957.7,1030.5 959.4,1030 961.1,1030.6 962.8,1029.6 964.5,1030.3 966.2,1030.3 967.9,1030.7 969.5,1029.9 971.2,1030.6 972.9,1031.1 974.6,1029.9 976.3,1030.5 978,1030.2 979.7,1031.1 981.4,1030.6 983.1,1030.4 984.8,1030.7 986.5,1030.5 988.2,1030.7 989.9,1030.7 991.6,1030.6 993.3,1031.5 994.9,1030.4 996.6,1031 998.3,1030.8 1000,1030.3 1001.7,1030.8 1003.4,1031.2 1005.1,1030.4 1006.8,1031.7 1008.5,1030.6 1010.2,1031 1011.9,1029.7 1013.6,1030.8 1015.3,1031 1017,1031.1 1018.7,1031.3 1020.3,1030.9 1022,1031.2 1023.7,1030.5 1025.4,1030.8 1027.1,1030.7 1028.8,1031.3 1030.5,1031.1 1032.2,1030.8 1033.9,1030.7 1035.6,1030.8 1037.3,1031.1 1039,1030.5 1040.7,1030.6 1042.4,1031.1 1044,1030.7 1045.7,1030.6 1047.4,1031.2 1049.1,1031.3 1050.8,1030.3 1052.5,1030.6 1054.2,1031.4 1055.9,1031.4 1057.6,1030.9 1059.3,1030.8 1061,1031 1062.7,1030.7 1064.4,1030.3 1066.1,1030.8 1067.8,1030.2 1069.4,1031.5 1071.1,1030.6 1072.8,1030.9 1074.5,1031.2 1076.2,1030.8 1077.9,1030.6 1079.6,1031.3 1081.3,1030.4 1083,1031 1084.7,1031.1 1086.4,1031.2 1088.1,1030.5 1089.8,1031.5 1091.5,1030.9 1093.2,1030.1 1094.8,1031.1 1096.5,1030.9 1098.2,1031.1 1099.9,1030.7 1101.6,1031.1 1103.3,1031.4 1105,1031.1 1106.7,1030.9 1108.4,1030.9 1110.1,1031.9 1111.8,1030.4 1113.5,1031.3 1115.2,1031.2 1116.9,1031.5 1118.6,1031 1120.2,1031 1121.9,1030.8 1123.6,1030.4 1125.3,1031.1 1127,1030.9 1128.7,1031.4 1130.4,1031.4 1132.1,1030.8 1133.8,1031 1135.5,1031.5 1137.2,1030.3 1138.9,1031.5 1140.6,1030.9 1142.3,1031.1 1144,1030.9 1145.6,1030.5 1147.3,1030.6 1149,1031 1150.7,1030.4 1152.4,1030.5 1154.1,1031.2 1155.8,1030.5 1157.5,1030.9 1159.2,1031.7 1160.9,1030.6 1162.6,1030.5 1164.3,1031.5 1166,1031.1 1167.7,1030.4 1169.4,1031.3 1171,1031.7 1172.7,1030.4 1174.4,1031.3 1176.1,1031.3 1177.8,1030.9 1179.5,1030.6 1181.2,1031.2 1182.9,1030.3 1184.6,1031 1186.3,1031.1 1188,1030.9 1189.7,1030.5 1191.4,1031.6 1193.1,1030.6 1194.8,1031.5 1196.4,1030.8 1198.1,1030.8 1199.8,1030.9 1201.5,1030.4 1203.2,1030.4 1204.9,1030.3 1206.6,1031.1 1208.3,1031 1210,1030.7 1211.7,1031 1213.4,1031 1215.1,1031.3 1216.8,1030.3 1218.5,1031.2 1220.2,1031 1221.8,1031.3 1223.5,1030.9 1225.2,1030.9 1226.9,1031.1 1228.6,1030.6 1230.3,1031 1232,1031 1233.7,1030.7 1235.4,1030.6 1237.1,1031 1238.8,1031.4 1240.5,1031.3 1242.2,1031.1 1243.9,1030.9 1245.6,1031.1 1247.2,1031 1248.9,1030.4 1250.6,1031.1 1252.3,1031 1254,1031.4 1255.7,1031.2 1257.4,1031.3 1259.1,1031.1 1260.8,1031.1 1262.5,1030.6 1264.2,1030.6 1265.9,1030.3 1267.6,1031.5 1269.3,1030.6 1271,1031.4 1272.6,1031.4 1274.3,1030.9 1276,1031.3 1277.7,1031.4 1279.4,1030.9 1281.1,1031.1 1282.8,1030.6 1284.5,1030.8 1286.2,1030.7 1287.9,1031 1289.6,1030.5 1291.3,1030.9 1293,1031.1 1294.7,1031.2 1296.4,1030.7 1298,1030.7 1299.7,1030.8 1301.4,1031 1303.1,1031 1304.8,1031 1306.5,1031.1 1308.2,1031.2 1309.9,1030.8 1311.6,1030.8 1313.3,1031.2 1315,1031.2 1316.7,1030.8 1318.4,1030.9 1320.1,1030.5 1321.8,1031.1 1323.4,1031 1325.1,1031 1326.8,1031.2 1328.5,1031.3 1330.2,1030.9 1331.9,1030.5 1333.6,1030.6 1335.3,1030.6 1337,1030.7 1338.7,1030.7 1340.4,1030.4 1342.1,1031.2 1343.8,1031.1 1345.5,1030.5 1347.2,1030.8 1348.8,1031.2 1350.5,1030.9 1352.2,1031.3 1353.9,1031.1 1355.6,1030.9 1357.3,1031.7 1359,1031.4 1360.7,1031.4 1362.4,1030.9 1364.1,1031.5 1365.8,1031.2 1367.5,1031.1 1369.2,1030.6 1370.9,1031.7 1372.5,1030.9 1374.2,1031.1 1375.9,1031 1377.6,1030.7 1379.3,1031.1 1381,1030.7 1382.7,1031.1 1384.4,1030.8 1386.1,1030.3 1387.8,1030.8 1389.5,1031.6 1391.2,1031 1392.9,1030.9 1394.6,1031.3 1396.3,1031.6 1397.9,1031 1399.6,1031.4 1401.3,1031.4 1403,1031.5 1404.7,1031.3 1406.4,1030.9 1408.1,1030.9 1409.8,1031.1 1411.5,1031.1 1413.2,1030.9 1414.9,1030.8 1416.6,1031.1 1418.3,1031.2 1420,1031 1421.7,1030.9 1423.3,1031 1425,1030.9 1426.7,1030.9 1428.4,1030.5 1430.1,1031 1431.8,1030.8 1433.5,1030.9 1435.2,1031.3 1436.9,1030.9 1438.6,1030.4 1440.3,1031.4 1442,1031.3 1443.7,1030.3 1445.4,1030.8 1447.1,1030.3 1448.7,1030.5 1450.4,1031.1 1452.1,1031.1 1453.8,1031.3 1455.5,1030.9 1457.2,1030.8 1458.9,1031.3 1460.6,1031 1462.3,1031 1464,1031 1465.7,1031 1467.4,1030.2 1469.1,1030.6 1470.8,1030.6 1472.5,1030.6 1474.1,1030.1 1475.8,1030.3 1477.5,1030.2 1479.2,1030.2 1480.9,1030.9 1482.6,1029.3 1484.3,1030.3 1486,1030.3 1487.7,1029.6 1489.4,1030 1491.1,1030 1492.8,1029.8 1494.5,1029.7 1496.2,1030 1497.9,1030.1 1499.5,1029.7 1501.2,1029.9 1502.9,1029.8 1504.6,1029.2 1506.3,1029.6 1508,1029.5 1509.7,1029.7 1511.4,1029.2 1513.1,1028.9 1514.8,1029.5 1516.5,1029 1518.2,1029.1 1519.9,1029.5 1521.6,1030 1523.3,1029.7 1524.9,1029.6 1526.6,1029.2 1528.3,1030.2 1530,1029.7 1531.7,1030.1 1533.4,1030 1535.1,1030 1536.8,1030.1 1538.5,1030 1540.2,1029.9 1541.9,1029.6 1543.6,1030.7 1545.3,1029.9 1547,1030.7 1548.7,1030.7 1550.3,1030.8 1552,1030 1553.7,1030.9 1555.4,1030.9 1557.1,1030.1 1558.8,1031.2 1560.5,1030.6 1562.2,1030.8 1563.9,1030.4 1565.6,1030 1567.3,1030.8 1569,1031 1570.7,1030.9 1572.4,1031 1574.1,1030.9 1575.7,1030.3 1577.4,1031 1579.1,1030.6 1580.8,1030.6 1582.5,1031.4 1584.2,1031.1 1585.9,1031 1587.6,1030.6 1589.3,1030.1 1591,1031.2 1592.7,1031 1594.4,1030.6 1596.1,1032.2 1597.8,1031.3 1599.5,1030.9 1601.1,1031.2 1602.8,1031.1 1604.5,1030.7 1606.2,1031.2 1607.9,1030.8 1609.6,1030.5 1611.3,1031.1 1613,1031 1614.7,1031.4 1616.4,1031.6 1618.1,1030.3 1619.8,1031.3 1621.5,1031.1 1623.2,1030.8 1624.9,1030.5 1626.5,1031.4 1628.2,1031.1 1629.9,1031 1631.6,1030.6 1633.3,1031 1635,1030.8 1636.7,1030.4 1638.4,1030.8 1640.1,1031.1 1641.8,1031.3 1643.5,1030.7 1645.2,1031.2 1646.9,1031 1648.6,1031.8 1650.3,1031.1 1651.9,1030.9 1653.6,1030.7 1655.3,1030.6 1657,1030.8 1658.7,1030.9 1660.4,1030.9 1662.1,1031.2 1663.8,1031.4 1665.5,1030.6 1667.2,1030.8 1668.9,1031.2 1670.6,1031.5 1672.3,1031 1674,1031.1 1675.7,1031.3 1677.3,1030.9 1679,1030.7 1680.7,1031 1682.4,1031.1 1684.1,1031.1 1685.8,1030.4 1687.5,1031 1689.2,1031.3 1690.9,1031.6 1692.6,1031 1694.3,1031.1 1696,1030.8 1697.7,1031 1699.4,1031.4 1701,1030.8 1702.7,1030.7 1704.4,1030.3 1706.1,1031 1707.8,1031 1709.5,1031.1 1711.2,1031.3 1712.9,1031.2 1714.6,1030.8 1716.3,1030.8 1718,1031.5 1719.7,1030.8 1721.4,1030.4 1723.1,1030.5 1724.8,1030.8 1726.4,1030.9 1728.1,1030.4 1729.8,1031.6 1731.5,1030.9 1733.2,1030.9 1734.9,1030.7 1736.6,1031.2 1738.3,1031 1740,1030.4 1741.7,1031.4 1743.4,1030.7 1745.1,1030.6 1746.8,1030.8 1748.5,1031.7 1750.2,1031.3 1751.8,1031.1 1753.5,1031.5 1755.2,1030.8 1756.9,1031.3 1758.6,1031.3 1760.3,1031.2 1762,1031 1763.7,1031.8 1765.4,1030.8 1767.1,1031.4 1768.8,1031 1770.5,1030.9 1772.2,1030.6 1773.9,1031.3 1775.6,1030.9 1777.2,1031.3 1778.9,1030.2 1780.6,1031.7 1782.3,1030.7 1784,1031.4 1785.7,1031.1 1787.4,1030.5 1789.1,1031.1 1790.8,1030.6 1792.5,1030.7 1794.2,1030.6 1795.9,1030.8 1797.6,1031.3 1799.3,1031.2 1801,1031.1 1802.6,1030.6 1804.3,1031.2 1806,1031.2 1807.7,1031.2 1809.4,1030.8 1811.1,1030.9 1812.8,1031 1814.5,1031.8 1816.2,1030.8 1817.9,1030.3 1819.6,1031.2 1821.3,1030.6 1823,1031.2 1824.7,1031.1 1826.4,1031.3 1828,1031 1829.7,1030.5 1831.4,1030.5 1833.1,1031.2 1834.8,1031.5 1836.5,1031 1838.2,1030.9 1839.9,1031.2 1841.6,1031.1 1843.3,1031 1845,1031.5 1846.7,1031.1 1848.4,1029.9 1850.1,1030.9 1851.8,1031 1853.4,1031.6 1855.1,1031.5 1856.8,1030.9 1858.5,1030.9 1860.2,1031 1861.9,1031.1 1863.6,1030.8"/>
<ellipse cx="265" cy="272.5" rx="12" ry="13.3" fill="#ff8000"/>
<ellipse cx="436" cy="255.3" rx="12" ry="13.3" fill="#ff8000"/>
<ellipse cx="569.8" cy="250" rx="12" ry="13.3" fill="#ff8000"/>
</svg></body></html>
